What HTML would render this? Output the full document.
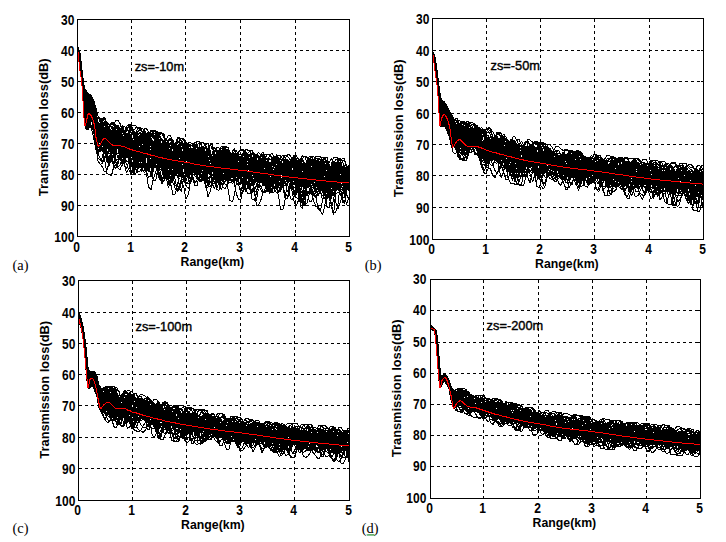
<!DOCTYPE html>
<html><head><meta charset="utf-8"><title>Transmission loss</title>
<style>
html,body{margin:0;padding:0;background:#fff;}
body{width:726px;height:542px;overflow:hidden;}
svg{display:block;}
text{font-family:"Liberation Sans",sans-serif;fill:#000;}
.t{font-size:14.2px;font-weight:bold;}
.l{font-size:13.4px;font-weight:bold;}
.a{font-size:13.2px;font-weight:normal;stroke:#000;stroke-width:0.4px;}
.s{font-family:"Liberation Serif",serif;font-size:14.4px;}
.g{fill:none;stroke:#000;stroke-width:1;stroke-dasharray:3 3;shape-rendering:crispEdges;}
.f{fill:none;stroke:#000;stroke-width:1;shape-rendering:crispEdges;}
.k{fill:none;stroke:#000;stroke-width:2;stroke-linejoin:bevel;transform:scale(0.5);shape-rendering:crispEdges;}
.r{fill:none;stroke:#f00;stroke-width:2;stroke-linejoin:round;transform:scale(0.5);shape-rendering:crispEdges;}
</style></head>
<body>
<svg width="726" height="542" viewBox="0 0 726 542">
<rect width="726" height="542" fill="#fff"/>
<g id="pa">
<path class="g" d="M131.5 19.5V236.5M185.5 19.5V236.5M240.5 19.5V236.5M295.5 19.5V236.5M77.5 50.5H349.5M77.5 81.5H349.5M77.5 112.5H349.5M77.5 143.5H349.5M77.5 174.5H349.5M77.5 205.5H349.5"/>
<path class="k" d="M155 95l2 12 2 5 2 12 2 23 2 21 2 19 2 20 2 16 2 13 2-3 2-10 2 1 2 6 2 5 4 10 5 15 4 5 5-10 4-5 4 0 5-2 4 2 5-1 4 1 4-1 5 5 4 22 5 18 4-1 4-4 5 7 4 7 5 5 4 4 4-2 5-9 4-10 5 11 4 9 4-6 5-22 4-15 5-3 4 7 4 15 5 19 4 15 5 13 4 9 4-1 5-10 4-11 5-7 4-3 4-5 5-5 4 3 5 15 4 6 4-3 5-3 4-2 5 2 4 5 4 5 5 1 4 4 5 5 4 1 4 1 5 10 4 9 5-11 4-13 4-4 5 0 4-5 5-4 4 1 4 8 5 6 4-4 5-16 4-10 4 8 5 29 4 23 5-9 4-23 4-4 5 21 4 14 5-10 4-12 4-5 5 0 4-4 5 2 4 9 4 4 5-6 4-15 5-2 4 13 4 10 5-1 4 1 5 16 4 26 4 0 5-26 4-23 5 8 4 26 4 9 5-20 4-19 5-7 4 0 4-2 5 8 4 14 5 8 4 0 4-7 5-14 4-22 5-10 4 2 4 13 5 16 1 13M155 94l2 10 2 15 2 26 2 16 2 22 2 34 2 14 2-9 2 8 2 6 2-3 2-12 2-16 2-9 4 7 5 24 4 25 5 19 4 16 4 10 5 0 4-5 5-8 4-9 4-3 5 6 4 11 5 6 4-1 4-4 5-6 4-4 5-5 4 2 4 8 5 0 4-9 5-2 4 14 4 18 5-4 4-17 5-4 4 12 4 9 5 8 4 0 5-4 4 2 4 12 5 16 4 9 5-1 4-3 4-5 5-5 4-5 5-2 4-3 4-6 5-7 4 4 5 21 4 20 4-1 5-15 4-8 5-4 4-9 4-11 5-5 4 0 5 2 4-4 4-4 5 2 4 18 5 31 4 18 4-3 5-19 4-22 5-9 4 5 4 11 5 7 4 1 5-6 4-12 4-5 5 6 4 14 5 20 4 20 4 8 5-3 4 0 5 9 4 1 4-10 5-2 4 12 5 8 4-13 4-15 5 1 4 4 5-4 4-8 4-5 5-5 4-8 5-3 4 7 4 5 5-1 4-8 5-10 4-9 4-6 5 6 4 20 5 17 4 1 4-1 5 1 4 6 5 4 4 1 4-5 5-12 1-8M155 95l2 18 2 14 2-1 2 12 2 12 2 13 2 14 2 24 2 28 2 3 2 1 2 9 2-1 2-16 4-12 5 20 4 34 5 10 4-7 4 4 5 29 4 18 5-26 4-36 4-10 5 12 4 26 5 24 4 20 4 6 5-14 4-16 5-3 4 9 4 7 5-3 4-4 5-1 4-5 4-19 5-14 4-9 5-3 4 5 4 21 5 27 4 10 5 3 4-7 4-25 5-13 4 13 5 40 4 41 4 7 5-37 4-42 5-12 4 16 4 26 5 8 4-8 5-12 4-7 4 3 5 11 4 5 5 1 4-2 4-1 5 3 4 2 5-7 4-10 4 5 5 13 4 9 5-4 4-11 4-13 5-3 4 10 5 9 4-7 4-11 5 4 4 12 5 0 4-9 4-2 5 9 4 8 5 7 4 13 4 12 5 0 4-11 5-10 4-2 4-3 5-4 4-3 5 5 4 11 4 4 5 2 4 8 5 19 4 17 4-3 5-19 4-19 5-7 4 6 4 3 5-8 4-16 5-8 4 2 4-1 5-3 4 3 5 5 4 2 4 11 5 16 4 12 5-3 4-13 4-10 5-15 1-5M155 93l2 15 2 17 2 7 2 7 2 9 2 15 2 14 2 28 2 32 2 4 2-27 2-24 2 1 2 18 4 33 5 27 4 8 5-3 4 4 4 13 5 15 4-2 5-15 4-16 4-6 5 3 4 8 5 6 4-10 4-14 5-8 4 1 5 10 4 10 4 10 5 9 4 5 5-3 4 3 4 14 5 11 4-6 5-15 4 1 4 15 5 7 4-9 5-22 4-13 4-4 5 8 4 13 5 6 4 6 4 10 5 8 4 2 5-6 4-9 4-5 5 4 4 1 5-4 4-1 4 1 5-5 4-6 5 6 4 26 4 24 5 3 4-22 5-24 4-9 4 7 5 20 4 14 5 7 4-3 4-9 5-13 4-6 5 12 4 18 4 18 5 6 4-15 5-16 4-12 4-4 5 2 4 14 5 21 4 16 4-7 5-14 4-7 5-1 4 4 4 5 5-1 4-8 5-7 4 7 4 11 5 6 4-5 5-15 4-15 4-4 5 2 4-5 5-8 4 0 4 6 5 7 4 14 5 20 4 16 4 6 5-10 4-17 5-19 4-7 4 5 5 9 4 12 5 3 4-7 4-4 5 9 1 11M155 93l2 9 2 15 2 22 2 21 2 20 2 22 2 22 2 7 2 5 2 6 2 5 2 8 2-4 2-25 4-18 5 13 4 25 5 12 4-6 4-6 5 7 4 17 5 9 4-2 4-2 5 6 4 1 5-4 4-1 4 11 5 10 4-1 5-5 4-5 4 4 5 0 4-5 5-2 4 14 4 22 5 9 4-4 5-9 4-21 4-24 5-5 4 10 5 44 4 38 4 10 5-28 4-42 5-22 4 3 4 22 5 18 4-3 5-4 4 13 4 12 5-2 4-15 5-14 4 2 4 6 5 1 4 4 5 6 4-3 4-8 5-8 4-4 5-1 4 5 4 12 5 10 4 8 5 1 4-2 4 4 5 14 4 6 5-16 4-20 4-5 5 7 4 17 5 12 4 3 4-7 5-4 4 5 5 5 4-2 4 0 5 11 4 11 5 0 4-4 4-6 5-10 4-13 5-8 4 1 4 4 5 5 4-1 5-7 4 1 4 13 5 5 4 2 5 6 4 12 4 14 5 5 4-12 5-22 4-13 4 11 5 17 4 8 5 4 4 1 4-7 5-8 4-6 5-7 4-4 4 9 5 11 1-11M155 94l2 13 2 9 2 7 2 17 2 20 2 25 2 25 2 13 2 12 2 2 2-20 2-18 2 2 2 15 4 28 5 25 4 2 5-8 4 0 4 13 5 14 4-3 5-21 4-18 4-6 5-1 4 6 5 14 4 6 4 4 5 14 4 12 5 2 4 3 4 12 5 1 4-27 5-15 4 14 4 22 5 3 4-1 5 4 4-1 4-16 5-8 4 26 5 40 4 20 4-17 5-33 4-26 5-14 4-6 4-3 5 1 4 6 5 18 4 20 4 4 5-10 4-7 5 5 4 9 4-12 5-22 4-2 5 17 4 34 4 10 5-6 4 0 5 1 4-6 4-6 5-3 4-6 5-7 4 1 4 18 5 17 4 8 5 5 4 13 4 9 5 1 4-2 5-6 4-8 4-2 5 11 4 6 5-10 4-18 4-10 5 0 4 0 5-7 4-14 4-9 5 2 4 5 5 14 4 13 4 2 5 2 4 11 5 24 4 18 4-9 5-18 4-12 5-1 4-2 4-4 5-5 4-2 5 3 4 7 4 1 5-3 4-4 5 5 4 9 4 7 5-2 4-11 5-13 4-9 4 3 5 2 1-3M155 95l2 15 2 3 2 2 2 20 2 22 2 29 2 23 2 2 2 1 2 3 2 0 2-9 2-4 2 0 4 12 5 14 4 4 5 5 4 1 4 21 5 4 4-11 5-7 4 3 4 11 5 8 4 17 5 23 4 14 4-10 5-15 4-15 5-4 4 5 4 10 5 11 4 9 5 13 4 13 4 3 5-11 4-20 5-19 4 1 4 9 5 6 4 8 5 20 4 25 4 5 5-12 4-10 5-3 4 1 4 4 5-1 4-4 5-5 4-1 4-2 5-13 4-13 5-7 4-5 4 0 5 15 4 25 5 14 4 1 4-2 5-6 4-12 5-10 4 2 4 11 5 3 4-15 5-18 4-5 4 13 5 27 4 6 5-23 4-21 4 1 5 1 4 15 5 13 4 3 4-7 5-7 4 2 5 12 4 17 4 15 5 6 4-10 5-20 4-9 4 8 5 14 4 6 5-1 4-7 4-25 5-15 4 8 5 36 4 17 4-22 5-24 4 0 5 0 4 1 4 9 5 23 4 14 5 5 4 6 4-10 5-20 4-11 5 16 4 19 4 4 5-16 4-11 5 6 4 25 4 24 5-16 1-34M155 92l2 9 2 17 2 15 2 15 2 18 2 21 2 10 2-4 2 5 2 6 2 3 2 4 2 13 2 15 4 23 5 31 4 29 5 7 4-3 4-27 5-22 4-3 5 10 4 10 4 1 5-9 4-1 5 18 4 28 4 15 5-10 4-23 5-14 4-9 4-10 5-5 4 5 5 8 4 10 4 16 5 22 4 7 5-20 4-26 4-12 5 5 4 10 5 8 4 9 4 4 5-6 4-18 5-6 4 3 4 2 5 3 4 11 5 10 4-6 4-10 5 2 4 17 5 13 4-2 4-8 5 0 4 10 5 11 4-6 4-12 5-10 4 6 5 15 4-1 4-24 5-15 4 8 5 32 4 28 4 21 5 11 4-2 5-23 4-28 4-13 5-2 4 5 5 4 4 0 4-1 5-5 4-3 5 4 4 5 4 0 5-10 4-10 5-7 4 3 4 12 5 16 4 5 5 2 4 5 4 0 5-7 4-19 5-8 4 0 4 4 5 9 4 6 5 0 4-6 4-9 5-6 4-2 5 7 4 18 4 16 5 8 4 5 5 10 4 6 4-1 5-4 4 2 5 13 4 6 4-18 5-38 1-31M155 92l2 9 2 15 2 6 2 9 2 17 2 15 2 14 2 2 2 3 2 3 2 2 2 3 2 11 2 15 4 19 5 17 4 13 5 5 4 7 4 4 5-2 4-6 5-9 4-4 4-6 5-3 4 11 5 13 4-4 4 3 5 31 4 40 5 0 4-27 4-10 5 7 4 1 5-10 4-2 4 4 5-2 4-12 5-3 4 14 4 13 5 8 4 4 5-11 4-19 4-3 5 25 4 28 5 3 4-14 4-1 5 14 4 9 5-11 4-16 4-8 5-5 4-1 5 1 4-6 4-13 5-7 4 9 5 18 4 11 4 4 5 9 4 8 5-7 4-12 4-10 5-9 4-8 5-2 4 12 4 24 5 15 4-4 5-7 4 3 4 3 5-8 4-13 5-2 4 12 4 7 5-1 4-1 5 6 4 8 4-5 5-23 4-17 5 0 4 17 4 16 5-10 4-10 5 9 4 22 4 12 5-3 4-14 5-18 4-1 4 12 5 17 4 7 5-9 4-17 4-23 5-9 4 0 5 1 4 7 4 6 5 8 4 8 5-8 4-12 4 3 5 16 4 16 5-4 4-9 4-1 5-4 1-7M155 93l2 5 2 5 2 8 2 27 2 30 2 36 2 16 2-7 2 0 2 6 2 12 2 6 2-6 2-11 4 2 5 23 4 10 5-11 4-1 4 16 5 22 4 17 5 13 4 17 4 10 5-15 4-24 5-9 4-2 4-2 5-18 4-18 5 0 4 1 4 4 5 3 4 4 5 12 4 13 4 11 5 10 4 5 5-1 4-13 4-4 5 5 4 7 5-5 4-12 4-5 5 6 4 22 5 14 4-2 4-10 5-6 4 4 5-5 4-8 4 3 5 10 4-5 5-18 4-5 4 1 5 8 4 20 5 24 4 13 4 6 5 2 4-12 5-19 4-8 4 21 5 36 4 24 5 2 4-14 4-24 5-19 4-4 5 14 4 4 4-17 5-16 4 2 5 15 4 3 4 1 5 4 4 0 5-3 4 1 4 6 5 5 4-5 5-2 4 8 4 7 5 0 4-11 5-16 4-14 4-1 5 16 4 22 5 6 4-11 4-7 5 5 4 16 5-1 4-14 4-8 5 0 4-1 5-8 4-4 4 6 5 18 4 24 5 12 4-21 4-33 5-14 4 9 5 20 4 10 4 2 5 3 1 10M155 94l2 15 2 15 2 16 2 18 2 21 2 20 2 7 2-11 2-5 2 2 2 3 2 6 2 10 2 14 4 22 5 24 4 13 5-8 4 0 4 21 5 27 4 4 5-17 4-18 4-19 5-16 4 3 5 17 4 11 4-8 5-9 4-4 5-6 4-6 4-1 5 1 4 1 5 3 4 7 4 12 5 13 4 5 5-7 4-4 4 10 5 16 4 6 5 0 4 1 4 8 5 10 4 2 5-5 4-6 4-6 5-11 4-2 5 11 4 8 4-1 5-6 4-7 5-7 4-7 4-4 5-3 4 6 5 13 4 12 4 4 5-2 4 0 5-2 4 1 4 13 5 15 4 1 5-15 4-16 4-6 5-1 4 5 5 8 4 5 4 5 5 0 4-9 5-5 4 13 4 18 5-3 4-22 5-14 4-1 4 12 5 25 4 24 5 0 4-15 4-2 5 4 4 0 5-4 4-8 4-7 5 3 4 12 5 6 4-4 4 1 5 9 4 10 5 0 4-5 4-4 5-3 4 1 5-3 4-18 4-17 5 4 4 18 5 5 4-3 4 1 5 2 4-1 5-6 4-5 4 0 5 2 1-4M155 93l2 12 2 12 2 6 2 13 2 17 2 27 2 25 2 7 2-1 2-13 2-8 2 4 2 13 2 12 4 3 5-2 4 12 5 14 4 24 4 2 5-15 4 0 5 5 4 9 4 6 5-2 4-1 5 8 4 11 4 11 5 15 4 10 5-7 4-14 4-5 5-8 4-19 5-9 4 6 4 18 5 19 4 3 5-11 4-7 4 11 5 8 4-12 5-5 4 21 4 21 5-2 4-14 5-2 4 15 4 21 5 6 4-10 5-16 4-10 4-15 5-10 4-1 5 6 4 9 4 5 5 2 4-1 5 1 4 8 4 19 5 29 4 2 5-23 4-22 4-6 5-2 4-2 5 7 4 5 4-3 5-5 4-1 5 6 4 5 4 2 5 5 4 1 5-5 4-3 4-7 5-6 4-5 5 2 4 7 4-3 5-7 4 2 5 12 4 12 4-4 5-12 4-4 5 5 4 8 4-5 5-18 4-6 5 9 4 22 4 12 5-3 4-8 5-10 4-6 4 15 5 26 4 9 5-9 4 1 4 9 5-11 4-19 5-11 4 3 4 3 5 6 4 11 5 1 4-6 4-5 5 3 1 4M155 93l2 4 2 7 2 18 2 26 2 24 2 25 2 1 2-19 2 3 2 3 2 2 2 16 2 26 2 8 4 7 5 26 4 30 5 3 4-25 4-20 5 6 4 25 5 25 4 18 4 3 5-7 4-17 5-15 4-15 4-11 5-2 4 7 5 17 4 5 4-15 5-3 4 11 5 5 4-10 4-9 5 1 4 5 5 3 4 5 4 11 5 9 4 3 5 3 4 8 4 14 5 8 4 0 5 0 4 1 4-4 5-10 4-5 5 6 4 10 4-5 5-7 4 5 5 9 4 8 4 1 5-4 4-10 5-7 4 0 4-1 5-8 4-8 5 0 4 9 4 4 5-8 4-9 5 2 4 16 4 18 5 23 4 15 5-5 4-13 4-2 5-3 4-18 5-15 4 9 4 18 5 6 4-2 5 0 4 7 4-1 5-2 4 6 5 7 4 4 4-9 5-13 4-10 5-7 4 6 4 7 5-4 4-19 5-5 4 25 4 34 5 23 4-5 5-20 4-28 4-29 5-8 4 7 5 4 4-9 4-7 5 11 4 39 5 48 4 16 4-41 5-49 4-15 5 13 4 11 4-9 5-6 1 6M155 95l2 18 2 18 2 14 2 7 2 11 2 31 2 51 2 12 2 2 2-7 2-13 2-4 2-3 2-3 4 7 5 18 4 12 5 4 4 14 4 10 5-2 4-5 5 1 4 9 4 0 5-19 4-24 5-3 4 13 4 28 5 7 4-5 5-4 4 4 4 4 5-3 4 4 5 8 4 4 4-2 5-8 4-3 5 13 4 19 4 26 5 5 4-15 5-19 4-13 4-5 5 9 4 8 5-7 4-17 4 3 5 8 4-10 5-15 4 2 4 24 5 22 4 10 5-2 4-1 4 0 5-4 4-5 5-9 4-4 4 2 5 3 4 0 5-3 4-1 4 8 5 10 4 8 5 7 4-5 4-21 5-27 4-4 5 1 4 15 4 27 5 7 4-3 5 3 4 7 4-5 5-14 4-9 5 2 4 4 4 4 5 4 4 5 5 1 4-6 4-10 5-4 4 8 5 9 4-1 4-6 5-9 4-7 5-1 4 3 4 9 5 10 4 19 5 19 4-6 4-18 5-11 4 14 5 9 4-7 4-6 5-1 4 5 5 3 4 0 4-2 5-1 4 3 5 2 4-5 4-11 5-11 1-2M155 94l2 15 2 11 2 8 2 16 2 16 2 17 2 11 2 2 2 7 2 12 2 11 2-3 2-1 2 12 4 29 5 36 4 23 5 5 4-7 4-21 5-15 4-2 5 13 4 22 4 12 5-5 4-14 5-10 4-9 4-2 5 7 4 6 5-2 4-6 4-2 5-7 4-11 5-1 4 11 4 19 5 5 4-2 5 13 4 15 4 1 5-19 4-11 5 13 4 11 4 7 5 7 4 1 5-7 4 0 4 8 5 13 4 12 5 4 4-9 4-18 5-9 4 1 5 0 4-2 4-2 5 2 4 10 5 11 4 7 4 1 5-6 4-10 5-5 4-3 4-6 5 7 4 17 5 14 4-8 4-20 5 0 4 20 5 21 4-7 4-33 5-22 4 4 5 17 4 9 4 4 5 5 4 6 5-7 4-10 4-10 5-7 4 2 5 5 4 5 4-3 5-4 4 3 5-1 4-1 4 3 5 10 4 11 5 1 4-7 4-3 5 2 4-2 5-6 4 0 4-3 5-9 4-10 5-8 4-1 4 0 5 0 4 15 5 29 4 2 4-11 5-2 4 12 5 7 4 0 4-4 5 1 1-3M155 94l2 19 2 18 2 14 2 2 2 8 2 21 2 29 2 10 2-3 2-6 2 5 2 23 2 20 2 3 4 18 5 25 4 9 5 9 4 8 4-7 5-12 4-1 5 2 4-4 4-12 5-4 4 8 5 7 4-1 4 3 5 18 4 6 5-23 4-25 4-14 5-1 4 12 5 21 4 4 4-21 5-11 4 2 5 13 4 27 4 19 5 1 4-11 5 14 4 32 4 3 5-22 4-18 5-10 4-6 4 2 5 7 4-3 5-18 4-3 4 12 5 10 4-5 5 1 4 20 4 20 5-1 4-12 5-2 4-2 4-10 5-11 4 7 5 10 4 1 4-2 5-5 4-6 5 1 4 10 4 7 5 3 4 8 5 17 4 12 4-8 5-30 4-28 5-8 4 8 4 15 5 6 4-9 5-14 4-7 4 1 5 9 4 20 5 18 4-1 4-7 5 3 4 16 5-1 4-29 4-21 5-1 4 18 5 27 4 14 4-5 5-19 4-22 5-6 4 3 4 10 5 15 4 14 5 6 4-6 4-7 5 4 4 16 5 9 4-10 4-14 5-3 4 3 5-1 4-6 4-2 5 5 1 2M155 94l2 16 2 17 2 11 2 10 2 12 2 12 2 12 2 1 2-3 2 3 2 16 2 27 2 12 2-3 4 15 5 28 4 5 5-28 4-19 4 5 5 10 4 2 5-2 4 4 4 9 5 8 4 13 5 17 4 8 4 1 5 3 4 4 5-10 4-25 4-15 5 10 4 26 5 24 4 11 4-3 5-13 4-14 5-11 4-16 4-15 5-3 4 3 5 19 4 10 4-10 5-4 4 10 5 15 4 12 4 5 5 3 4 0 5-6 4-11 4-7 5-7 4-4 5 1 4 6 4 15 5 13 4 7 5 14 4 19 4 8 5-11 4-24 5-19 4-5 4 10 5 7 4-2 5 3 4 0 4-2 5-7 4-9 5-11 4-8 4 1 5 1 4 0 5 8 4 19 4 19 5 14 4 4 5-12 4-14 4-1 5 12 4 11 5-1 4-8 4-3 5 2 4 2 5 3 4 13 4 8 5-13 4-14 5-6 4 9 4 8 5 4 4 4 5-3 4-3 4-4 5-14 4-17 5-3 4 19 4 24 5 9 4-8 5-13 4-9 4 2 5 12 4 14 5 6 4-6 4-11 5-6 1 4M155 94l2 11 2 8 2 7 2 15 2 15 2 22 2 39 2 18 2-3 2-18 2-14 2 2 2 11 2 21 4 26 5 25 4 16 5-1 4-3 4-5 5 5 4 11 5-3 4-14 4-16 5 13 4 25 5 5 4-28 4-31 5-4 4 1 5 10 4 7 4-3 5-5 4 3 5 13 4 30 4 18 5-1 4-12 5-6 4 7 4-3 5 0 4 15 5 20 4 3 4-17 5-9 4 3 5 10 4 11 4 6 5-5 4-14 5-13 4-3 4 6 5-2 4-4 5 9 4 8 4 2 5-4 4-3 5-6 4-16 4-10 5 4 4 25 5 23 4 7 4 1 5 3 4-1 5-12 4-6 4 6 5 10 4 6 5 10 4 11 4-6 5-19 4-4 5 27 4 31 4 0 5-12 4-14 5-1 4-1 4-10 5-21 4-29 5-14 4 7 4 20 5-2 4-16 5-9 4 0 4 7 5 13 4 6 5-1 4 7 4 24 5 13 4-7 5-7 4 2 4 5 5-7 4-14 5-7 4 14 4 19 5 9 4-11 5-14 4-2 4 1 5 2 4 13 5 20 4 0 4-21 5-13 1 7M155 94l2 15 2 19 2 13 2 12 2 20 2 28 2 21 2 13 2 24 2 1 2-2 2-33 2-16 2 3 4 20 5 22 4 10 5 4 4 2 4-3 5-7 4 3 5 6 4 6 4 5 5-1 4-1 5 0 4-2 4 8 5 14 4 5 5-5 4-1 4 7 5 10 4 10 5 4 4 0 4 5 5 16 4 8 5-6 4-6 4 10 5 12 4-7 5-19 4-10 4 13 5 22 4 6 5-5 4-12 4-16 5-16 4-13 5 7 4 11 4 8 5 9 4 0 5-4 4 1 4 11 5 5 4-3 5-2 4 2 4-3 5-10 4-10 5-16 4-10 4 3 5 17 4 18 5 4 4-7 4-5 5-3 4 4 5 3 4 0 4 10 5 23 4 11 5-18 4-26 4-16 5-2 4 6 5 4 4-9 4-12 5-5 4 8 5 20 4 14 4-10 5-12 4-5 5-2 4 5 4 6 5 3 4-3 5-4 4 8 4 8 5-5 4-16 5-9 4 0 4 9 5 10 4 4 5 2 4 0 4 2 5 6 4 5 5 7 4 5 4 3 5-1 4-4 5 2 4 10 4 17 5 10 1 2M155 92l2 10 2 19 2 18 2 15 2 22 2 23 2 0 2-18 2 1 2 3 2 2 2 32 2 19 2-7 4 5 5 26 4 13 5-14 4-12 4 7 5 20 4 14 5 1 4-5 4-6 5-10 4 3 5 18 4 8 4-1 5-11 4-5 5 15 4 18 4 14 5-10 4-11 5 6 4 15 4 15 5-2 4-11 5-7 4 5 4 20 5 16 4-3 5-13 4-14 4-8 5-7 4-9 5 3 4 10 4 10 5 3 4-2 5-1 4-7 4-16 5-6 4 9 5 8 4 3 4 12 5 32 4 24 5-11 4-21 4-7 5 1 4-9 5-19 4-20 4-2 5 15 4 19 5 6 4-2 4 2 5 4 4-8 5-7 4 4 4 6 5 0 4-13 5-5 4 9 4 10 5 3 4-4 5 0 4 4 4 0 5-1 4 0 5-3 4-2 4-1 5 2 4 3 5 8 4 10 4-1 5-7 4 3 5 17 4 18 4 9 5-5 4-25 5-36 4-19 4 0 5 8 4 12 5 12 4 6 4-5 5-3 4 9 5 2 4 1 4 6 5 10 4 7 5 3 4 2 4-8 5-11 1-3M155 94l2 15 2 20 2 17 2 13 2 12 2 13 2 12 2 9 2 12 2 23 2 18 2-3 2-1 2 0 4-14 5 11 4 23 5 8 4-6 4 7 5 25 4 12 5-12 4-16 4-6 5-12 4-16 5-1 4 7 4 7 5-2 4-5 5 4 4 6 4-2 5 0 4 9 5 11 4-2 4-7 5 7 4 15 5 2 4-3 4 1 5 11 4 6 5-5 4-12 4-3 5 13 4 4 5-14 4-11 4 11 5 23 4 8 5-9 4-10 4-5 5-3 4-3 5 5 4 12 4 3 5-10 4-11 5 0 4 19 4 23 5 18 4 1 5-14 4-18 4-20 5-5 4 5 5 11 4 9 4-1 5-9 4-6 5 4 4 13 4 8 5 1 4 2 5 10 4 14 4-3 5-21 4-17 5 5 4 22 4 25 5 5 4-18 5-18 4-9 4-6 5-4 4 5 5 15 4 10 4-2 5-5 4-9 5-17 4-11 4 2 5 10 4 0 5-11 4-4 4 10 5 21 4 21 5 15 4-3 4-8 5 0 4 16 5 24 4 14 4 2 5-17 4-37 5-28 4-5 4 18 5 12 1 2M155 93l2 12 2 14 2 15 2 12 2 7 2 10 2 21 2 28 2 11 2-8 2-11 2-7 2-7 2 2 4 7 5 18 4 15 5 5 4 0 4 2 5 7 4 3 5-2 4 4 4 3 5 0 4 3 5 8 4 4 4-3 5 2 4 6 5 10 4 14 4 8 5 5 4-4 5-10 4-14 4-15 5-7 4 2 5 21 4 39 4 30 5 8 4-12 5-9 4 3 4 6 5-2 4-14 5-18 4-20 4-8 5 5 4 11 5 7 4 2 4 4 5 16 4 21 5 7 4-21 4-22 5 6 4 15 5 4 4-9 4-14 5-5 4 0 5 4 4 12 4 15 5 14 4 3 5-15 4-18 4-9 5 7 4 17 5 10 4-2 4-4 5-6 4-13 5-7 4 2 4-2 5-13 4-5 5 14 4 37 4 16 5-14 4-10 5 1 4 1 4-6 5-2 4 10 5 16 4 22 4 11 5-6 4-13 5-11 4-4 4 6 5 13 4 6 5-10 4-9 4-1 5-5 4-11 5-8 4 16 4 25 5 10 4-16 5-24 4-27 4-13 5 1 4 9 5 14 4 17 4 12 5 3 1-13M155 92l2 5 2 8 2 14 2 21 2 22 2 22 2 19 2 4 2 5 2 0 2-8 2-3 2 1 2 1 4 10 5 29 4 29 5-12 4-22 4-3 5 14 4 41 5 24 4 3 4-17 5-20 4-10 5 8 4 14 4 6 5-5 4-8 5 3 4 11 4 10 5 16 4 16 5 5 4-4 4-2 5-8 4-9 5 5 4 18 4 14 5-9 4-22 5-13 4-4 4 6 5 9 4 5 5-14 4-35 4-6 5 6 4 32 5 17 4-4 4-11 5-19 4-14 5 1 4 1 4 24 5 25 4 1 5-11 4-4 4 6 5 7 4 0 5-6 4-6 4-7 5-3 4 4 5 14 4 10 4-2 5-1 4 2 5 1 4-12 4-14 5-4 4 7 5 17 4 16 4 7 5-4 4-8 5-6 4 8 4 9 5 5 4 0 5 4 4 7 4-1 5 2 4-1 5-5 4-8 4-1 5 2 4-6 5-15 4-9 4 3 5 15 4 5 5-21 4-19 4 1 5 8 4 12 5 0 4 3 4 14 5 10 4-2 5 0 4-4 4-20 5-17 4-1 5 7 4 15 4 5 5 2 1 13M155 92l2 5 2 8 2 17 2 21 2 21 2 35 2 44 2 14 2 2 2-2 2-13 2-15 2-12 2-7 4 0 5 7 4 15 5 7 4 36 4 33 5-9 4-27 5-18 4 0 4 10 5 4 4-1 5 8 4 19 4 15 5 1 4-8 5 2 4 14 4 1 5-16 4-20 5-14 4-2 4 8 5 17 4 9 5-5 4 12 4 28 5 26 4-7 5-30 4-17 4 4 5 15 4 5 5-12 4-17 4 2 5 21 4 18 5 7 4-5 4-4 5-7 4-18 5-15 4 8 4 24 5 19 4 4 5-2 4-5 4-7 5-10 4-15 5-11 4-1 4 8 5 11 4-1 5-7 4 6 4 21 5 22 4 2 5-15 4-16 4-6 5 13 4 15 5 3 4-5 4 0 5 2 4-10 5-10 4 2 4 12 5 12 4 0 5-4 4 0 4 0 5-8 4-13 5-6 4 13 4 9 5-2 4-11 5-16 4-7 4 1 5 6 4 6 5 1 4 1 4-1 5-9 4-8 5 3 4 20 4 37 5 36 4 3 5-29 4-24 4-2 5 4 4-6 5-13 4-5 4-6 5-4 1 2M155 95l2 18 2 18 2 12 2 7 2 15 2 21 2 23 2 18 2 23 2 9 2-15 2-23 2-16 2-3 4 10 5 20 4 26 5 26 4 17 4-9 5-16 4 2 5 9 4 4 4-5 5-14 4 0 5 7 4-3 4-4 5 5 4 17 5 1 4-23 4-15 5-3 4 9 5 19 4 19 4 8 5 2 4-8 5-11 4 0 4 6 5-7 4-10 5 6 4 33 4 44 5 26 4-1 5-19 4-22 4-19 5-14 4-4 5-1 4 3 4 13 5 16 4 15 5 5 4 1 4-12 5-25 4-23 5 2 4 11 4 4 5 3 4 12 5 20 4 7 4-11 5-15 4-18 5-8 4 2 4 15 5 18 4 5 5-3 4-4 4 3 5 5 4 5 5 5 4-6 4-9 5-9 4-10 5-8 4-1 4 8 5 5 4-11 5-8 4 7 4 18 5 12 4-1 5 3 4 9 4 5 5 1 4 3 5 10 4 3 4-13 5-14 4-2 5 7 4-2 4-8 5 2 4 9 5-1 4-12 4-5 5 4 4 11 5 9 4-1 4-14 5-5 4 22 5 35 4 3 4-25 5-12 1 6M155 94l2 15 2 9 2 11 2 20 2 21 2 18 2 4 2-7 2 1 2 14 2 14 2 1 2-2 2-1 4 3 5 16 4 32 5 26 4 2 4-11 5-5 4 1 5-9 4-7 4 4 5 21 4 31 5 16 4-15 4-22 5-8 4 12 5 10 4 3 4 0 5 9 4 18 5 3 4-14 4-7 5 15 4 22 5 4 4-16 4-18 5-6 4 10 5 23 4 4 4-22 5-24 4-22 5-8 4 0 4 7 5 9 4-6 5-7 4-1 4 3 5 6 4 9 5 14 4 9 4-4 5-13 4-9 5 4 4 19 4 13 5-2 4-15 5-15 4-8 4 1 5 10 4 12 5 1 4-5 4-2 5 3 4-2 5-5 4 6 4 27 5 33 4 23 5 3 4-16 4-25 5-15 4 4 5 17 4 15 4 3 5-5 4-5 5-1 4 0 4-9 5-14 4-7 5 13 4 14 4 2 5-4 4-7 5-18 4-23 4-9 5 3 4 13 5 28 4 23 4 7 5-13 4-26 5-23 4-9 4 4 5 13 4 7 5-3 4 2 4 8 5 0 4-9 5 0 4 18 4 16 5 1 1-5M155 93l2 9 2 12 2 12 2 18 2 25 2 45 2 31 2 12 2-8 2-3 2-1 2-8 2-20 2-14 4 10 5 27 4 21 5 1 4-7 4-8 5-2 4 14 5 19 4 16 4 11 5 2 4-3 5-4 4-3 4 1 5 11 4 22 5 7 4-16 4-18 5-2 4 3 5-13 4-20 4-9 5 4 4 7 5-5 4-6 4 5 5 35 4 38 5 10 4-17 4-19 5-12 4 13 5 19 4 9 4-7 5-1 4 7 5 1 4-5 4-4 5-5 4-2 5 3 4 1 4-1 5 9 4 21 5 12 4-14 4-22 5-17 4-7 5 4 4 10 4 3 5-3 4-6 5-7 4-2 4 0 5 0 4 2 5 7 4 13 4 10 5 6 4 7 5 4 4 2 4-3 5-8 4-4 5 2 4 2 4-9 5-20 4-7 5 7 4 16 4 10 5 0 4-12 5-11 4-1 4 15 5 20 4 9 5-4 4-9 4-7 5-7 4-4 5-7 4-7 4 1 5 11 4 14 5 4 4-4 4 0 5 5 4-2 5-9 4-7 4 1 5 6 4 1 5-3 4 2 4 2 5 3 1 11M155 92l2 5 2 6 2 16 2 24 2 21 2 35 2 39 2 12 2 1 2-11 2-21 2-18 2-4 2 6 4 20 5 28 4 13 5-6 4-3 4 15 5 16 4 5 5-6 4-8 4-4 5 5 4 5 5-3 4-11 4-9 5 2 4 20 5 24 4 7 4-3 5 8 4 15 5-14 4-38 4-15 5 17 4 30 5 9 4-5 4-4 5-3 4-9 5 3 4 16 4 4 5-2 4 6 5 15 4 9 4 3 5-2 4-6 5-12 4-9 4-3 5-15 4-10 5 6 4 19 4 13 5-1 4-5 5-10 4-7 4 0 5 7 4 2 5-7 4-9 4-6 5-2 4 6 5 13 4 9 4-1 5 1 4 13 5 13 4 9 4 11 5 5 4 4 5 3 4-2 4-7 5-15 4-14 5-10 4-3 4 3 5 3 4 8 5 8 4 2 4-8 5-11 4-6 5 4 4 14 4 15 5 20 4 10 5 3 4 1 4-9 5-20 4-19 5-11 4 10 4 17 5 14 4-7 5-14 4-1 4 9 5 1 4-7 5 0 4 6 4 6 5-4 4-9 5-3 4 4 4 5 5 0 1-3M155 93l2 4 2 6 2 8 2 20 2 32 2 43 2 20 2-16 2-19 2-4 2 1 2 1 2 1 2 16 4 37 5 29 4-2 5-9 4 5 4 8 5 2 4 0 5 4 4 14 4 10 5-14 4-27 5-5 4 12 4 28 5 17 4 6 5 6 4-5 4-15 5-11 4 5 5 6 4-15 4-13 5 2 4 15 5 18 4 19 4 23 5 7 4-9 5-9 4-3 4-3 5-17 4-30 5-18 4 1 4 8 5 19 4 12 5-9 4-13 4-2 5 15 4 17 5-7 4-13 4-4 5 6 4 17 5 15 4 5 4-1 5 0 4 11 5 16 4 9 4 0 5-12 4-14 5-11 4 0 4 11 5 22 4 9 5-17 4-30 4-26 5-7 4 0 5 10 4 17 4 7 5-3 4 8 5 19 4 13 4-9 5-13 4-4 5 0 4-8 4-10 5-1 4 5 5 6 4 5 4 9 5 6 4-4 5-8 4-15 4-14 5-5 4 3 5 6 4 2 4 3 5 4 4 3 5-1 4 1 4 5 5 7 4 9 5 4 4-10 4-12 5-7 4 1 5 7 4 6 4 5 5 8 1-4M155 92l2 11 2 19 2 17 2 16 2 17 2 24 2 21 2 2 2 9 2 19 2 10 2-10 2-23 2-12 4 6 5 14 4 13 5 7 4 14 4 19 5 30 4 18 5-19 4-35 4-26 5 2 4 21 5 16 4-4 4-17 5-8 4 2 5 5 4 0 4 2 5 14 4 14 5-1 4-1 4 11 5 5 4-17 5-22 4-5 4 3 5 5 4 15 5 28 4 26 4 15 5-4 4-15 5-10 4 1 4 13 5 13 4 11 5 6 4-11 4-22 5-17 4-14 5-6 4 1 4 5 5 0 4-16 5-9 4 2 4 17 5 24 4 4 5-5 4-16 4-9 5 3 4 19 5 26 4 11 4-16 5-19 4-10 5 5 4 14 4 13 5 10 4 4 5-2 4-3 4 4 5 9 4 11 5-1 4-8 4-3 5-9 4-13 5-12 4-7 4-5 5-7 4-8 5 1 4 6 4 3 5 0 4-4 5 1 4 5 4 10 5 17 4 7 5 2 4 0 4 5 5 8 4 0 5 0 4 5 4 12 5 8 4-9 5-19 4-24 4-16 5-3 4 8 5 23 4 16 4 1 5-11 1-13M155 95l2 18 2 14 2 8 2 14 2 18 2 23 2 15 2 5 2-4 2-13 2-6 2 2 2 1 2 2 4 7 5 22 4 26 5 17 4 11 4-7 5-19 4 0 5 4 4 9 4 5 5-1 4 4 5 12 4 11 4 3 5 5 4 19 5 22 4-3 4-16 5-5 4 3 5 0 4-9 4-9 5-9 4-4 5 6 4 3 4-5 5 2 4 25 5 22 4-15 4-28 5-5 4 18 5 11 4-2 4-6 5-3 4 3 5 1 4 5 4 12 5 18 4 4 5-17 4-16 4-11 5 5 4 14 5 9 4 3 4 0 5 1 4-1 5-1 4 1 4-1 5-13 4-17 5 1 4 16 4 12 5-2 4-7 5-1 4 7 4 10 5 15 4-1 5-17 4-15 4 1 5 17 4 18 5 7 4 3 4 5 5-3 4-16 5-17 4-6 4 16 5 20 4 20 5 3 4-18 4-25 5-19 4 1 5 13 4 6 4-5 5-9 4 3 5 13 4 6 4-12 5-14 4 5 5 11 4-5 4-9 5 5 4 13 5 6 4-1 4-5 5-10 4-9 5 4 4 12 4 6 5-6 1-11M155 92l2 5 2 11 2 22 2 24 2 22 2 20 2 7 2 5 2 19 2 12 2-11 2-16 2-3 2 7 4 18 5 28 4 26 5 5 4-3 4 1 5 16 4 16 5-3 4-12 4-14 5-9 4-8 5-6 4-8 4-10 5-3 4 16 5 34 4 26 4 8 5-6 4-14 5-12 4 5 4 23 5 22 4-8 5-27 4-16 4 10 5 19 4 15 5-7 4-14 4-5 5 2 4 4 5 4 4-2 4-13 5-21 4-8 5 3 4 8 4 14 5 20 4 9 5-20 4-27 4 2 5 27 4 23 5 0 4-12 4-5 5 3 4 5 5 11 4 13 4 11 5-2 4-15 5-9 4 4 4 18 5 5 4-13 5-14 4-7 4-5 5-3 4 12 5 9 4 4 4-6 5-21 4-14 5 5 4 17 4 5 5-8 4-3 5 9 4 13 4 5 5 1 4 0 5-1 4-2 4-2 5 7 4 10 5-9 4-17 4-7 5-2 4-8 5-6 4 7 4 19 5 14 4 1 5-9 4-19 4-10 5 5 4 16 5 19 4 2 4-15 5-15 4-4 5 3 4 1 4 0 5 7 1 7M155 93l2 15 2 16 2 6 2 11 2 20 2 34 2 30 2-5 2-12 2-4 2 10 2 3 2-4 2-2 4 10 5 16 4 8 5 2 4-1 4 3 5 17 4 20 5 4 4 0 4 8 5-2 4-21 5-13 4 4 4 20 5 20 4 2 5-8 4-2 4 11 5 13 4-7 5-19 4-11 4 5 5 17 4 12 5 14 4 12 4-12 5-26 4-17 5 5 4 16 4 8 5 0 4-8 5-4 4 21 4 29 5-8 4-28 5-21 4 4 4 13 5-2 4-9 5 0 4 20 4 19 5 6 4-3 5-3 4-3 4-6 5 5 4 25 5 14 4-18 4-26 5-7 4 5 5-9 4-11 4 5 5 20 4 15 5-2 4-10 4-9 5-11 4-5 5 2 4 6 4 8 5 4 4 2 5 10 4 17 4 14 5 1 4-14 5-19 4-22 4-12 5-3 4 5 5 11 4 21 4 13 5 6 4 1 5 0 4 1 4-1 5-5 4-5 5-3 4 3 4 5 5-4 4-17 5-15 4 3 4 18 5 21 4 27 5 16 4-10 4-32 5-26 4-3 5 12 4 6 4-7 5-16 1-13M155 95l2 15 2 8 2-1 2 15 2 17 2 16 2 12 2 2 2 3 2 12 2 27 2 16 2-1 2-12 4-9 5 18 4 34 5 10 4-4 4 2 5 13 4 1 5-21 4-10 4 2 5 3 4-5 5-4 4-1 4 3 5 8 4 25 5 28 4 19 4 6 5 0 4-6 5-2 4 14 4 26 5 5 4-18 5-17 4-7 4-3 5 3 4 5 5-7 4-18 4-17 5 10 4 24 5 21 4-4 4-16 5-5 4 3 5 2 4-3 4-2 5-1 4-3 5-14 4-13 4-5 5 2 4 8 5 17 4 15 4-2 5-14 4-1 5 21 4 22 4 2 5-15 4-12 5-1 4 4 4 3 5-10 4-20 5-9 4 0 4 5 5 5 4 1 5 2 4 10 4 18 5 13 4 4 5-9 4-9 4-6 5 1 4-6 5-9 4 7 4 17 5 1 4-19 5-7 4 14 4 28 5 24 4 1 5-18 4-19 4-15 5-10 4-5 5-1 4-1 4 2 5 9 4 21 5 17 4 11 4 6 5-2 4-13 5-13 4-9 4 3 5 8 4 2 5 1 4 3 4 2 5-2 1-3M155 95l2 15 2 4 2 9 2 18 2 14 2 12 2 15 2 13 2 14 2 17 2 10 2 3 2 7 2 10 4 4 5-19 4-7 5 11 4 17 4 4 5 2 4 20 5 13 4-5 4-18 5-5 4 24 5 26 4 3 4-13 5-7 4-8 5-24 4-10 4 19 5 41 4 19 5-19 4-25 4-15 5 0 4 7 5 11 4 10 4 6 5 3 4-1 5-6 4-3 4 8 5 5 4-3 5-6 4-3 4 5 5 13 4 16 5-1 4-18 4-8 5 11 4 22 5 12 4-7 4-3 5 8 4 9 5-6 4-9 4 9 5 10 4-11 5-17 4-3 4 4 5-5 4-11 5-10 4 0 4 8 5 7 4 0 5 3 4 13 4 12 5-10 4-14 5-4 4 3 4 2 5 4 4 5 5 0 4 2 4 14 5 5 4-22 5-30 4-10 4 0 5 9 4 8 5-1 4-4 4 3 5 14 4 14 5 8 4 21 4 26 5 0 4-32 5-38 4-15 4 8 5 22 4 13 5 7 4 10 4 14 5 0 4-20 5-25 4-20 4-5 5 3 4 2 5 7 4 19 4 9 5-12 1-24M155 95l2 18 2 18 2 14 2 16 2 22 2 34 2 28 2-3 2-25 2-9 2-2 2-3 2-3 2 5 4 31 5 50 4 36 5 7 4 5 4 10 5-3 4-19 5-23 4-9 4 11 5 14 4 0 5-11 4-9 4-11 5-5 4 17 5 26 4 10 4-20 5-9 4 11 5 9 4-11 4-9 5 5 4 5 5-2 4-6 4-5 5-3 4 6 5 8 4 7 4 9 5 21 4 28 5 7 4-15 4-9 5 17 4 22 5-9 4-31 4-18 5-2 4-1 5-3 4 6 4 16 5 19 4 0 5-25 4-32 4-17 5 3 4 23 5 23 4 4 4-19 5-21 4-2 5 14 4 4 4-15 5-11 4-3 5 1 4 5 4 11 5 23 4 9 5-5 4-8 4 3 5 7 4-6 5-13 4 11 4 24 5 23 4-1 5-19 4-20 4-18 5 2 4 11 5 7 4 3 4 7 5-1 4-15 5-19 4-7 4 5 5 16 4 25 5 7 4-15 4-23 5 0 4 25 5 27 4 18 4-13 5-25 4-18 5-10 4-6 4-1 5 2 4-2 5-4 4 8 4 19 5 13 1 4M155 93l2 14 2 18 2 21 2 15 2 22 2 34 2 28 2 2 2-11 2-3 2-8 2-19 2-11 2 10 4 44 5 48 4 10 5-16 4-17 4-16 5 1 4 22 5 18 4 10 4-4 5-13 4-4 5 11 4 16 4 8 5-2 4 7 5 16 4 5 4-10 5-12 4 0 5 10 4-1 4-19 5-13 4 6 5 4 4-26 4-23 5 1 4 9 5 20 4 16 4 10 5-2 4-12 5-4 4 1 4-8 5-5 4 19 5 25 4-3 4-32 5-16 4 5 5 19 4 21 4 3 5 1 4 5 5 2 4-10 4-23 5-12 4 1 5 11 4 25 4 20 5 12 4 2 5-5 4-10 4-8 5 0 4 0 5-13 4-19 4-3 5 20 4 29 5 31 4 13 4-24 5-40 4-26 5-3 4 0 4 1 5 6 4 13 5 4 4-1 4 20 5 23 4-3 5-22 4-17 4 11 5 16 4 10 5 8 4 14 4 13 5-7 4-23 5-11 4 14 4 25 5 11 4-1 5 9 4 9 4-16 5-26 4-11 5 4 4-8 4-23 5-17 4-1 5 13 4 20 4 10 5-9 1-19M155 93l2 8 2 7 2 12 2 16 2 12 2 15 2 14 2 3 2 17 2 16 2 5 2 1 2 2 2 9 4 15 5 4 4 15 5 19 4 15 4-9 5-11 4 8 5 10 4 6 4-12 5-16 4 3 5 20 4 14 4-3 5-9 4 6 5 18 4 5 4-7 5-3 4-2 5-6 4-3 4 10 5 3 4-23 5-21 4 0 4 15 5 9 4-9 5-13 4-7 4 1 5 9 4 10 5 9 4 10 4 5 5 7 4 10 5 25 4 11 4-19 5-18 4-1 5 15 4 5 4-8 5-4 4-2 5-5 4-8 4-7 5-2 4 11 5 24 4 20 4-9 5-20 4-13 5-5 4 3 4 10 5 8 4 3 5 0 4 4 4 6 5 4 4 0 5-3 4 0 4 3 5 3 4 3 5-2 4-11 4-13 5-5 4 9 5 7 4 2 4-4 5-12 4-11 5 2 4 21 4 27 5 26 4 10 5-11 4-18 4-16 5-22 4-22 5-2 4 17 4 21 5 6 4 4 5 8 4-1 4-10 5-3 4 12 5 17 4-2 4-20 5-20 4 0 5 16 4 12 4-6 5-12 1-2M155 94l2 10 2 4 2 8 2 21 2 15 2 11 2 14 2 2 2 3 2 8 2 11 2 4 2-5 2-2 4 19 5 49 4 33 5-3 4 0 4 21 5 30 4 2 5 2 4-16 4-26 5-17 4-2 5 4 4-1 4-11 5 2 4 20 5 13 4 5 4 3 5 5 4 7 5-12 4-20 4-20 5 3 4 21 5 17 4 16 4 12 5 6 4-3 5-17 4-24 4-22 5-1 4 5 5-4 4-7 4 3 5 13 4 8 5-1 4-6 4-7 5 1 4 17 5 26 4 20 4-1 5-7 4-10 5-8 4-1 4 1 5-13 4-22 5-8 4 0 4 1 5 2 4 13 5 23 4 16 4-2 5-11 4-9 5 0 4-7 4-8 5 3 4 10 5 1 4-12 4-7 5 5 4 8 5-1 4 0 4 13 5 26 4 18 5-2 4-12 4-7 5 2 4 0 5-10 4-17 4-4 5 8 4 7 5 0 4 9 4 13 5 2 4-7 5-4 4 6 4 0 5-14 4-8 5 9 4 24 4 12 5-22 4-34 5-9 4 12 4 31 5 21 4 2 5-16 4-19 4-11 5 1 1 2M155 93l2 4 2 6 2 8 2 20 2 17 2 22 2 24 2 6 2 8 2 19 2 15 2-7 2-16 2-8 4 15 5 30 4 25 5 16 4 6 4-7 5-13 4-4 5-8 4-8 4-4 5-5 4 2 5 6 4 3 4 4 5 19 4 34 5 26 4-14 4-33 5-21 4 10 5 26 4 27 4 12 5-4 4-22 5-29 4-20 4-1 5 11 4 7 5-2 4 2 4 14 5 3 4-20 5-13 4 6 4 22 5 17 4 2 5-3 4 0 4 4 5 2 4-2 5-2 4 2 4 3 5-5 4-16 5-5 4 12 4 18 5 0 4-12 5-1 4 14 4 14 5 1 4 0 5 0 4-10 4-12 5-4 4 9 5 8 4-4 4-5 5 7 4 5 5-5 4-14 4-3 5 8 4 4 5-6 4-3 4 7 5 14 4 3 5-15 4-14 4 0 5 8 4 5 5 2 4 9 4 7 5-4 4 2 5 24 4 37 4 6 5-31 4-33 5-13 4 7 4 15 5 17 4 11 5-10 4-33 4-24 5 3 4 10 5-4 4-5 4 17 5 29 4 16 5-1 4-11 4-26 5-20 1 9M155 93l2 12 2 7 2-1 2 20 2 17 2 15 2 14 2 16 2 14 2 3 2 0 2 4 2 8 2 10 4 21 5 22 4 10 5-4 4 5 4 11 5 10 4 13 5 3 4 0 4 7 5 4 4-3 5-18 4-15 4-1 5 12 4 17 5 2 4-18 4-22 5-14 4 2 5 12 4 7 4-9 5-8 4 5 5 8 4 3 4 11 5 20 4 16 5-7 4-14 4-3 5 13 4 28 5 23 4-2 4-16 5-2 4 7 5-5 4-18 4-19 5-10 4 10 5 13 4 11 4 4 5 4 4 12 5 4 4-6 4-3 5-5 4-10 5-13 4-2 4 3 5-1 4-9 5 2 4 17 4 16 5-5 4-19 5-18 4-6 4-2 5 6 4 16 5 14 4 0 4-6 5 1 4 12 5 11 4-9 4-23 5-19 4-4 5 3 4 5 4 3 5 6 4 16 5 13 4-1 4-7 5-2 4 6 5-2 4-14 4-10 5-2 4 1 5 5 4 10 4 7 5-2 4-8 5-2 4 3 4 4 5 6 4-5 5-17 4-13 4 0 5 1 4 5 5 17 4 2 4-5 5 0 1 4M155 95l2 18 2 17 2-2 2 10 2 18 2 31 2 37 2 7 2-20 2-19 2-4 2 2 2 5 2 10 4 22 5 28 4 19 5 15 4 10 4-18 5-25 4 0 5 18 4 28 4 16 5 6 4-8 5-13 4-12 4-14 5-6 4 0 5 11 4 17 4 10 5 8 4 1 5-5 4-1 4 8 5 7 4-12 5-31 4-12 4 15 5 32 4 15 5 6 4 10 4-6 5-23 4-20 5 1 4-1 4-14 5-8 4 6 5 23 4 17 4-11 5-18 4-3 5 15 4 22 4 1 5-13 4-9 5 4 4 19 4 19 5 3 4-10 5 0 4 12 4 6 5-12 4-11 5-2 4-6 4-13 5-10 4 1 5 12 4 14 4 1 5-15 4-13 5-2 4 9 4 21 5 18 4 7 5-12 4-14 4 6 5 14 4 4 5-10 4-9 4 5 5 7 4 0 5-9 4-9 4 6 5 15 4 12 5 6 4-2 4-5 5-1 4 2 5-7 4-20 4-16 5-8 4 1 5 13 4 31 4 26 5 6 4-13 5-16 4-16 4-14 5-3 4 7 5 18 4 13 4 2 5-9 1-19M155 94l2 16 2 19 2 13 2 7 2 14 2 19 2 5 2-3 2 9 2 24 2 8 2-16 2-11 2 4 4 33 5 48 4 24 5-6 4-16 4-7 5 7 4 6 5-1 4-7 4-14 5-10 4 2 5 23 4 20 4-6 5-27 4-13 5 6 4 21 4 23 5 10 4-9 5-16 4 8 4 25 5 10 4-18 5-14 4 3 4 5 5-1 4 5 5 11 4-2 4-15 5-6 4 11 5 14 4 10 4 7 5 5 4 2 5-4 4-2 4 9 5 16 4-1 5-21 4-28 4-25 5-5 4 8 5 14 4 15 4 13 5 22 4 2 5-30 4-34 4-3 5 23 4 32 5 10 4-16 4-17 5-5 4 11 5 10 4 13 4 14 5 6 4-2 5-3 4-2 4-15 5-27 4-17 5 5 4 23 4 18 5 12 4 3 5 1 4 16 4 26 5 1 4-19 5-37 4-21 4-9 5-2 4 5 5 13 4 15 4 6 5-8 4-6 5 8 4 9 4-15 5-25 4-10 5 6 4 10 4 1 5-6 4-3 5 4 4 10 4 9 5 2 4 4 5 2 4-2 4-8 5-5 1 8M155 93l2 9 2 13 2 19 2 12 2 5 2 12 2 14 2 8 2 32 2 34 2 7 2-3 2-14 2-16 4 1 5 5 4 1 5 5 4 8 4 17 5 0 4 2 5 5 4 14 4 8 5 6 4 12 5 5 4-5 4-7 5-7 4 3 5 7 4-1 4-13 5-16 4-5 5 6 4 11 4 14 5 12 4 2 5 1 4 9 4 14 5 2 4-14 5-10 4-3 4 4 5 18 4 16 5-16 4-30 4-12 5 3 4 0 5 0 4 8 4 19 5 16 4 14 5 3 4-6 4-5 5 6 4 12 5 2 4-11 4-2 5 4 4-16 5-33 4-14 4 9 5 25 4 18 5 6 4-2 4-3 5-6 4-22 5-16 4-1 4 7 5 2 4-4 5 5 4 11 4 0 5-2 4 9 5 22 4 24 4 11 5-10 4-17 5-2 4 16 4 10 5-19 4-22 5-7 4 5 4-3 5-12 4-7 5 5 4 13 4 21 5 16 4 8 5 2 4 4 4 4 5-9 4-7 5 7 4 9 4-9 5-10 4 7 5 3 4-12 4-11 5-8 4-15 5-15 4-1 4 13 5 23 1 4M155 92l2 6 2 14 2 23 2 22 2 18 2 14 2 4 2-2 2 1 2 1 2-2 2 3 2 14 2 22 4 18 5-5 4-6 5 3 4 15 4 23 5 4 4 4 5 4 4 13 4 19 5 14 4 4 5-13 4-7 4 8 5 12 4 9 5-14 4-29 4-15 5 12 4 18 5 0 4-14 4-20 5-23 4-3 5 1 4 1 4 8 5 9 4 15 5 1 4-13 4-4 5 12 4 27 5 13 4 1 4-7 5-3 4-8 5-13 4-4 4 9 5 14 4 3 5-5 4 0 4 0 5-9 4-12 5-6 4 5 4 13 5 4 4-7 5-9 4-2 4 13 5 23 4 17 5 5 4-8 4-8 5-7 4-2 5-9 4-10 4 2 5 12 4 4 5-9 4 0 4 18 5 18 4 3 5-7 4-6 4-14 5-9 4 3 5 24 4 25 4 7 5-10 4-10 5-5 4-2 4 0 5 0 4 2 5 8 4 6 4-3 5-7 4-1 5 0 4-11 4-18 5-9 4 9 5 30 4 21 4-2 5-15 4-10 5-4 4-3 4-3 5 6 4 16 5 13 4-5 4-11 5-4 1-2M155 93l2 11 2 11 2 12 2 15 2 15 2 20 2 28 2 29 2 25 2 1 2-2 2-14 2-17 2-3 4 3 5 7 4 10 5 11 4 24 4 21 5 8 4-9 5-10 4 0 4 3 5 3 4 9 5 6 4-8 4-11 5 1 4 3 5-2 4 6 4 20 5 17 4-10 5-18 4-12 4-4 5-8 4-1 5 14 4 10 4-11 5-8 4 10 5 15 4-2 4-4 5 11 4 0 5-18 4-11 4 15 5 33 4 15 5-14 4-11 4 3 5 9 4 6 5 6 4 7 4 0 5-15 4-18 5-12 4 11 4 23 5 16 4-2 5-15 4-13 4-8 5 2 4-3 5-9 4-5 4 6 5 5 4 0 5 1 4 3 4 0 5-5 4 3 5 19 4 15 4-10 5-24 4-5 5 13 4 11 4 0 5 11 4 22 5 1 4-27 4-24 5 8 4 30 5 21 4-9 4-16 5-10 4-9 5-5 4-4 4 5 5 17 4 10 5 4 4 8 4 15 5-3 4-23 5-7 4 11 4 14 5-3 4-14 5-10 4-10 4 1 5 12 4 10 5 4 4-3 4-5 5-4 1-7M155 93l2 5 2 5 2 11 2 20 2 14 2 15 2 14 2 6 2 7 2 10 2 15 2 1 2-14 2-10 4 7 5 40 4 34 5-6 4-21 4-3 5 14 4 18 5-1 4-5 4-7 5-2 4 7 5 10 4 9 4 14 5 26 4 22 5-7 4-26 4-16 5-3 4 7 5 2 4 6 4 16 5-1 4-29 5-26 4 7 4 36 5 27 4 7 5-15 4-14 4-6 5-2 4 2 5 2 4-2 4-16 5-11 4 5 5 19 4 22 4 20 5 14 4-6 5-26 4-16 4 0 5 9 4 11 5 12 4 2 4-16 5-13 4 5 5 10 4 4 4-3 5-2 4 1 5 1 4 6 4 7 5-5 4-9 5-4 4 3 4 5 5 1 4-11 5-18 4-6 4 9 5 27 4 20 5 7 4-4 4-8 5 0 4 7 5-1 4-13 4-9 5 7 4 6 5-2 4 1 4 11 5 10 4-5 5-5 4 0 4-5 5-8 4-13 5-5 4 5 4 9 5 10 4 11 5 8 4-4 4-15 5-9 4 2 5-2 4-11 4-13 5-2 4 6 5 14 4 15 4 0 5-10 1-9M155 93l2 9 2 3 2 6 2 23 2 30 2 38 2 28 2-3 2-12 2 2 2 16 2 11 2-4 2-17 4-15 5 9 4 15 5 5 4 14 4 6 5 5 4 17 5 7 4-6 4-12 5-3 4 14 5 18 4 10 4-3 5-13 4-8 5 19 4 35 4 9 5-37 4-40 5-13 4 1 4 7 5 13 4 20 5 16 4 6 4-4 5-10 4-11 5-3 4-1 4 8 5 9 4 3 5 4 4 8 4 10 5 3 4-7 5-2 4 7 4-1 5-17 4-15 5 5 4 18 4 8 5 6 4 7 5 3 4-7 4-19 5-16 4 1 5 17 4 11 4-3 5-6 4-3 5-11 4-10 4 1 5 11 4 16 5 9 4 1 4-7 5-13 4-5 5 1 4 10 4 16 5 9 4 4 5-8 4-20 4-9 5 5 4 10 5 6 4 2 4 3 5-10 4-13 5 1 4 7 4 0 5-5 4-2 5 3 4 3 4 9 5 17 4 3 5-16 4-17 4-5 5 9 4 22 5 12 4 0 4-12 5-14 4-3 5 0 4 1 4 5 5 17 4 12 5-5 4-15 4-3 5 14 1 11M155 95l2 15 2 4 2 5 2 26 2 31 2 25 2-4 2-3 2 22 2 25 2 5 2-5 2-4 2-2 4 11 5 22 4 23 5 7 4-11 4-19 5-8 4 19 5 18 4 2 4-11 5-17 4-9 5 1 4 10 4 18 5 6 4 1 5 9 4 21 4 7 5-23 4-28 5-10 4 8 4 8 5-2 4-1 5 12 4 14 4 9 5 17 4 17 5 3 4-11 4-8 5-8 4-14 5-21 4-2 4 10 5 13 4 7 5 0 4 2 4 8 5 1 4-14 5-24 4-6 4 8 5 18 4 12 5 1 4 1 4 0 5-4 4-3 5 4 4 8 4 7 5-1 4-4 5 4 4 10 4 0 5-10 4-2 5 12 4 16 4-1 5-16 4-17 5-16 4-7 4 0 5 5 4 6 5 0 4 4 4 17 5 12 4-1 5-15 4-9 4 13 5 9 4-5 5-18 4-1 4 19 5 11 4 2 5 4 4 15 4 7 5-24 4-24 5 4 4 13 4-6 5-19 4-4 5 13 4 20 4 20 5 6 4-15 5-16 4-12 4 1 5 2 4-9 5-4 4 9 4 21 5 18 1 0M155 95l2 16 2 13 2 3 2 4 2 17 2 15 2 14 2 4 2 24 2 20 2 7 2-7 2-11 2-11 4-3 5 17 4 15 5 5 4 0 4-1 5 12 4 33 5 18 4-9 4-22 5-10 4 5 5 10 4 7 4 6 5-4 4 8 5 21 4 8 4-18 5-31 4-4 5 21 4 20 4 5 5 3 4-1 5-5 4-3 4 7 5-4 4-20 5-10 4 5 4 14 5 8 4-9 5-12 4 1 4 16 5 18 4 2 5-7 4-3 4 0 5 0 4-6 5 1 4 19 4 15 5 1 4-9 5-1 4 6 4-6 5-15 4-8 5-3 4 3 4 15 5 16 4-3 5-17 4 1 4 20 5 6 4-10 5-12 4-1 4 7 5 12 4 12 5-3 4-16 4-1 5 19 4 18 5-2 4-6 4 3 5 3 4-4 5-8 4-3 4 8 5 5 4-12 5-13 4 8 4 23 5 11 4-10 5-8 4-4 4-3 5 4 4 20 5 20 4-1 4-14 5 4 4 24 5 5 4-20 4-22 5-20 4-23 5-4 4 29 4 40 5 16 4-11 5-18 4-15 4-15 5-19 1-11M155 93l2 11 2 15 2 14 2 16 2 26 2 40 2 28 2-10 2-16 2-11 2-3 2-2 2-1 2 2 4 12 5 29 4 28 5 15 4-8 4-15 5 8 4 22 5 6 4-14 4-13 5-1 4 9 5 15 4 8 4 5 5 1 4 1 5-3 4-16 4-20 5-7 4 11 5 23 4 8 4-10 5-12 4 2 5 0 4-5 4-1 5 0 4 3 5 7 4 15 4 16 5-1 4-15 5-14 4-4 4 1 5 7 4 14 5 20 4 13 4-1 5-6 4 4 5 8 4-3 4-16 5-21 4-6 5 10 4 26 4 18 5-5 4-16 5-17 4-9 4-5 5 4 4 13 5 12 4 7 4 8 5 3 4-10 5-12 4 6 4 13 5 7 4-1 5 1 4-11 4-25 5-10 4 3 5 16 4 24 4 16 5-1 4-6 5 11 4 12 4-3 5-18 4-8 5 4 4 1 4-6 5-12 4-2 5 11 4 6 4-3 5-1 4 11 5 17 4 6 4-11 5-13 4-18 5-19 4-6 4 14 5 33 4 19 5-11 4-23 4-18 5 1 4 16 5 11 4-3 4-8 5 2 1 8M155 93l2 4 2 6 2 11 2 36 2 33 2 34 2 18 2-28 2-5 2 15 2 0 2-15 2-8 2 6 4 24 5 25 4 15 5 2 4 9 4 10 5-10 4-21 5-9 4-1 4 12 5 23 4 13 5 0 4-19 4-12 5 0 4 5 5 1 4 2 4 9 5 1 4-11 5-5 4 9 4 21 5 12 4-6 5-9 4 7 4 15 5-2 4-10 5-7 4 3 4-1 5-2 4 6 5 20 4 12 4-6 5-20 4 2 5 28 4 12 4-30 5-29 4 5 5 34 4 14 4-12 5-18 4-8 5-4 4-5 4 2 5 7 4 4 5 5 4 14 4 19 5 13 4-14 5-26 4-11 4 7 5 16 4 6 5-3 4-3 4 11 5 17 4 13 5-4 4-8 4 2 5 5 4-2 5-3 4 1 4 0 5-2 4-4 5-3 4-9 4-17 5-10 4 3 5 19 4 14 4-4 5-15 4-1 5 12 4 10 4-3 5-16 4-3 5 14 4 14 4-4 5-17 4-7 5-2 4-5 4-3 5 6 4 15 5 13 4-3 4-16 5-9 4 8 5 21 4 10 4 1 5-2 1-6"/>
<path class="r" d="M155 92l1 11 1 10 1 10 1 10 1 8 1 7 1 6 1 8 1 10 1 14 1 16 1 19 1 15 1 12 1 4 1-2 1-4 1-5 1-4 1-4 1-4 1-2 1 0 1 1 1 1 1 1 1 1 1 2 1 2 1 2 1 3 1 3 1 4 1 4 1 7 1 9 1 8 1 5 1 4 1 4 1 3 1 1 1 0 1-1 1-1 1-2 1-2 1-2 1-2 1-1 1-2 1-1 1-1 1 0 1 0 1 0 1 1 1 1 1 1 1 1 1 1 1 1 1 1 1 1 1 1 1 1 1 1 1 1 1 0 1 1 1 0 1 0 1 0 1 0 1 1 1 0 1 0 1 0 1 0 1 0 3 0 3 1 3 0 3 1 3 1 3 1 3 2 3 1 3 1 3 1 3 1 3 1 3 0 3 1 3 1 3 1 3 1 3 1 3 0 3 1 3 1 3 1 3 1 3 0 3 1 3 1 3 1 3 0 3 1 3 1 3 1 3 0 3 1 3 1 3 0 3 1 3 0 3 1 3 0 3 1 3 0 3 1 3 0 3 1 3 0 3 1 3 0 3 1 3 0 3 1 3 1 3 0 3 1 3 0 3 1 3 0 3 1 3 0 3 1 3 0 3 1 3 0 3 0 3 1 3 0 3 1 3 0 3 0 3 1 3 0 3 0 3 1 3 0 3 0 3 1 3 0 3 0 3 1 3 0 3 1 3 0 3 0 3 1 3 0 3 0 3 1 3 0 3 1 3 0 3 1 3 0 3 0 3 1 3 0 3 1 3 0 3 1 3 0 3 0 3 1 3 0 3 1 3 0 3 1 3 0 3 0 3 1 3 0 3 1 3 0 3 0 3 1 3 0 3 1 3 0 3 0 3 1 3 0 3 0 3 1 3 0 3 0 3 1 3 0 3 0 3 1 3 0 3 0 3 1 3 0 3 0 3 1 3 0 3 0 3 1 3 0 3 0 3 0 3 1 3 0 3 0 3 1 3 0 3 0 3 0 3 1 3 0 3 0 3 0 3 1 3 0 3 0 3 0 3 1"/>
<path class="f" d="M77.5 19.5H349.5V236.5H77.5Z"/>
<path class="f" d="M131.5 236.5v-3M131.5 19.5v3M185.5 236.5v-3M185.5 19.5v3M240.5 236.5v-3M240.5 19.5v3M295.5 236.5v-3M295.5 19.5v3M77.5 50.5h3M349.5 50.5h-3M77.5 81.5h3M349.5 81.5h-3M77.5 112.5h3M349.5 112.5h-3M77.5 143.5h3M349.5 143.5h-3M77.5 174.5h3M349.5 174.5h-3M77.5 205.5h3M349.5 205.5h-3"/>
<text class="t" text-anchor="end" transform="translate(74.3 24.7) scale(0.845 1)">30</text>
<text class="t" text-anchor="end" transform="translate(74.3 55.7) scale(0.845 1)">40</text>
<text class="t" text-anchor="end" transform="translate(74.3 86.7) scale(0.845 1)">50</text>
<text class="t" text-anchor="end" transform="translate(74.3 117.7) scale(0.845 1)">60</text>
<text class="t" text-anchor="end" transform="translate(74.3 148.7) scale(0.845 1)">70</text>
<text class="t" text-anchor="end" transform="translate(74.3 179.7) scale(0.845 1)">80</text>
<text class="t" text-anchor="end" transform="translate(74.3 210.7) scale(0.845 1)">90</text>
<text class="t" text-anchor="end" transform="translate(74.3 241.7) scale(0.845 1)">100</text>
<text class="t" text-anchor="middle" transform="translate(76.5 251.5) scale(0.845 1)">0</text>
<text class="t" text-anchor="middle" transform="translate(130.5 251.5) scale(0.845 1)">1</text>
<text class="t" text-anchor="middle" transform="translate(184.5 251.5) scale(0.845 1)">2</text>
<text class="t" text-anchor="middle" transform="translate(239.5 251.5) scale(0.845 1)">3</text>
<text class="t" text-anchor="middle" transform="translate(294.5 251.5) scale(0.845 1)">4</text>
<text class="t" text-anchor="middle" transform="translate(348.5 251.5) scale(0.845 1)">5</text>
<text class="l" text-anchor="middle" x="212.4" y="265.7" textLength="63.6" lengthAdjust="spacingAndGlyphs">Range(km)</text>
<text class="l" text-anchor="middle" transform="translate(48.3 127.3) rotate(-90)" textLength="137.7" lengthAdjust="spacingAndGlyphs">Transmission loss(dB)</text>
<text class="a" transform="translate(134.7 70.7) scale(0.970 1)">zs=-10m</text>
<text class="s" x="12.5" y="270.3">(a)</text>
</g>
<g id="pb">
<path class="g" d="M486.5 18.5V239.5M540.5 18.5V239.5M594.5 18.5V239.5M649.5 18.5V239.5M432.5 50.5H703.5M432.5 81.5H703.5M432.5 113.5H703.5M432.5 144.5H703.5M432.5 175.5H703.5M432.5 207.5H703.5"/>
<path class="k" d="M865 102l2 6 2 10 2 15 2 20 2 19 2 16 2 23 2 29 2 13 2-1 2 0 2 1 2-24 2-18 4 7 5 9 4 15 5 14 4 10 4 7 5 0 4 1 5 11 4 13 4-7 5-10 4 3 5 14 4 17 4 1 5-12 4-9 5-4 4-3 4-6 5 4 4 16 5 6 4-1 4 4 5 19 4 26 5 10 4 1 4 1 5 1 4-5 5-14 4-5 4-7 5-16 4-11 5-6 4-6 4-3 5 6 4 13 5 7 4-3 4-1 5-4 4-5 5-1 4 4 4 13 5 18 4 19 5 13 4 1 4-2 5-9 4-11 5-5 4-4 4-4 5 1 4 7 5 6 4-12 4-17 5-1 4 8 5 2 4-5 4 3 5 12 4 8 5 7 4 3 4-2 5-2 4-2 5-4 4 0 4 1 5-1 4-6 5-9 4 4 4 8 5 3 4 3 5 7 4 11 4 8 5-3 4 1 5 8 4 1 4-13 5-15 4-4 5-1 4-10 4-13 5-7 4-2 5 2 4 7 4 12 5 8 4-4 5-2 4 2 4 2 5-3 4-4 5-1 4 3 4 9 4 8M865 105l2 10 2 4 2 4 2 20 2 25 2 30 2 29 2-13 2-7 2-3 2-1 2 2 2 8 2 14 4 18 5 22 4 23 5 8 4-11 4-15 5-9 4-3 5 6 4 12 4 4 5-6 4-10 5-4 4-3 4 0 5 9 4 17 5 16 4 14 4 6 5-6 4-16 5-10 4 6 4 8 5-9 4-12 5 0 4 12 4 18 5 8 4 2 5 0 4 2 4 2 5-4 4-4 5-3 4 4 4 4 5 8 4 7 5-5 4-10 4-11 5-2 4-1 5-4 4-5 4 0 5 9 4 23 5 14 4-2 4-9 5-4 4 6 5 10 4 12 4 7 5-6 4-14 5-16 4-12 4 1 5 11 4 14 5 4 4-5 4-9 5 4 4 14 5 11 4-1 4-9 5-7 4-6 5-1 4 6 4 3 5 1 4 0 5-3 4-10 4-10 5-2 4 6 5 13 4 11 4 1 5-7 4-4 5 0 4-4 4 1 5 14 4 8 5-4 4-2 4 4 5 8 4-4 5-12 4-15 4-7 5 8 4 25 5 26 4 12 4-12 5-24 4-24 5-2 4 9 4 2 4-9M865 102l2 4 2 4 2 7 2 16 2 15 2 20 2 29 2 25 2 11 2-9 2-13 2 0 2 9 2 8 4 8 5 10 4 11 5 9 4 1 4-4 5-2 4 6 5 16 4 19 4 4 5-10 4-8 5 11 4 21 4 10 5-1 4 3 5-2 4-21 4-25 5-6 4 11 5 15 4 11 4 9 5 7 4 0 5 2 4 5 4 14 5 17 4 1 5 1 4-24 4-39 5-23 4 6 5 32 4 26 4 3 5-5 4 1 5-6 4-19 4-12 5 12 4 15 5 1 4-8 4-4 5-1 4-6 5-5 4 4 4 10 5 8 4 1 5-8 4-9 4-5 5-1 4-1 5 3 4 7 4 12 5 11 4 8 5 1 4-9 4-4 5 7 4 18 5 14 4-3 4-15 5-12 4-2 5 1 4-5 4-6 5 9 4 24 5 18 4-8 4-26 5-19 4-3 5 11 4 13 4 3 5-4 4-3 5 1 4 0 4-5 5 2 4 5 5 1 4-4 4 5 5 12 4 4 5-1 4 0 4 1 5 4 4 8 5 10 4 3 4 0 5-3 4-14 5-18 4-12 4 1 4 15M865 102l2 4 2 4 2 7 2 16 2 16 2 14 2 17 2 10 2 10 2 2 2 1 2 12 2 17 2 1 4-2 5 13 4 27 5 4 4-16 4-4 5 17 4 20 5 3 4-6 4-1 5 1 4 0 5-4 4-9 4-7 5-3 4 5 5 17 4 18 4 3 5-9 4-6 5 9 4 6 4 3 5 3 4 1 5 3 4 0 4-11 5-16 4-2 5 13 4 9 4-5 5-4 4 4 5 9 4 10 4 16 5 8 4-11 5-14 4-6 4 2 5-2 4-10 5-7 4 3 4 16 5 19 4 2 5-9 4-5 4 6 5 12 4 12 5 1 4-14 4-18 5-11 4 3 5 15 4 15 4 9 5 0 4-8 5-9 4-10 4-7 5-7 4-6 5 1 4 0 4 5 5 6 4 0 5-2 4-1 4 3 5 11 4 16 5 10 4 8 4 0 5-13 4-22 5-8 4 5 4 3 5 0 4-3 5-5 4 1 4 13 5 22 4 16 5 6 4 1 4-7 5-11 4-1 5 11 4 11 4 4 5-1 4-3 5-14 4-21 4-7 5 7 4 1 5-8 4 3 4 18 4 9M865 102l2 4 2 4 2 15 2 22 2 20 2 16 2 16 2 8 2 14 2 10 2 0 2-2 2 8 2 13 4 12 5-1 4-15 5-1 4 21 4 22 5 7 4-11 5-8 4-3 4-4 5-3 4 4 5 14 4 2 4-16 5-11 4 6 5 24 4 20 4 2 5-11 4-9 5 2 4 4 4 8 5 7 4-1 5-18 4-18 4-3 5 9 4 10 5 4 4 3 4 11 5 10 4 2 5 1 4-1 4-1 5 1 4 1 5-13 4-18 4-3 5 1 4 5 5 11 4 19 4 20 5 13 4-10 5-13 4 0 4 14 5 5 4-16 5-22 4-9 4 5 5 19 4 23 5 16 4-1 4-10 5-3 4 3 5-2 4 3 4 20 5 12 4 0 5-26 4-34 4-8 5 8 4 14 5 10 4 3 4-7 5-15 4-10 5-3 4-2 4 4 5 12 4 17 5 5 4-7 4-10 5-6 4 1 5 5 4 7 4 1 5-6 4 0 5 17 4 19 4-1 5-15 4-4 5-1 4-10 4-6 5 7 4 8 5-4 4-7 4 1 5 2 4-8 5-10 4-2 4 10 4 13M865 103l2 4 2 5 2 13 2 22 2 22 2 33 2 44 2-5 2-29 2-10 2 1 2 1 2 5 2 18 4 10 5 4 4 8 5 24 4 25 4 6 5-11 4-5 5 8 4 8 4-6 5-11 4-6 5-6 4 2 4-2 5-4 4-2 5 4 4 9 4 6 5 4 4-3 5-6 4 3 4 9 5 0 4-9 5-3 4 10 4 19 5 8 4-7 5-13 4 1 4 9 5 7 4 3 5 3 4-1 4 1 5 8 4 19 5 18 4-1 4-21 5-18 4 0 5 8 4 1 4-9 5-9 4 6 5 10 4 5 4 2 5 3 4 5 5-1 4-4 4-2 5 3 4 2 5-4 4-4 4 0 5 4 4 2 5 1 4-1 4 4 5 2 4-4 5-4 4 1 4 6 5-1 4-9 5-3 4 1 4-3 5-7 4-3 5 3 4 4 4 2 5-2 4-3 5 3 4 10 4 21 5 19 4 0 5-13 4-11 4-4 5-4 4-3 5 4 4 9 4 12 5 4 4-7 5-7 4 2 4 6 5-6 4-20 5-9 4 5 4 13 5 0 4-14 5-9 4 0 4 4 4 6M865 105l2 9 2 12 2 12 2 14 2 20 2 22 2 15 2-9 2 0 2 5 2 6 2 1 2 3 2 5 4 12 5 15 4 17 5 19 4 10 4-14 5-18 4-6 5 5 4 11 4 8 5 3 4 2 5 4 4 13 4 13 5-5 4-16 5-9 4 8 4 9 5-2 4-11 5-4 4 7 4 14 5 15 4 15 5 4 4-5 4-12 5-9 4-3 5-2 4 0 4 0 5 1 4-7 5-14 4-6 4 1 5 9 4 13 5 12 4 5 4 3 5 9 4 14 5 2 4-7 4-5 5-2 4-1 5-2 4-3 4-9 5-8 4 2 5 15 4 14 4 4 5-3 4-1 5 6 4 13 4 2 5-11 4-7 5 7 4 14 4 1 5-11 4-11 5-5 4 1 4 4 5 1 4-1 5-5 4 1 4 6 5 8 4 9 5 5 4 4 4-1 5-10 4-15 5-17 4-4 4 5 5 8 4 11 5 8 4 7 4 5 5-3 4-8 5-8 4-4 4-3 5-4 4-2 5 6 4 8 4 0 5 0 4 3 5 7 4 10 4 13 5 9 4-1 5-2 4-2 4-11 4-10M865 103l2 10 2 10 2 5 2 14 2 19 2 25 2 25 2-4 2-1 2 4 2 16 2 18 2 1 2-10 4-1 5 12 4 16 5 11 4 13 4 13 5 4 4-13 5-13 4-7 4-2 5-6 4-9 5-2 4 12 4 29 5 26 4 5 5-17 4-14 4-9 5-6 4-7 5-1 4 11 4 19 5 4 4-14 5-8 4 3 4 9 5 9 4 6 5-2 4-9 4-3 5 14 4 24 5 10 4-10 4-9 5-2 4-5 5-5 4 3 4 8 5 4 4 4 5 9 4 1 4-6 5 6 4 16 5-4 4-26 4-21 5-3 4 1 5 5 4 10 4 4 5-5 4-4 5 8 4 19 4 8 5-2 4-4 5-2 4 4 4 9 5 8 4 1 5-9 4-6 4-3 5-12 4-10 5-4 4 4 4 6 5 5 4 7 5 8 4 5 4 4 5-1 4-5 5-6 4 1 4 5 5 4 4 4 5-2 4-12 4-8 5 4 4 11 5 2 4-8 4 1 5 4 4 3 5-5 4-12 4-6 5 0 4 11 5 19 4 15 4 7 5-10 4-18 5-9 4-5 4-10 4-1M865 102l2 4 2 8 2 17 2 22 2 23 2 24 2 12 2-11 2 3 2 4 2 4 2 8 2 18 2 9 4 1 5 3 4 3 5 3 4 2 4 7 5 10 4 5 5 1 4-3 4 0 5 4 4 12 5 2 4-20 4-18 5 5 4 19 5 7 4-8 4-4 5 2 4 3 5 10 4 12 4-1 5-16 4-4 5 16 4 20 4 5 5-13 4-15 5-1 4 7 4 14 5 5 4-3 5-12 4-8 4-5 5 4 4 14 5 20 4 14 4-8 5-14 4-12 5 8 4 14 4 0 5-11 4-4 5 13 4 5 4-9 5-11 4 2 5 16 4 11 4-2 5-10 4-11 5 0 4 6 4 5 5-2 4-7 5-4 4-1 4 5 5 15 4 11 5 4 4 6 4 10 5 4 4-2 5 3 4 4 4-9 5-13 4-8 5 0 4 4 4 7 5 2 4-5 5-3 4-1 4-7 5-11 4-7 5 1 4 18 4 28 5 24 4-6 5-25 4-19 4-10 5 3 4 7 5 4 4 5 4 6 5 11 4 9 5 13 4 9 4-7 5-18 4-16 5-5 4 10 4 16 4 10M865 103l2 3 2 4 2 17 2 24 2 16 2 23 2 38 2 3 2-6 2-3 2-2 2-4 2-5 2 2 4 17 5 25 4 13 5-2 4 3 4 17 5 15 4 1 5-4 4 2 4 6 5-4 4-13 5-5 4 3 4 4 5-8 4-14 5 3 4 19 4 12 5-4 4-12 5 1 4 13 4 6 5-6 4-13 5-2 4 11 4 16 5 10 4 7 5 4 4-6 4-11 5-15 4-9 5-5 4-3 4 2 5 9 4 20 5 9 4-6 4-3 5 7 4 1 5-11 4-10 4-2 5 8 4 26 5 29 4 2 4-18 5-12 4 2 5 12 4 10 4 2 5-3 4-9 5-7 4 2 4 12 5 7 4-8 5-9 4 5 4 25 5 14 4 0 5 1 4-8 4-22 5-12 4 0 5 7 4 5 4 6 5 7 4 2 5-9 4-9 4 0 5 2 4-7 5-11 4-7 4-5 5-5 4-6 5 0 4 0 4 1 5 7 4 14 5 25 4 35 4 7 5 1 4-24 5-17 4-7 4-4 5-6 4 4 5 8 4 2 4 0 5 1 4 6 5 4 4-4 4-4 4-11M865 104l2 7 2 4 2 6 2 16 2 16 2 22 2 36 2 11 2 3 2 4 2 6 2 3 2-2 2-1 4 6 5 10 4 14 5 14 4 11 4 7 5 6 4 2 5-25 4-33 4-2 5 12 4 35 5 13 4-8 4-2 5 11 4 18 5 4 4-20 4-24 5-6 4 15 5 21 4 20 4 7 5-11 4-14 5-6 4-2 4 1 5 10 4 20 5 6 4-12 4-9 5-2 4-3 5 0 4 8 4 8 5-7 4-4 5 7 4 12 4 8 5 6 4 2 5-14 4-13 4-4 5 0 4 5 5 7 4 6 4 5 5 0 4-6 5-15 4-13 4-2 5-1 4 0 5 0 4 2 4 4 5 7 4 1 5-2 4 7 4 17 5 6 4-8 5-10 4-1 4-1 5-10 4-9 5-1 4 10 4 23 5 18 4 10 5-6 4-15 4-13 5-5 4 3 5 2 4 5 4 9 5 8 4-2 5-6 4-6 4-16 5-12 4 3 5 21 4 16 4-5 5-11 4 0 5 4 4 1 4 0 5 6 4 4 5 1 4 4 4 11 5 17 4 5 5-15 4-22 4-18 4-2M865 103l2 5 2 5 2 4 2 16 2 15 2 18 2 40 2 27 2 4 2-9 2-6 2-1 2 6 2 10 4 11 5 14 4 8 5 14 4 16 4-2 5-24 4-28 5-3 4 1 4 9 5 8 4 0 5-5 4 1 4 8 5 26 4 24 5 5 4-11 4-15 5-11 4 0 5 2 4-1 4 4 5 17 4 9 5-3 4-1 4 5 5 2 4-5 5-7 4-3 4 0 5 3 4 14 5 12 4 2 4-12 5-17 4-2 5 4 4 8 4 9 5 3 4 1 5 9 4 10 4 0 5-8 4-4 5-1 4-6 4-2 5 1 4 1 5-4 4-4 4 5 5 13 4 8 5 1 4 2 4 4 5 4 4 6 5 6 4-5 4-9 5 6 4 14 5-2 4-17 4-8 5 1 4 4 5 3 4 4 4 2 5-3 4-3 5 1 4-3 4-5 5 0 4 10 5 7 4-6 4-7 5-3 4 2 5 0 4 0 4 0 5-4 4-8 5-9 4-1 4 11 5 30 4 36 5 6 4-15 4-17 5-6 4 1 5 5 4 14 4 4 5-14 4-20 5-13 4 2 4 7 4 9M865 103l2 3 2 4 2 7 2 22 2 31 2 36 2 40 2 2 2-7 2-2 2 1 2 5 2 8 2 7 4 6 5 23 4 15 5 4 4-7 4-21 5 1 4 7 5-3 4-1 4 5 5 0 4-7 5-1 4 12 4 18 5 6 4-5 5-9 4-5 4 6 5 14 4 6 5-13 4-20 4-9 5 3 4 5 5-1 4 0 4 6 5 8 4 6 5 8 4 10 4 5 5-6 4-5 5-1 4 0 4 1 5-8 4-5 5-4 4-3 4 6 5 10 4 6 5-3 4 2 4 14 5 7 4-11 5-12 4 0 4-1 5-7 4-4 5 3 4 1 4-3 5 2 4 13 5 23 4 15 4-1 5-10 4 1 5 13 4 1 4-20 5-22 4-6 5-1 4-3 4-1 5 4 4 18 5 21 4 6 4-7 5-4 4 2 5 3 4-2 4-2 5 7 4 10 5 1 4-8 4-4 5 11 4 11 5-6 4-15 4-8 5 4 4 3 5 1 4 3 4-1 5-10 4-15 5-5 4 5 4 10 5 11 4 9 5 10 4 12 4 6 5-13 4-17 5-4 4 4 4-9 4-13M865 104l2 7 2 2 2 4 2 16 2 15 2 21 2 34 2 18 2 8 2 1 2-7 2-5 2 6 2 6 4 2 5 4 4 8 5 5 4 2 4 13 5 18 4 3 5-6 4-5 4-5 5-3 4 3 5 15 4 8 4 3 5 2 4 0 5-2 4-4 4 6 5 11 4 12 5 8 4-2 4-12 5-9 4-7 5-1 4 8 4 10 5 4 4-6 5-7 4 3 4 0 5-4 4-9 5-2 4 5 4 9 5 14 4-2 5-12 4-8 4 1 5 8 4 11 5 11 4 7 4-2 5-11 4-17 5-8 4 0 4 5 5 8 4 11 5 16 4 11 4 0 5-4 4-2 5-4 4-7 4-2 5 8 4 7 5-5 4-19 4-5 5 11 4 18 5 11 4 5 4 8 5 2 4-14 5-10 4 3 4 13 5 7 4-16 5-27 4-11 4 5 5 15 4 13 5 1 4 1 4 0 5-8 4-9 5 1 4 10 4 8 5-1 4-5 5-1 4 3 4 13 5 19 4 8 5-20 4-22 4-3 5 10 4 6 5-9 4 1 4 14 5 5 4-5 5 0 4 11 4 19 4 22M865 103l2 7 2 10 2 9 2 13 2 18 2 29 2 48 2 13 2-2 2-7 2-10 2-11 2-9 2-1 4 13 5 29 4 19 5-4 4-1 4 16 5 22 4 15 5 2 4-13 4-27 5-22 4 7 5 28 4 12 4-15 5-1 4 19 5 8 4-13 4-4 5 10 4 13 5 0 4-13 4-7 5 1 4 5 5 2 4 2 4 8 5 5 4-2 5-1 4 1 4-8 5-20 4-6 5 10 4 20 4 2 5-8 4 2 5 8 4 0 4-9 5 6 4 13 5 5 4-3 4 3 5 11 4 9 5-2 4-19 4-21 5-4 4 19 5 25 4 18 4-4 5-17 4-10 5 0 4 5 4 0 5 1 4 2 5 1 4 1 4-2 5-9 4-17 5-8 4-1 4 10 5 20 4 10 5-5 4-16 4-10 5-3 4 2 5 1 4-1 4 3 5 10 4 13 5 1 4-10 4-2 5 15 4 24 5 18 4-9 4-18 5-11 4-8 5-5 4 1 4 2 5-1 4-3 5 0 4 1 4-5 5-3 4 4 5 12 4 14 4 6 5-3 4-9 5-4 4 10 4 6 4-7M865 104l2 3 2 3 2 7 2 16 2 25 2 23 2 11 2 2 2 12 2 24 2 22 2 1 2-7 2-12 4 10 5 19 4 10 5 4 4 15 4 21 5 7 4-8 5-23 4-15 4-3 5 4 4 8 5 15 4 19 4 5 5-22 4-33 5-12 4 3 4 14 5 15 4 5 5 2 4 2 4 1 5 7 4 10 5 17 4 20 4 7 5-15 4-17 5-2 4 17 4 16 5-11 4-24 5-18 4-7 4-3 5 0 4 3 5 9 4 15 4 6 5-2 4-13 5-6 4 5 4 16 5 9 4 0 5-1 4 10 4 19 5 5 4-14 5-17 4-16 4-8 5 0 4 10 5 11 4 3 4-4 5 2 4 10 5 5 4-6 4-4 5 8 4 15 5 0 4-18 4-20 5-9 4 1 5 9 4 10 4 7 5 7 4 14 5 5 4-10 4-8 5 0 4 3 5-9 4-12 4 3 5 14 4 5 5-9 4-7 4 5 5 12 4 6 5-1 4-1 4 0 5-2 4-7 5-1 4 3 4 1 5-1 4 5 5 9 4 3 4-2 5 6 4 12 5-6 4-21 4-12 4 4M865 103l2 5 2 7 2 15 2 20 2 14 2 9 2 10 2 13 2 13 2 4 2 5 2 8 2 6 2 3 4 12 5 14 4 1 5-9 4 1 4 10 5 9 4 0 5-4 4-3 4 2 5 8 4 1 5-7 4-11 4-4 5 7 4 6 5 4 4 7 4 8 5-7 4-12 5-2 4 13 4 19 5 12 4 9 5 10 4 4 4-5 5 1 4 9 5 2 4-9 4-9 5-4 4 1 5 1 4-7 4-16 5-11 4 0 5 9 4 13 4 10 5 0 4 0 5 5 4 7 4 8 5 2 4 2 5 4 4-2 4-5 5 0 4 4 5-1 4-11 4-9 5 6 4 16 5 15 4 7 4 0 5-6 4-14 5-13 4-1 4 8 5 4 4-5 5 0 4 10 4 14 5 10 4-2 5-4 4 6 4 14 5 9 4 1 5-16 4-25 4-19 5 1 4 18 5 10 4-8 4-9 5 3 4 4 5 2 4 3 4 2 5-6 4-12 5 2 4 20 4 16 5-6 4-16 5-14 4-4 4 1 5 11 4 10 5 1 4 0 4 0 5-4 4-4 5 10 4 11 4-1 4-6M865 102l2 4 2 4 2 13 2 36 2 20 2 27 2 22 2-7 2 1 2-2 2-4 2-7 2 1 2 15 4 33 5 30 4-8 5-22 4-6 4 12 5 22 4 13 5-4 4-18 4-15 5 5 4 16 5 8 4 3 4 8 5 15 4 10 5 0 4-12 4-19 5-19 4-3 5 8 4 22 4 18 5 7 4-11 5-16 4-4 4 9 5 7 4 11 5 16 4 2 4-19 5-17 4 3 5 14 4 5 4-8 5-5 4 12 5 18 4-5 4-23 5-18 4 2 5 16 4 19 4 5 5-8 4-1 5 7 4 1 4-10 5-13 4-4 5 3 4 15 4 14 5 2 4-7 5-4 4-2 4-1 5-4 4 3 5 2 4-4 4 3 5 11 4 14 5 5 4-7 4-6 5-6 4-7 5-4 4 1 4 17 5 19 4-5 5-25 4-20 4-4 5 2 4 5 5 11 4 23 4 15 5-3 4-11 5-5 4 4 4 4 5 1 4-1 5-8 4-4 4 5 5 6 4 3 5-2 4 2 4 5 5 0 4-3 5 3 4 17 4 22 5 4 4-19 5-18 4-9 4-5 4 2M865 103l2 4 2 8 2 18 2 21 2 17 2 17 2 20 2 16 2 20 2 8 2-10 2-11 2 2 2 11 4 16 5 10 4-15 5-10 4 10 4 14 5-9 4-16 5 0 4 12 4 11 5-4 4-8 5-1 4 11 4 21 5 6 4-9 5-4 4 10 4 9 5-7 4-4 5 14 4 8 4-4 5-5 4 2 5 0 4-8 4-8 5-6 4-1 5 11 4 21 4 10 5 2 4 9 5 9 4-8 4-19 5-16 4-2 5 7 4 12 4 11 5 4 4-2 5 0 4 3 4-1 5-10 4-4 5 10 4 13 4 14 5 3 4-15 5-24 4-13 4 2 5 14 4 17 5-4 4-16 4-6 5 3 4 3 5-2 4-1 4 3 5 5 4 5 5 3 4 9 4 6 5-14 4-15 5-2 4 11 4 18 5 3 4-6 5-5 4-2 4 0 5 3 4 8 5 10 4 3 4-4 5-2 4 5 5 7 4 1 4-4 5-2 4 1 5-2 4-5 4 5 5 9 4 10 5 0 4-5 4 1 5-2 4-2 5-1 4 1 4 7 5 4 4 12 5 12 4-7 4-24 4-26M865 105l2 13 2 9 2 3 2 15 2 20 2 22 2 31 2 9 2-1 2-8 2 4 2 21 2 13 2-9 4-12 5 3 4 21 5 24 4 6 4-5 5 0 4 1 5-6 4-7 4-3 5-2 4-3 5 4 4 9 4-3 5-5 4-1 5 5 4 7 4 3 5 6 4 13 5 15 4 9 4-7 5-11 4-4 5 9 4 6 4-6 5-10 4 9 5 12 4 0 4-4 5 6 4 22 5 16 4-12 4-27 5-22 4 0 5 15 4 15 4 13 5 5 4-4 5-4 4 2 4 9 5 0 4-10 5-4 4 5 4 6 5-2 4-4 5-7 4-7 4-7 5-3 4 11 5 14 4 4 4-10 5-12 4 1 5 7 4 1 4 1 5 2 4-3 5-8 4-8 4 1 5 5 4 5 5 3 4 5 4 9 5 3 4-6 5-7 4 2 4 7 5-1 4-11 5-7 4 0 4 3 5 9 4 9 5 10 4 17 4 14 5-3 4-19 5-16 4-1 4 11 5 16 4 8 5-11 4-19 4-17 5-4 4 7 5 8 4-2 4-7 5 1 4 14 5 8 4-7 4-8 4-6M865 102l2 4 2 11 2 18 2 21 2 21 2 29 2 40 2 8 2-1 2-16 2-21 2-12 2 3 2 3 4 8 5 9 4 11 5 2 4 6 4 17 5 15 4 6 5 2 4-2 4-6 5-8 4 9 5 20 4 14 4 0 5-4 4-1 5-3 4-8 4-10 5 0 4 14 5 5 4-15 4-13 5 1 4 7 5 3 4 7 4 19 5 17 4-1 5-12 4-9 4-5 5 2 4 4 5 10 4 11 4-1 5-5 4 2 5 6 4 2 4-1 5-4 4-5 5-10 4 3 4 18 5 18 4 5 5-10 4-11 4-11 5-16 4-7 5 1 4 9 4 13 5 15 4 16 5 6 4-16 4-20 5-2 4 10 5 9 4 4 4 0 5-3 4-8 5 4 4 12 4 8 5 2 4 4 5-2 4-11 4-10 5-8 4-4 5-2 4 10 4 19 5 16 4 10 5 3 4 1 4-7 5-21 4-18 5-5 4 14 4 18 5 11 4 1 5-9 4-15 4-9 5 3 4-2 5-9 4-5 4 5 5 9 4 1 5-3 4-3 4 4 5 16 4 16 5 10 4-7 4-17 4-19M865 103l2 9 2 13 2 18 2 17 2 19 2 27 2 40 2 8 2-22 2-12 2 6 2 9 2 3 2-4 4 6 5 12 4-9 5-7 4 2 4 11 5 11 4-6 5-2 4 12 4 21 5 4 4-19 5-12 4 9 4 22 5 8 4 6 5 11 4-3 4-23 5-16 4 8 5 23 4 10 4 0 5-2 4 0 5 0 4 8 4 18 5 9 4-8 5-12 4-5 4-4 5-14 4-5 5 8 4 12 4 2 5-11 4-12 5-9 4 2 4 11 5 19 4 9 5 2 4-2 4-15 5-6 4 3 5 9 4 5 4 1 5 10 4 9 5-2 4-9 4-8 5 2 4 3 5 1 4-2 4-5 5 1 4 4 5 2 4-3 4 1 5 1 4-8 5-7 4 1 4 12 5 6 4-11 5-10 4 2 4 15 5 13 4-6 5-7 4 2 4 14 5 6 4-15 5-20 4 0 4 1 5 13 4 18 5 15 4 17 4 6 5-3 4 1 5 2 4-7 4-16 5-10 4 3 5 6 4 6 4 3 5 0 4 0 5-4 4-4 4-7 5-6 4 4 5 5 4-3 4-3 4 14M865 103l2 4 2 4 2 12 2 20 2 21 2 30 2 45 2 7 2 0 2-4 2-14 2-13 2 0 2 13 4 17 5 11 4 14 5 18 4 15 4-8 5-25 4-21 5-3 4 10 4 14 5 6 4 2 5 7 4 8 4 4 5-5 4-5 5 8 4 12 4 6 5-4 4-7 5-8 4-2 4 4 5 9 4 16 5 27 4 13 4-19 5-24 4-4 5 7 4 13 4 6 5-4 4-7 5-6 4 0 4-5 5-15 4-13 5-4 4 1 4 3 5 24 4 22 5 8 4 8 4 14 5 5 4-13 5-16 4-11 4-13 5-6 4 1 5 4 4 5 4 6 5 7 4 4 5-1 4-4 4-1 5-1 4 1 5 3 4 7 4 6 5-3 4-7 5 1 4 10 4 3 5-4 4 2 5 13 4 9 4-19 5-26 4-12 5 0 4 0 4 1 5 0 4 5 5 14 4 5 4-2 5-1 4 2 5 3 4 6 4 7 5 6 4-2 5-3 4 1 4 4 5 6 4 10 5 13 4 12 4-2 5-10 4-12 5-10 4-5 4-7 5 2 4 13 5 15 4 6 4-9 4-11M865 104l2 7 2 7 2 3 2 12 2 15 2 15 2 17 2 18 2 15 2 1 2 4 2 9 2 7 2 7 4 17 5 18 4 1 5-1 4 18 4 24 5 2 4 2 5-18 4-20 4-3 5 11 4 16 5-1 4-17 4-16 5-7 4 7 5 18 4 13 4 8 5-2 4-3 5 7 4 12 4 7 5-5 4-4 5-3 4-6 4 0 5 5 4 6 5-4 4-10 4-3 5 11 4 9 5 2 4-2 4 0 5 2 4-8 5-14 4-10 4-1 5 5 4 5 5 2 4 3 4 0 5-2 4 2 5 7 4 5 4-2 5-7 4-3 5 3 4 9 4 8 5-6 4-6 5 8 4 14 4 6 5-5 4-9 5-8 4-4 4-3 5 1 4 9 5 17 4 6 4-11 5-12 4-1 5 5 4 1 4-5 5-6 4-3 5 6 4 10 4 4 5 10 4 16 5 9 4-10 4-14 5-9 4-1 5 11 4 23 4 17 5-8 4-15 5-5 4-3 4-9 5-12 4-2 5 7 4 9 4 8 5 4 4 2 5 2 4 3 4-7 5-16 4-11 5-2 4 5 4 12 4 12M865 104l2 9 2 10 2 12 2 16 2 13 2 26 2 54 2 9 2-13 2-28 2-9 2 1 2 11 2 18 4 13 5 5 4-8 5-6 4 9 4 24 5 19 4 1 5-13 4-9 4 7 5 9 4 2 5 2 4 9 4 8 5-4 4-1 5 9 4 10 4 9 5 13 4 6 5-8 4-6 4 11 5 15 4-1 5-16 4-16 4-10 5-7 4-4 5-1 4 2 4 4 5 1 4-6 5-3 4 4 4 16 5 22 4 28 5 6 4-8 4-27 5-21 4-17 5-7 4 6 4 20 5 14 4-1 5-10 4-6 4 0 5 2 4-6 5-8 4-2 4 5 5 7 4 4 5 0 4 3 4 5 5 4 4 1 5-9 4-10 4 0 5 8 4 9 5-5 4-11 4-3 5 11 4 22 5 16 4 1 4-5 5-3 4-3 5-9 4-12 4-3 5 4 4 8 5 3 4-4 4-4 5-4 4-1 5-2 4-2 4-1 5 6 4 12 5 9 4-8 4-13 5-7 4 0 5 2 4 4 4-3 5-3 4 0 5 2 4 7 4 4 5 7 4 17 5 7 4-2 4 1 4 10M865 104l2 6 2 10 2 13 2 6 2 12 2 32 2 63 2 8 2-5 2-11 2-13 2-3 2 18 2 20 4 10 5 5 4-2 5 12 4 16 4 3 5-8 4-9 5-3 4 0 4-5 5-13 4-9 5 0 4 10 4 14 5 11 4 1 5-9 4-5 4 5 5 14 4 7 5 2 4-2 4 1 5 2 4-5 5-18 4-8 4 9 5 17 4 10 5-5 4-1 4 2 5 0 4-4 5-5 4 7 4 13 5 3 4-3 5-5 4 5 4 2 5-4 4-4 5-5 4-1 4 3 5 2 4-1 5-2 4 3 4 7 5 15 4 17 5 10 4-3 4-6 5-5 4-7 5-4 4 9 4 15 5-6 4-20 5-13 4 2 4 8 5 9 4 14 5 17 4-8 4-20 5-14 4 9 5 21 4 18 4 4 5-10 4-8 5 2 4 7 4 1 5 3 4 13 5 9 4-10 4-22 5-10 4-2 5 1 4 5 4 9 5 5 4-8 5-10 4-10 4 2 5 16 4 17 5-3 4-10 4-3 5-3 4-21 5-12 4 1 4 4 5 1 4 5 5 12 4 10 4-8 4-14M865 103l2 3 2 9 2 25 2 21 2 18 2 16 2 17 2 6 2 14 2 10 2 3 2-7 2-12 2-5 4 9 5 10 4 4 5 5 4 13 4 8 5 0 4 5 5 11 4 8 4 3 5 3 4 4 5 5 4 9 4 15 5 12 4 3 5-13 4-36 4-18 5 11 4 16 5-5 4-23 4-7 5 9 4 18 5 4 4-8 4-5 5 4 4 15 5 9 4-1 4-12 5-10 4 2 5 5 4 5 4 4 5-6 4-11 5-4 4 8 4 19 5 13 4 3 5-1 4-1 4 0 5 5 4 8 5 8 4 8 4-10 5-18 4-14 5 3 4 14 4 8 5 13 4 15 5 3 4-14 4-16 5-7 4 0 5 6 4 7 4 6 5 5 4-1 5-3 4-9 4-3 5 0 4-10 5-13 4-7 4 4 5 19 4 13 5-4 4-15 4-6 5 0 4-1 5-2 4 1 4 11 5 16 4 2 5-6 4 0 4 10 5 5 4-6 5-11 4-6 4 6 5 10 4 4 5-1 4-2 4-4 5-10 4-6 5 1 4 13 4 22 5 16 4 2 5-9 4-8 4-4 4 0M865 104l2 6 2 0 2 7 2 16 2 15 2 15 2 17 2 19 2 18 2 13 2 2 2-4 2 0 2 2 4 7 5 7 4 8 5 9 4 3 4-8 5-9 4-3 5 1 4 4 4 6 5 10 4 14 5 12 4 5 4-3 5-4 4-9 5-4 4 12 4 20 5 17 4 2 5-18 4-25 4-12 5 2 4 7 5 4 4 5 4 17 5 14 4 1 5-17 4-15 4 7 5 21 4 7 5-1 4 6 4 15 5 6 4-12 5-16 4-14 4 2 5 12 4 7 5 2 4-1 4-1 5-7 4 5 5 15 4 11 4-7 5-20 4-14 5-1 4 2 4 0 5-1 4 2 5 5 4-1 4-3 5 0 4-2 5 1 4 9 4 14 5 5 4-9 5 0 4 12 4 4 5-4 4-9 5 0 4 8 4 9 5 2 4-12 5-14 4-3 4 5 5 6 4 2 5 2 4 1 4 7 5 9 4 9 5-1 4-9 4-7 5 5 4 11 5 7 4-5 4-9 5-10 4 0 5 14 4 12 4 1 5-9 4-2 5 6 4 5 4-1 5-1 4 2 5-6 4-18 4-12 4 7M865 105l2 5 2 0 2 7 2 16 2 15 2 16 2 46 2 42 2 1 2-1 2-14 2-14 2-2 2 12 4 13 5 5 4-2 5 10 4 22 4 22 5 6 4-24 5-24 4-8 4 8 5 8 4 4 5 8 4 7 4 15 5 17 4-3 5-17 4-9 4-3 5-2 4-8 5-3 4 1 4-1 5 0 4 8 5 28 4 33 4 18 5-1 4-12 5-17 4-14 4-5 5 3 4 6 5 0 4-3 4-5 5-2 4 2 5 8 4 4 4-5 5-8 4 6 5 10 4 3 4-3 5 0 4 2 5 3 4 3 4 1 5 5 4 16 5 11 4-7 4-17 5-9 4-3 5 0 4-8 4-4 5 2 4 3 5-5 4-6 4 3 5 13 4 12 5-4 4-14 4 1 5 24 4 19 5-14 4-27 4-4 5 12 4 10 5 5 4 7 4 10 5 3 4-12 5-14 4-10 4 3 5 6 4 0 5-4 4-4 4 1 5 9 4 12 5 2 4-4 4-1 5 2 4-5 5-6 4 6 4 14 5 9 4 1 5-4 4 0 4 0 5-3 4-3 5-11 4-18 4-9 4 0M865 103l2 5 2 8 2 14 2 16 2 17 2 23 2 27 2 1 2 8 2 8 2 0 2-11 2-8 2 2 4 13 5 17 4 17 5 12 4 8 4 7 5 7 4 1 5-6 4-4 4 3 5-2 4-4 5 1 4 9 4 7 5-7 4-13 5-5 4 6 4 15 5 8 4 3 5 6 4 6 4-9 5-10 4 4 5 4 4-5 4 2 5 22 4 27 5-1 4-12 4-6 5-3 4-3 5 1 4 11 4 7 5-9 4-16 5-17 4-5 4 7 5 19 4 14 5 9 4-1 4-1 5 5 4 10 5 16 4 0 4-17 5-23 4-20 5-3 4 12 4 14 5 2 4-5 5-6 4-1 4 0 5 2 4 3 5 2 4 1 4-5 5-8 4 0 5 17 4 14 4 0 5-10 4-7 5 4 4 3 4-1 5-5 4-4 5 2 4 2 4-3 5-7 4-5 5 4 4 11 4 12 5 9 4 3 5-8 4-9 4-3 5 3 4 5 5 9 4 17 4 12 5-3 4-15 5-14 4-14 4 2 5 16 4 10 5-4 4-11 4 0 5 11 4 6 5-4 4-3 4 1 4 4M865 104l2 11 2 12 2 6 2 8 2 14 2 23 2 41 2 13 2-3 2-7 2-5 2 2 2 1 2 0 4 2 5 5 4 7 5 15 4 15 4 9 5 2 4 0 5-4 4 1 4 2 5-6 4-4 5 1 4 11 4 19 5 23 4 16 5 1 4 3 4 12 5 5 4-9 5-11 4-11 4-6 5 2 4 6 5 9 4 2 4 0 5 3 4-11 5-13 4-8 4 10 5 18 4 5 5 1 4-5 4-13 5-15 4 0 5 17 4 10 4-10 5-14 4 5 5 10 4 7 4 11 5 2 4-6 5-3 4 2 4-5 5-11 4 13 5 31 4 13 4-15 5-20 4-9 5-6 4-5 4 4 5 5 4 1 5 4 4 7 4 9 5 3 4-5 5-11 4-15 4-1 5 9 4 10 5 3 4 10 4 23 5 12 4-8 5-17 4-10 4-2 5 0 4-1 5-7 4-12 4 2 5 14 4 3 5-11 4-11 4-1 5 4 4 9 5 14 4 10 4-1 5-4 4-2 5 0 4 1 4 2 5 1 4-8 5-7 4 2 4 3 5-6 4-6 5 5 4 10 4 0 4-11M865 103l2 8 2 12 2 12 2 12 2 12 2 17 2 21 2 9 2 9 2 16 2 13 2-3 2-10 2-2 4 15 5 17 4-5 5-12 4 1 4 5 5-2 4-3 5 3 4 12 4 12 5 8 4 6 5 5 4 12 4 23 5 15 4-7 5-20 4-12 4-4 5-16 4-17 5-1 4 4 4 15 5 9 4-1 5 9 4 22 4 25 5 9 4-12 5-23 4-23 4-6 5 10 4 8 5-14 4-12 4 3 5 15 4 15 5 1 4-1 4 4 5 0 4-9 5-15 4-5 4 1 5 5 4 3 5-3 4 1 4 9 5 15 4 15 5 10 4 2 4-5 5-4 4 1 5 5 4 1 4-2 5-8 4-13 5 3 4 24 4 23 5-3 4-22 5-17 4-11 4-5 5 4 4 11 5 10 4 4 4 2 5-1 4-3 5-5 4-8 4-4 5 6 4 22 5 24 4 7 4-12 5-10 4-3 5-4 4-5 4 0 5 13 4 13 5-7 4-11 4 6 5 28 4 17 5-21 4-38 4-25 5-1 4 9 5 16 4-2 4-11 5 5 4 40 5 40 4 1 4-17 4-27M865 104l2 5 2 2 2 6 2 16 2 16 2 21 2 15 2 11 2 14 2 8 2-3 2 0 2 3 2 3 4 10 5 15 4 17 5 0 4-12 4 0 5 14 4 14 5-6 4-21 4-7 5 1 4 3 5 5 4 2 4 3 5 11 4 20 5 16 4 15 4-2 5-11 4-3 5 6 4 7 4 3 5 3 4-7 5-19 4-15 4 0 5 12 4 20 5 19 4 7 4-7 5-10 4-2 5 10 4 18 4 14 5-17 4-34 5-20 4 3 4 20 5 20 4 17 5 10 4 0 4-14 5-20 4-15 5 0 4 9 4 10 5 3 4 5 5 4 4-2 4-6 5-9 4 0 5 4 4-3 4-12 5-9 4 1 5 5 4 20 4 13 5-3 4-8 5 2 4 8 4 0 5-4 4 0 5 8 4 6 4 0 5-4 4-4 5-8 4-5 4-1 5-1 4-1 5 1 4 8 4 18 5 7 4-7 5-15 4-8 4 6 5 15 4 20 5 25 4 6 4-16 5-21 4-3 5 14 4 5 4-9 5-5 4 5 5-2 4-17 4-7 5 12 4 11 5 0 4-4 4 2 4 6M865 104l2 10 2 9 2 12 2 16 2 2 2 10 2 17 2 10 2 26 2 21 2 13 2 3 2 3 2 3 4 1 5 4 4 1 5-6 4-10 4 1 5 8 4 13 5 5 4-11 4-8 5 2 4 10 5 10 4 0 4 8 5 13 4 14 5 9 4 6 4 3 5-13 4-23 5-19 4 1 4 12 5 14 4 10 5 3 4-6 4-14 5-3 4 6 5-1 4-8 4-8 5 0 4 8 5 19 4 24 4 18 5-3 4-15 5-9 4-5 4 5 5 4 4 1 5-7 4-13 4-4 5 2 4 5 5 5 4-4 4-9 5-3 4 8 5 27 4 24 4 6 5-22 4-25 5-4 4 12 4 8 5-6 4-3 5 4 4 7 4-1 5 0 4 2 5-1 4-5 4-10 5-6 4 0 5 8 4 16 4 12 5 8 4-3 5-21 4-17 4-2 5 14 4 21 5 3 4-10 4-10 5 1 4 13 5 13 4 11 4 6 5-5 4-10 5-9 4-15 4-10 5 4 4 19 5 13 4-2 4-7 5 2 4 6 5 1 4-2 4 1 5 5 4-2 5-14 4-13 4-4 4 3M865 102l2 5 2 9 2 8 2 9 2 15 2 15 2 18 2 13 2 7 2 7 2 13 2 11 2 5 2 6 4 9 5 9 4 13 5 17 4 1 4-26 5-23 4-1 5 14 4 22 4 12 5 1 4 0 5-2 4 1 4 8 5-3 4-6 5 3 4 13 4 13 5-3 4-10 5-9 4-12 4-4 5 1 4 12 5 19 4 13 4-2 5-7 4-3 5-6 4-2 4 5 5 7 4-1 5 2 4 22 4 32 5 4 4-11 5-29 4-24 4-15 5 0 4 10 5 17 4 10 4 3 5-2 4-1 5 7 4 12 4 2 5-15 4-12 5 5 4 10 4 7 5 0 4 0 5-3 4-9 4-3 5 11 4 10 5-1 4-7 4-4 5 0 4 4 5 9 4 7 4-3 5-3 4 8 5 7 4-4 4-12 5-15 4-11 5-8 4-1 4 6 5 13 4 15 5 9 4 1 4 5 5 15 4 12 5-6 4-23 4-14 5-8 4-8 5-8 4-5 4 1 5 4 4 6 5 10 4 14 4 7 5 6 4 3 5 3 4-3 4-9 5-2 4 6 5 8 4-2 4-15 4-12M865 105l2 13 2 15 2 8 2 2 2 9 2 14 2 26 2 34 2 17 2-4 2-13 2-5 2 6 2 4 4 10 5 22 4 15 5-11 4-23 4-4 5 13 4 21 5 3 4-5 4 5 5 1 4-8 5-2 4 8 4 1 5-7 4 6 5 25 4 17 4-12 5-17 4 0 5 15 4 12 4-1 5-7 4-6 5 0 4 4 4 1 5-8 4-11 5-5 4 6 4 17 5 10 4-9 5-10 4 0 4 11 5 9 4 2 5-2 4-2 4-3 5-7 4 1 5 18 4 17 4-2 5-18 4-11 5-1 4-1 4 4 5 16 4 21 5 7 4-5 4-7 5-2 4 1 5-2 4-6 4-8 5-3 4 3 5 4 4 1 4-1 5 1 4-2 5-1 4 8 4 14 5 3 4-14 5-15 4-7 4-1 5 1 4 4 5 4 4-1 4 1 5 4 4 10 5 12 4 0 4-1 5 2 4 7 5 4 4-1 4 3 5 1 4-7 5-8 4-5 4 2 5 1 4 3 5 9 4 10 4 7 5 0 4-7 5-10 4-6 4 10 5 19 4 18 5 4 4-8 4-11 4-10M865 104l2 14 2 15 2 14 2 14 2 14 2 18 2 14 2-1 2 8 2 7 2 4 2-3 2-5 2 2 4 19 5 24 4-2 5-11 4 6 4 10 5 2 4 0 5 6 4 3 4-9 5-5 4 5 5 8 4 1 4-10 5-5 4 5 5 18 4 15 4 1 5-1 4 2 5 2 4 1 4 10 5 21 4 8 5-4 4-1 4 3 5 1 4-1 5 5 4 8 4-3 5-10 4 1 5 5 4-7 4-17 5-10 4 10 5 9 4 0 4 1 5-2 4-8 5-6 4 10 4 9 5-3 4-15 5-8 4 4 4 16 5 19 4 13 5-3 4-12 4-12 5-10 4 1 5 6 4 2 4-7 5-8 4-2 5 3 4 7 4 14 5 12 4 16 5 17 4 4 4-15 5-22 4-6 5 7 4 6 4-2 5-4 4 2 5 12 4 16 4 10 5-3 4-9 5-9 4-8 4-13 5-18 4-3 5 10 4 15 4 7 5 6 4 3 5-14 4-20 4-1 5 20 4 24 5 11 4-1 4-5 5-5 4-5 5-4 4 4 4 10 5 0 4-17 5-20 4-1 4 7 4-3M865 104l2 8 2 6 2 5 2 19 2 25 2 33 2 37 2-3 2 0 2 1 2 0 2-9 2-15 2-1 4 8 5 17 4 34 5 22 4 14 4-6 5-17 4-8 5 2 4 5 4 4 5 1 4 6 5 11 4-7 4-19 5-11 4 6 5 7 4-1 4 2 5 10 4 14 5 13 4 14 4 9 5-8 4-18 5-7 4 10 4 19 5-1 4-16 5-11 4-10 4-11 5-8 4 1 5 4 4 11 4 15 5 15 4 5 5 1 4 2 4 6 5 4 4-10 5-14 4-8 4 2 5 10 4 11 5 5 4-3 4-7 5-10 4-14 5-4 4 1 4 1 5 7 4 8 5 7 4 3 4 0 5 1 4 4 5 4 4-2 4 3 5 10 4 9 5-4 4-7 4-1 5 2 4 6 5 13 4 10 4-5 5-9 4-3 5 1 4-1 4 5 5 12 4-3 5-18 4-10 4 8 5 15 4 2 5-13 4-3 4 10 5 8 4-13 5-25 4-8 4 6 5 12 4 13 5 7 4 5 4 0 5-4 4-2 5 9 4 14 4-2 5-12 4-13 5-10 4-4 4 1 4 9M865 104l2 7 2 2 2 4 2 16 2 15 2 15 2 17 2 14 2 12 2 7 2 5 2 0 2 7 2 20 4 23 5 12 4-15 5-8 4 5 4-3 5-7 4-5 5-1 4 1 4 5 5 9 4 9 5 13 4 12 4 2 5-14 4-16 5-4 4 7 4 17 5 13 4 1 5-3 4 6 4 12 5 12 4 3 5-12 4-15 4-12 5-4 4 5 5 6 4 15 4 19 5 23 4 10 5-23 4-23 4-13 5 6 4 12 5 3 4 0 4 1 5-1 4-2 5 1 4 6 4 2 5-11 4-16 5-9 4 1 4 4 5 2 4-2 5 2 4 8 4 9 5 8 4 0 5-8 4-6 4 5 5 19 4 16 5-1 4-11 4-1 5 13 4 1 5-16 4-17 4-1 5 9 4 9 5 7 4 8 4 7 5-1 4-7 5-2 4 0 4-2 5-2 4-3 5-1 4 1 4 6 5 8 4 6 5 9 4 3 4-4 5 1 4 7 5 0 4-11 4-4 5 11 4 14 5 13 4 8 4-6 5-22 4-16 5-3 4-5 4-12 5 5 4 19 5 17 4 2 4-8 4 0M865 103l2 5 2 6 2 12 2 20 2 17 2 21 2 30 2 4 2-8 2-6 2 3 2 9 2 1 2 0 4 15 5 27 4 13 5-13 4-12 4 3 5 25 4 34 5 9 4-23 4-26 5-13 4 4 5 20 4 24 4 13 5-11 4-13 5 0 4 10 4 6 5-10 4-13 5-1 4 6 4 5 5 2 4-1 5-8 4-6 4 3 5 7 4 7 5 9 4 4 4-11 5-9 4 1 5 9 4-2 4-5 5 7 4 11 5 3 4 4 4 8 5 7 4-4 5-8 4 2 4 7 5 5 4 3 5 0 4-1 4 0 5-1 4 4 5 6 4 7 4 3 5-6 4-15 5-20 4-2 4 10 5 15 4 1 5-1 4 6 4 3 5-5 4-8 5-3 4-4 4-9 5 0 4 22 5 26 4-2 4-21 5-21 4-1 5 16 4 19 4 12 5-4 4-9 5-8 4-6 4 8 5 9 4 2 5 4 4 13 4 13 5-14 4-29 5-19 4 4 4 26 5 18 4-2 5-14 4-13 4-5 5 10 4 26 5 20 4-4 4-5 5 1 4 2 5-4 4-6 4-8 4-8M865 103l2 9 2 7 2 2 2 17 2 30 2 38 2 39 2-12 2 0 2 8 2 9 2 2 2-5 2-4 4 11 5 27 4 8 5-20 4-15 4 0 5 2 4-2 5 0 4 0 4-3 5-3 4 6 5 25 4 18 4-3 5-14 4-15 5-6 4 3 4 11 5 24 4 20 5 5 4-5 4-1 5 8 4 1 5-11 4-4 4-3 5-6 4-8 5-2 4 2 4 5 5 7 4-4 5-11 4-8 4 1 5 2 4 12 5 18 4 16 4 11 5 9 4-4 5-14 4-14 4-7 5 3 4 1 5-4 4-1 4 3 5 8 4 4 5-3 4-6 4-4 5 0 4 6 5 13 4 6 4-10 5-6 4 9 5 11 4 0 4-4 5 8 4 11 5 12 4 9 4 6 5-5 4-16 5-16 4-21 4-11 5 0 4 7 5 15 4 11 4 1 5 3 4 2 5-2 4-4 4 0 5 5 4 7 5 6 4 0 4-9 5-9 4-5 5-2 4-5 4-6 5 0 4 6 5 7 4 2 4-2 5 7 4 16 5 17 4 8 4 0 5 6 4 11 5-3 4-21 4-21 4-12M865 103l2 6 2 4 2 8 2 17 2 16 2 18 2 38 2 32 2 6 2-18 2-18 2 0 2 16 2 10 4-2 5 3 4 20 5 23 4 2 4-13 5-4 4 11 5 11 4 4 4 1 5 4 4 0 5-7 4-5 4 1 5 6 4 6 5 1 4-5 4-8 5 4 4 16 5 19 4 9 4-1 5-10 4-10 5 2 4 19 4 14 5-11 4-17 5-5 4 6 4 10 5 0 4-14 5-11 4 7 4 1 5-18 4-12 5 1 4 6 4 15 5 9 4 8 5 9 4 5 4-12 5-11 4 7 5 13 4 1 4-11 5 2 4 16 5 17 4-1 4-18 5-14 4 2 5 7 4 0 4 4 5 14 4 21 5 9 4-10 4-19 5-20 4-12 5-1 4 6 4 17 5 17 4 11 5-7 4-14 4-11 5-8 4-1 5 8 4 13 4 16 5 9 4-16 5-25 4-12 4 4 5 14 4 13 5 2 4-12 4-9 5 3 4 5 5-1 4 9 4 19 5 8 4-13 5-17 4-8 4-3 5-2 4 3 5 5 4 3 4 2 5 0 4 7 5 10 4 12 4 6 4-15M865 104l2 9 2 12 2 9 2 17 2 16 2 12 2 12 2 8 2 9 2 1 2 4 2 11 2 6 2 2 4 10 5 21 4 7 5-12 4-6 4 0 5 5 4 7 5 1 4-4 4-1 5 3 4 3 5 5 4 18 4 18 5-4 4-19 5-5 4 10 4 10 5 5 4 1 5-5 4-11 4-7 5-1 4 4 5 9 4 21 4 16 5 3 4-9 5-5 4 3 4-3 5-7 4-1 5 3 4-4 4-4 5 3 4 8 5 4 4-1 4 0 5-5 4-8 5 1 4 11 4 9 5-5 4 0 5 18 4 25 4-2 5-28 4-25 5-10 4 0 4 5 5 19 4 18 5-6 4-16 4 2 5 13 4 8 5-2 4-7 4 3 5 11 4 14 5 8 4 0 4-1 5-4 4-12 5-18 4-11 4 0 5 5 4 8 5 12 4 15 4 16 5 2 4-11 5-20 4-19 4-7 5 0 4 1 5-3 4 1 4 15 5 22 4 12 5-7 4-7 4-1 5 6 4 8 5 1 4-7 4-8 5-4 4 3 5 1 4-7 4-5 5-1 4 3 5 11 4 9 4 1 4-7M865 104l2 9 2 13 2 14 2 14 2 13 2 13 2 18 2 13 2 5 2-1 2-5 2-6 2 3 2 3 4 19 5 51 4 24 5 4 4-7 4-12 5 4 4 8 5 8 4 1 4-14 5-19 4-16 5 0 4 14 4 20 5 13 4-6 5-17 4-13 4 0 5 14 4 26 5 31 4 13 4-14 5-15 4 3 5 16 4 6 4-2 5 1 4-1 5-9 4-16 4-10 5 1 4 6 5 7 4 3 4 6 5 9 4 0 5-10 4-12 4-7 5-2 4-1 5 3 4 6 4 5 5 2 4 6 5 5 4 1 4-2 5 4 4 7 5 2 4 1 4-1 5-2 4-5 5-10 4-8 4 7 5 20 4 22 5 0 4-14 4-12 5-3 4-3 5-8 4 1 4 11 5 11 4-1 5-15 4-18 4-5 5 2 4 4 5 7 4 12 4 10 5 10 4 3 5-6 4-16 4-18 5-4 4 3 5 8 4 11 4 2 5-10 4-9 5 0 4 3 4-1 5 3 4 9 5 16 4 3 4-4 5-8 4-9 5-9 4-6 4 0 5 5 4 8 5 7 4 9 4 12 4 10M865 103l2 3 2 4 2 8 2 19 2 18 2 23 2 29 2 7 2 6 2 3 2-9 2-10 2 3 2 5 4 22 5 21 4 7 5-2 4 0 4 4 5 8 4 3 5-5 4-7 4 0 5 16 4 14 5 9 4 9 4 9 5 6 4-4 5-5 4 1 4 0 5-3 4 0 5-6 4-10 4-10 5-2 4 2 5 2 4 12 4 20 5 25 4 20 5 3 4 1 4-15 5-29 4-20 5-7 4 3 4 7 5 6 4 7 5 7 4 0 4-5 5-2 4 3 5-1 4-4 4 2 5-1 4-4 5 1 4-1 4-5 5-5 4-2 5 1 4 1 4 2 5 1 4 3 5 5 4 3 4-4 5-3 4 5 5 21 4 18 4 0 5-14 4-2 5 9 4 3 4-14 5-18 4-1 5 5 4 7 4 14 5 20 4 15 5-8 4-22 4-17 5-2 4 16 5 15 4 1 4-5 5 3 4 10 5 3 4-11 4-7 5 3 4 5 5-5 4-12 4-6 5 5 4 6 5 5 4 11 4 13 5 3 4-4 5-3 4-6 4-10 5-15 4-9 5 2 4 14 4 19 4 9M865 103l2 3 2 4 2 7 2 29 2 25 2 20 2 29 2 7 2-2 2 2 2 5 2-3 2-4 2 1 4 17 5 20 4 14 5 12 4 10 4-2 5-15 4-18 5-8 4 8 4 17 5 18 4 11 5-3 4-8 4-2 5 13 4 17 5-3 4-20 4-19 5-5 4 4 5 14 4 18 4 18 5 3 4-15 5-13 4-5 4 8 5 12 4 9 5-9 4-20 4-12 5 2 4 9 5 9 4 7 4 2 5-3 4 1 5 6 4 4 4 5 5 11 4 11 5 2 4-11 4-17 5-19 4-7 5 6 4 16 4 7 5-1 4 1 5 4 4 8 4 5 5 6 4-1 5-2 4 4 4 7 5 1 4-7 5-11 4-5 4 4 5 7 4 4 5 3 4 5 4 1 5-7 4-6 5-3 4-4 4-5 5 6 4 6 5-4 4-12 4-7 5 3 4 3 5 1 4 4 4 3 5-7 4-12 5-5 4 3 4 6 5-1 4-6 5 0 4 7 4 23 5 16 4 3 5-2 4-3 4-4 5-4 4-2 5 4 4 6 4 6 5 0 4-5 5-5 4 0 4 11 4 22M865 105l2 12 2 13 2 6 2 5 2 11 2 20 2 36 2 16 2 3 2-2 2 3 2 11 2 6 2-2 4-4 5-2 4 4 5 10 4 16 4 2 5-11 4-3 5 11 4 11 4-4 5-8 4 0 5 14 4 9 4 1 5 10 4 15 5 9 4-10 4-6 5 6 4 3 5-4 4-4 4 5 5 13 4 13 5 2 4-16 4-16 5-12 4 1 5 0 4-4 4-2 5 3 4 11 5 17 4 11 4-4 5-13 4-6 5 14 4 6 4-15 5-13 4 13 5 31 4 16 4-6 5-7 4 4 5 3 4-4 4 0 5-1 4-8 5-8 4-13 4-8 5 0 4 11 5 24 4 16 4-14 5-29 4-13 5 7 4 29 4 30 5 1 4-28 5-19 4 7 4 11 5-9 4-15 5 3 4 16 4 5 5-7 4-11 5-5 4-1 4 1 5 2 4 5 5 13 4 11 4-2 5-12 4-11 5-4 4 4 4 14 5 13 4-5 5-16 4 1 4 12 5 17 4 6 5-4 4 0 4-5 5-9 4 5 5 16 4 21 4 4 5-9 4-1 5-4 4-11 4-10 4-15M865 102l2 4 2 4 2 9 2 22 2 16 2 9 2 16 2 29 2 20 2-1 2-9 2-1 2 4 2 1 4 2 5 12 4 32 5 28 4 2 4-23 5-22 4 0 5 19 4 12 4-7 5-20 4-1 5 24 4 23 4 5 5-23 4-29 5-4 4 2 4 6 5 8 4 12 5 24 4 11 4-11 5-14 4 7 5 19 4 10 4-8 5-9 4-5 5 0 4-6 4-3 5 10 4 18 5 10 4-3 4 6 5 17 4 6 5-13 4-8 4 5 5-1 4-19 5-24 4 1 4 24 5 27 4 12 5-9 4-10 4-2 5-1 4-5 5-15 4-16 4-1 5 11 4 23 5 14 4-4 4-12 5-15 4 0 5 19 4 21 4 3 5-12 4-10 5-12 4-7 4 0 5 6 4 3 5-3 4-3 4 5 5 15 4 18 5 3 4-17 4-16 5 2 4 18 5 21 4 11 4-12 5-18 4-7 5-6 4-10 4-8 5 3 4 20 5 16 4 5 4-6 5-9 4-11 5-2 4 15 4 16 5-3 4-17 5-9 4 16 4 29 5 28 4 3 5-2 4-19 4-17 4-11M865 104l2 8 2 9 2 14 2 15 2 13 2 17 2 30 2 27 2 16 2-1 2 0 2-9 2-14 2-11 4 0 5 9 4 12 5 21 4 16 4 4 5-7 4-10 5-11 4-2 4 6 5 6 4 6 5 12 4 13 4 2 5-15 4-10 5 1 4 11 4 12 5 2 4-6 5-2 4 13 4 12 5 0 4-18 5-17 4 3 4 20 5 20 4 8 5 1 4-6 4-11 5-13 4 0 5 3 4 1 4 6 5 12 4 13 5 14 4 7 4-1 5-10 4-11 5-10 4-9 4 0 5 10 4 11 5 3 4-1 4 1 5 3 4-1 5-3 4 7 4 12 5-1 4-18 5-15 4 9 4 23 5 5 4-19 5-20 4-1 4 10 5 8 4 3 5 0 4-3 4-8 5-10 4-4 5 1 4 3 4 3 5-1 4 4 5 6 4-1 4-7 5-6 4 2 5 10 4 17 4 15 5 15 4 9 5-2 4-13 4-17 5-13 4-4 5 2 4 3 4-1 5 0 4-4 5-5 4-2 4 7 5 19 4 10 5-8 4-13 4 5 5 18 4 13 5-3 4-6 4 5 4 11M865 103l2 5 2 9 2 15 2 14 2 11 2 12 2 11 2 10 2 10 2 9 2 6 2 0 2-5 2 0 4 8 5 9 4 22 5 31 4 14 4-6 5-12 4-3 5 0 4-6 4-3 5 4 4 5 5 6 4 0 4 4 5 8 4 6 5-2 4-12 4 1 5 11 4 5 5-10 4-15 4-7 5 6 4 12 5 0 4-8 4 6 5 34 4 33 5 1 4-21 4-14 5-5 4-3 5-3 4 8 4 18 5 14 4-10 5-23 4-18 4-3 5 7 4 9 5 2 4 5 4 15 5 11 4 4 5-5 4-7 4-11 5-12 4-7 5-1 4 12 4 22 5 2 4-16 5-4 4 13 4 14 5-1 4-20 5-14 4 0 4 14 5 19 4 3 5 2 4 5 4 2 5-2 4 4 5 9 4 11 4 6 5-9 4-16 5-7 4 5 4 2 5-8 4-13 5-4 4 7 4 9 5 3 4-7 5-10 4-2 4 8 5 12 4 4 5-2 4 0 4 5 5 3 4-1 5-4 4-8 4-11 5-4 4 6 5 21 4 15 4 4 5-6 4-6 5-1 4 2 4 5 4-4M865 105l2 13 2 12 2 3 2 5 2 10 2 15 2 19 2 22 2 8 2-4 2-2 2 8 2 20 2 18 4 8 5 4 4 5 5 22 4 20 4 7 5-14 4-11 5 1 4-5 4-11 5-14 4-5 5 2 4 10 4 14 5 5 4 4 5 12 4 8 4-15 5-24 4-2 5 14 4 17 4 4 5 0 4-8 5-11 4-8 4 1 5 8 4 14 5 15 4 15 4 12 5-3 4-15 5-8 4 8 4 21 5 9 4-13 5-12 4 4 4 9 5 1 4 0 5 4 4-8 4-16 5-8 4 8 5 8 4 3 4 0 5-5 4-10 5 11 4 23 4 17 5-3 4-12 5-7 4-3 4-6 5-6 4-3 5 5 4 5 4 1 5 2 4 14 5 15 4-5 4-18 5-7 4 4 5 0 4-3 4 0 5 2 4 0 5-4 4-5 4-7 5-1 4 11 5 16 4 11 4-2 5-6 4 0 5 12 4 15 4-2 5-18 4-12 5-1 4 2 4-1 5 0 4 6 5 9 4 2 4-4 5-5 4-6 5-2 4 3 4 9 5 13 4 7 5 1 4 2 4 1 4-3M865 102l2 10 2 21 2 14 2 14 2 4 2 25 2 44 2-6 2-14 2-1 2 20 2 20 2 3 2-5 4-16 5-3 4 5 5 16 4 22 4 9 5 0 4 4 5 8 4 3 4-7 5-9 4-10 5-10 4-5 4 0 5 7 4 15 5 18 4 14 4 4 5-6 4-7 5-4 4-4 4-11 5-7 4 8 5 8 4-5 4-3 5 13 4 17 5 0 4-3 4 5 5 4 4-2 5-11 4-8 4 2 5 22 4 31 5 16 4-9 4-18 5-9 4-7 5-3 4 6 4 11 5 11 4-3 5-18 4-23 4-9 5 0 4 7 5 14 4 17 4 7 5-2 4-7 5-11 4-3 4 12 5 13 4-3 5-9 4 8 4 29 5 19 4 0 5-18 4-18 4-6 5 0 4-1 5 0 4 9 4 10 5-2 4-7 5-6 4-2 4 1 5 3 4-2 5-8 4-3 4 10 5 6 4-3 5-11 4-11 4-5 5 6 4 25 5 18 4-8 4-17 5-7 4 3 5-1 4-10 4-6 5 0 4 5 5 8 4 6 4-2 5-2 4 4 5 8 4 6 4 6 4 14"/>
<path class="r" d="M865 102l1 8 1 8 1 8 1 7 1 8 1 7 1 7 1 7 1 8 1 10 1 12 1 16 1 18 1 22 1 4 1-5 1-5 1-5 1-2 1-2 1-2 1-1 1-1 1 0 1 1 1 1 1 2 1 2 1 2 1 2 1 3 1 3 1 4 1 4 1 5 1 7 1 8 1 7 1 8 1 6 1 0 1-1 1-1 1-2 1-2 1-2 1-1 1-1 1-2 1-1 1-1 1 0 1-1 1 0 1 0 1 1 1 0 1 2 1 1 1 1 1 1 1 1 1 1 1 1 1 1 1 1 1 0 1 1 1 1 1 0 1 0 1 0 1 0 1 0 1 0 1 0 1 0 1 0 1 0 1 0 3 1 3 0 3 0 3 1 3 1 3 1 3 1 3 2 3 1 3 1 3 1 3 1 3 1 3 0 3 1 3 1 3 1 3 1 3 1 3 0 3 1 3 1 3 1 3 1 3 0 3 1 3 1 3 1 3 0 3 1 3 1 3 1 3 0 3 1 3 1 3 0 3 1 3 0 3 1 3 0 3 1 3 0 3 1 3 0 3 1 3 0 3 1 3 0 3 1 3 1 3 0 3 1 3 0 3 1 3 0 3 1 3 0 3 1 3 0 3 1 3 0 3 1 3 0 3 0 3 1 3 0 3 1 3 0 3 0 3 1 3 0 3 0 3 1 3 0 3 0 3 1 3 0 3 1 3 0 3 0 3 1 3 0 3 0 3 1 3 0 3 1 3 0 3 1 3 0 3 0 3 1 3 0 3 1 3 0 3 1 3 0 3 1 3 0 3 0 3 1 3 0 3 1 3 0 3 1 3 0 3 0 3 1 3 0 3 1 3 0 3 1 3 0 3 0 3 1 3 0 3 0 3 1 3 0 3 1 3 0 3 0 3 1 3 0 3 0 3 1 3 0 3 0 3 1 3 0 3 0 3 0 3 1 3 0 3 0 3 1 3 0 3 0 3 1 3 0 3 0 3 0 3 1 3 0 3 0 3 1 3 0 3 0 3 0 3 1 3 0 3 0 3 0 3 1 3 0"/>
<path class="f" d="M432.5 18.5H703.5V239.5H432.5Z"/>
<path class="f" d="M486.5 239.5v-3M486.5 18.5v3M540.5 239.5v-3M540.5 18.5v3M594.5 239.5v-3M594.5 18.5v3M649.5 239.5v-3M649.5 18.5v3M432.5 50.5h3M703.5 50.5h-3M432.5 81.5h3M703.5 81.5h-3M432.5 113.5h3M703.5 113.5h-3M432.5 144.5h3M703.5 144.5h-3M432.5 175.5h3M703.5 175.5h-3M432.5 207.5h3M703.5 207.5h-3"/>
<text class="t" text-anchor="end" transform="translate(429.3 23.7) scale(0.845 1)">30</text>
<text class="t" text-anchor="end" transform="translate(429.3 55.7) scale(0.845 1)">40</text>
<text class="t" text-anchor="end" transform="translate(429.3 86.7) scale(0.845 1)">50</text>
<text class="t" text-anchor="end" transform="translate(429.3 118.7) scale(0.845 1)">60</text>
<text class="t" text-anchor="end" transform="translate(429.3 149.7) scale(0.845 1)">70</text>
<text class="t" text-anchor="end" transform="translate(429.3 180.7) scale(0.845 1)">80</text>
<text class="t" text-anchor="end" transform="translate(429.3 212.7) scale(0.845 1)">90</text>
<text class="t" text-anchor="end" transform="translate(429.3 244.7) scale(0.845 1)">100</text>
<text class="t" text-anchor="middle" transform="translate(431.5 253.8) scale(0.845 1)">0</text>
<text class="t" text-anchor="middle" transform="translate(485.5 253.8) scale(0.845 1)">1</text>
<text class="t" text-anchor="middle" transform="translate(539.5 253.8) scale(0.845 1)">2</text>
<text class="t" text-anchor="middle" transform="translate(593.5 253.8) scale(0.845 1)">3</text>
<text class="t" text-anchor="middle" transform="translate(648.5 253.8) scale(0.845 1)">4</text>
<text class="t" text-anchor="middle" transform="translate(702.5 253.8) scale(0.845 1)">5</text>
<text class="l" text-anchor="middle" x="566.9" y="267.8" textLength="63.6" lengthAdjust="spacingAndGlyphs">Range(km)</text>
<text class="l" text-anchor="middle" transform="translate(403.3 128.3) rotate(-90)" textLength="137.7" lengthAdjust="spacingAndGlyphs">Transmission loss(dB)</text>
<text class="a" transform="translate(490.5 70.0) scale(0.970 1)">zs=-50m</text>
<text class="s" x="364.8" y="270.3">(b)</text>
</g>
<g id="pc">
<path class="g" d="M132.5 280.5V500.5M186.5 280.5V500.5M240.5 280.5V500.5M294.5 280.5V500.5M78.5 312.5H349.5M78.5 343.5H349.5M78.5 374.5H349.5M78.5 405.5H349.5M78.5 437.5H349.5M78.5 468.5H349.5"/>
<path class="k" d="M157 631l2 5 2 5 2 9 2 17 2 19 2 19 2 11 2 6 2 15 2 15 2 4 2-1 2-1 2 1 4 5 5 12 4 18 5 5 4-3 4-2 5 6 4 10 5-1 4-1 4 9 5 5 4 1 5-1 4 4 4-1 5-2 4 10 5 12 4 0 4-12 5-9 4 1 5 4 4 0 4 4 5 4 4 5 5 6 4 6 4 0 5 0 4 5 5 8 4 3 4-7 5-9 4-5 5 2 4 9 4 10 5 5 4-10 5-13 4-5 4 4 5 3 4-1 5 1 4 4 4 2 5-7 4-9 5 7 4 14 4 7 5 0 4-3 5-5 4-5 4 0 5 1 4-5 5-3 4 14 4 16 5 1 4-10 5-2 4 4 4 2 5-4 4-4 5-2 4-1 4 0 5 3 4 3 5 4 4 7 4 10 5 0 4-12 5-14 4-8 4-3 5 0 4 5 5 13 4 9 4 6 5 2 4-5 5-9 4-9 4 0 5 6 4 4 5-4 4-2 4 6 5 7 4-1 5-9 4-3 4-1 5-5 4-8 5-1 4 2 4 11 5 6 4-2 5 9 4 19 4 4 4-16M157 619l2 9 2 10 2 11 2 9 2 4 2 9 2 22 2 37 2 22 2-8 2-2 2 0 2 0 2 0 4 0 5 16 4 38 5 12 4-2 4 2 5 11 4 7 5 2 4 9 4 10 5-1 4-13 5-17 4-11 4 5 5 14 4 13 5-1 4-10 4-12 5-11 4-4 5 5 4 10 4 13 5 7 4 12 5 17 4 15 4-1 5-19 4-19 5-15 4 4 4 12 5 7 4 4 5-6 4-11 4-6 5 6 4 6 5-3 4-1 4 4 5 6 4-1 5-2 4-5 4-8 5-3 4 2 5 2 4 6 4 15 5 22 4 18 5-2 4-13 4-12 5-16 4-12 5-1 4 11 4 18 5 5 4-2 5-3 4-7 4-3 5 7 4 11 5 2 4-5 4 0 5 3 4 0 5-6 4-9 4-4 5-2 4 2 5 4 4 3 4-1 5 0 4 2 5 1 4 4 4 9 5 9 4 9 5 0 4-15 4-21 5-3 4 13 5 18 4 11 4 4 5-2 4-6 5-2 4 2 4-4 5-7 4-3 5 7 4 9 4 9 5 4 4 2 5 6 4-1 4-12 4-20M157 636l2 6 2 8 2 7 2 12 2 17 2 19 2 20 2 28 2 12 2-6 2-4 2 0 2 3 2 5 4 4 5 2 4 9 5 9 4 12 4 4 5-9 4 0 5 14 4 16 4 4 5-14 4-22 5-8 4 9 4 23 5 14 4 1 5-6 4-5 4-5 5-3 4 4 5 12 4 14 4 6 5-2 4 5 5 9 4 1 4-9 5-4 4 8 5 9 4 3 4-5 5-5 4 4 5-1 4-13 4-12 5-1 4 6 5-1 4-4 4 3 5 5 4 7 5 11 4 15 4 5 5-5 4-4 5-1 4-1 4-5 5-2 4 0 5 3 4 4 4 2 5-2 4-4 5 7 4 13 4 5 5-10 4-10 5 1 4 6 4-1 5-6 4 1 5 10 4 4 4-6 5-2 4 5 5-2 4-15 4-13 5 0 4 9 5 2 4-10 4-8 5 2 4 11 5 11 4-4 4-8 5 2 4 17 5 12 4-2 4-9 5-5 4 4 5 3 4-3 4-7 5-3 4-1 5 0 4 6 4 10 5 2 4-11 5-11 4 3 4 13 5 14 4 6 5-9 4-18 4-11 4 0M157 633l2 3 2 8 2 12 2 9 2 5 2 2 2 15 2 28 2 17 2 6 2 4 2 0 2 0 2 8 4 18 5 19 4 19 5 4 4-3 4-2 5 0 4 5 5 4 4-2 4-4 5-5 4 5 5 5 4 5 4 12 5 18 4 10 5-11 4-18 4-8 5 1 4 7 5 8 4 7 4 2 5-7 4-16 5-14 4-2 4 11 5 19 4 8 5 2 4 1 4 13 5 20 4 2 5 1 4-12 4-5 5-6 4-11 5-3 4 6 4 7 5 3 4 0 5-4 4-12 4-17 5-4 4 7 5 17 4 8 4-3 5 0 4 9 5 4 4-6 4-6 5 5 4 6 5 2 4 6 4 8 5 0 4-9 5-9 4 0 4 2 5-2 4-1 5 5 4 3 4 0 5 0 4-3 5-7 4-4 4 3 5 4 4-4 5-8 4-3 4 5 5 12 4 4 5-5 4-6 4-1 5 1 4 6 5 18 4 15 4-2 5-11 4-10 5-11 4-4 4 7 5 14 4 5 5-6 4-13 4-4 5 4 4 10 5 3 4-10 4-2 5 15 4 16 5-6 4-26 4-11 4 0M157 619l2 10 2 9 2 8 2 7 2 5 2 11 2 17 2 36 2 37 2 13 2-8 2-12 2-7 2-2 4 2 5 18 4 37 5 26 4 7 4 4 5-10 4-8 5-1 4 10 4 7 5 7 4 10 5-2 4-22 4-33 5-11 4 10 5 24 4 15 4 6 5-1 4-13 5-22 4-7 4 5 5 4 4-6 5-1 4 8 4 20 5 7 4-12 5-12 4 2 4 17 5 20 4 5 5-10 4-13 4-6 5-1 4 1 5 4 4 3 4-3 5-1 4 3 5 4 4 2 4 7 5 13 4 4 5-5 4-1 4 10 5 19 4 9 5-3 4-9 4-13 5-16 4-11 5 2 4 10 4 8 5-4 4-5 5-3 4-2 4-3 5-4 4 1 5 4 4 5 4 2 5-1 4-3 5-3 4-1 4 2 5 2 4-1 5-2 4 6 4 11 5 4 4-2 5 6 4 6 4-10 5-11 4-1 5 7 4 5 4-4 5 0 4 12 5 17 4 12 4 7 5 6 4 3 5-10 4-18 4-6 5 7 4 11 5-1 4-11 4-7 5-7 4-4 5-5 4-4 4 4 4 22M157 633l2 5 2 4 2 6 2 9 2 14 2 20 2 22 2 22 2 15 2 7 2-1 2-7 2-5 2 2 4 13 5 20 4 17 5 3 4 4 4 10 5 7 4-8 5-20 4-9 4 9 5 19 4 4 5-3 4-1 4 5 5 2 4-1 5-2 4-5 4-10 5-3 4 9 5 11 4 1 4 1 5 14 4 20 5 13 4 2 4-6 5-13 4-11 5-1 4 5 4 3 5-3 4 2 5 8 4 2 4-5 5-4 4 1 5 1 4-3 4-8 5-5 4 0 5 4 4 9 4 9 5-1 4-9 5-1 4 6 4 8 5 6 4 7 5 5 4-5 4-2 5 3 4 0 5-1 4 5 4 14 5 13 4 1 5-6 4-6 4-6 5-10 4-18 5-11 4 2 4 15 5 13 4-2 5-10 4-4 4 3 5 7 4 7 5 9 4 14 4 5 5-8 4-14 5-5 4 5 4 5 5-3 4-7 5-8 4-6 4-1 5 2 4 1 5 3 4 9 4 12 5 11 4 5 5-5 4-17 4-18 5-1 4 13 5 9 4-3 4-12 5-3 4 0 5-3 4 0 4 6 4 12M157 627l2 10 2 8 2 12 2 13 2 11 2 8 2 18 2 25 2 19 2 4 2-6 2-6 2 2 2 7 4 14 5 16 4 18 5 3 4-6 4-3 5 14 4 14 5-3 4-15 4-8 5 12 4 12 5-2 4-20 4-11 5 4 4 10 5 8 4 3 4 7 5 6 4 0 5 1 4 9 4 10 5 1 4-15 5-23 4-5 4 7 5 10 4 7 5 11 4 15 4 7 5-8 4-9 5-5 4 5 4 9 5 6 4 0 5 0 4 7 4 11 5 6 4-1 5-3 4-1 4 1 5-5 4-11 5-6 4 2 4-2 5-6 4-3 5-1 4-5 4-5 5 1 4 3 5-5 4-2 4 1 5 1 4 5 5 12 4 18 4 15 5 10 4-5 5-14 4-13 4-11 5-2 4 3 5 10 4 12 4 4 5 5 4 6 5-1 4-10 4-9 5 9 4 18 5 8 4-14 4-24 5-15 4 0 5 11 4 15 4 0 5-6 4 1 5 6 4 4 4 4 5 1 4-4 5-10 4-9 4-3 5-1 4 1 5 4 4 17 4 19 5 5 4-8 5-7 4-2 4-1 4 1M157 631l2 6 2 4 2 6 2 9 2 10 2 13 2 21 2 27 2 21 2 6 2-3 2-5 2-3 2 2 4 8 5 14 4 12 5-2 4-1 4-3 5 0 4 7 5 7 4 6 4 8 5 12 4 10 5 9 4-1 4-3 5 6 4 17 5 10 4 1 4 2 5-4 4-8 5-7 4-7 4-11 5-16 4 2 5 26 4 28 4 6 5-12 4-9 5 1 4 3 4-9 5-19 4-16 5 0 4 13 4 16 5-2 4-10 5 0 4 15 4 13 5 8 4 4 5 4 4-1 4-11 5-13 4-3 5 11 4 8 4-1 5-3 4-5 5-2 4 7 4 10 5 2 4-4 5-4 4-10 4-11 5-3 4 5 5 6 4 8 4 15 5 18 4 11 5-8 4-15 4-9 5-1 4 4 5 0 4-8 4-7 5 4 4 9 5-1 4-7 4 4 5 13 4 8 5-3 4-6 4-3 5 0 4-3 5-2 4 4 4 8 5 10 4 7 5-3 4-10 4-8 5-2 4 11 5 12 4 3 4-1 5 2 4 2 5-3 4-7 4-8 5-7 4 4 5 12 4 3 4-9 4-4M157 634l2 6 2 5 2 1 2 3 2 8 2 12 2 16 2 21 2 33 2 14 2-6 2-5 2 1 2 11 4 16 5 12 4 6 5-6 4-6 4-1 5 12 4 18 5 6 4-1 4 5 5 14 4 6 5-12 4-20 4-11 5 2 4 10 5 13 4 6 4 0 5 2 4 9 5 10 4 0 4-4 5 4 4 3 5 0 4-8 4-4 5 3 4 13 5 11 4-11 4-17 5-4 4 13 5 10 4-5 4-19 5-12 4-1 5 3 4 1 4 6 5 13 4 8 5-7 4-5 4 6 5 5 4-1 5-6 4-1 4 11 5 15 4 9 5-4 4-7 4-2 5-3 4 3 5 8 4 6 4-4 5-11 4-6 5 5 4 2 4 1 5 1 4 0 5-6 4-7 4 4 5 6 4 1 5-4 4 2 4 11 5 10 4 4 5-3 4-1 4 4 5 8 4 1 5-6 4-7 4-2 5 4 4 14 5 4 4-10 4-11 5-4 4 3 5 3 4 1 4-1 5 3 4 14 5 15 4 0 4-12 5-9 4-2 5 0 4-1 4-1 5-5 4-11 5-5 4 1 4 7 4 4M157 626l2 2 2 6 2 5 2 15 2 21 2 27 2 23 2 27 2 18 2-7 2-19 2-2 2 0 2 3 4 3 5 14 4 16 5-1 4-1 4 5 5 32 4 11 5-24 4-24 4-1 5 8 4 15 5 15 4 13 4 8 5 1 4-5 5-11 4-17 4-10 5 1 4 16 5 20 4 6 4-1 5 4 4 2 5-8 4-10 4 4 5 3 4-3 5 6 4 17 4 17 5 3 4-13 5-15 4-7 4 10 5 11 4 2 5-3 4-1 4 0 5-3 4-9 5-7 4 6 4 15 5 9 4-4 5-11 4-6 4 3 5 3 4 4 5 12 4 15 4 3 5-8 4 0 5 8 4-1 4-8 5-8 4-5 5 0 4 6 4 0 5-9 4-4 5 3 4 0 4-7 5-3 4 11 5 20 4 7 4-7 5-9 4-4 5 3 4-5 4-6 5-1 4 6 5 7 4-6 4-6 5 3 4 13 5 14 4 7 4-7 5-21 4-17 5 0 4 2 4 10 5 7 4-2 5-4 4 1 4 11 5 18 4 18 5 3 4-14 4-12 5-6 4-4 5-5 4-7 4-2 4 4M157 620l2 9 2 8 2 6 2 10 2 14 2 20 2 16 2 17 2 17 2 8 2 3 2 7 2 7 2-2 4-10 5 4 4 19 5 4 4-1 4-3 5 16 4 29 5 26 4 12 4-1 5-18 4-4 5 11 4 4 4-5 5-1 4 10 5-1 4-13 4-10 5-3 4 3 5-2 4-14 4-8 5 2 4 6 5-3 4-2 4 9 5 21 4 13 5-1 4-11 4-13 5 0 4 9 5 8 4 3 4 3 5 0 4-3 5-1 4 2 4-1 5-7 4-6 5-4 4-8 4 0 5 1 4 9 5 23 4 14 4 9 5 0 4-8 5-10 4-12 4 2 5 13 4 9 5 0 4-8 4-8 5-2 4 1 5 3 4 8 4 8 5 7 4 5 5 3 4-3 4-11 5-8 4 7 5 7 4-4 4-13 5 1 4 13 5 16 4 9 4-4 5-15 4-14 5-4 4 1 4 1 5 5 4 9 5 2 4-5 4-8 5-3 4 3 5 0 4-3 4-3 5-3 4-1 5 3 4 4 4 5 5 7 4 9 5 4 4-5 4-6 5 6 4 9 5 2 4-10 4-13 4-6M157 625l2 8 2 6 2 7 2 9 2 9 2 17 2 30 2 32 2 18 2-1 2-9 2-9 2 0 2 0 4 4 5 23 4 13 5-3 4-1 4 10 5 16 4 5 5-1 4-6 4-3 5 0 4-2 5-7 4-4 4 3 5 13 4 16 5-1 4-14 4-2 5 14 4 16 5 3 4-6 4-6 5-1 4-1 5-3 4-1 4 1 5 13 4 15 5 3 4-13 4-20 5-3 4 9 5 10 4 4 4 0 5 4 4 4 5-3 4-3 4 1 5 2 4 4 5 6 4 4 4 1 5-4 4-10 5-4 4 3 4 4 5-3 4-2 5 9 4 15 4 10 5 2 4 1 5 1 4-4 4-1 5 0 4-3 5-7 4-4 4 8 5 6 4 1 5-4 4-8 4-4 5 0 4 8 5 8 4 7 4 6 5 9 4 8 5 3 4-6 4-13 5-10 4 0 5 5 4 3 4 2 5 5 4 7 5-1 4-13 4-12 5-8 4-2 5 4 4 6 4 2 5 1 4 1 5-1 4 1 4 9 5 15 4 12 5 5 4 4 4-4 5-20 4-23 5-9 4 6 4 9 4 2M157 636l2 9 2 8 2 7 2 10 2 16 2 16 2 14 2 20 2 17 2 4 2-4 2-3 2-2 2-5 4-1 5 10 4 25 5 28 4 14 4-3 5-6 4 6 5 13 4 11 4 5 5-8 4-20 5-21 4-6 4 3 5 3 4-6 5-4 4 3 4 11 5 14 4 8 5 2 4 6 4 6 5 2 4-1 5 1 4-4 4-7 5-1 4 2 5-6 4-7 4 1 5 3 4 0 5-2 4 1 4 4 5 9 4 10 5 4 4 2 4 3 5 5 4 10 5 15 4 8 4-9 5-18 4-9 5-2 4 5 4 4 5-1 4-6 5-6 4-6 4-2 5 9 4 17 5 7 4-5 4-12 5-6 4 4 5 11 4 11 4 10 5 7 4 5 5-6 4-17 4-15 5 4 4 14 5 8 4 1 4 6 5 13 4 1 5-9 4-14 4-9 5-6 4-6 5-5 4-5 4-3 5-1 4 0 5 8 4 20 4 13 5 5 4 2 5-2 4-2 4 0 5 5 4 0 5-8 4-6 4-5 5-6 4-4 5 3 4 9 4 10 5 5 4-2 5-3 4-7 4-6 4 1M157 630l2 8 2 6 2 1 2 4 2 8 2 12 2 16 2 28 2 35 2 20 2 5 2-4 2-13 2-12 4 2 5 17 4 22 5 10 4 3 4-10 5-14 4-2 5 9 4 10 4 6 5 8 4 3 5 4 4 6 4 11 5 13 4 8 5-7 4-20 4-21 5-3 4 10 5 17 4 12 4 11 5 1 4-5 5 0 4-5 4-19 5-12 4 7 5 24 4 22 4 19 5 2 4 0 5-6 4-2 4 0 5-4 4-3 5-3 4-8 4-10 5-9 4 0 5 10 4 5 4-2 5-7 4-5 5-3 4-1 4 8 5 18 4 12 5 4 4 4 4 5 5 1 4-8 5-8 4-6 4-2 5 3 4 9 5 9 4 0 4-12 5-13 4-6 5-4 4-5 4 4 5 19 4 13 5 1 4 1 4 3 5-7 4-15 5-4 4 11 4 12 5 5 4-5 5-11 4-9 4 0 5 9 4 10 5-3 4-14 4 2 5 18 4 15 5-6 4-14 4-12 5-4 4-1 5 0 4-1 4 2 5 12 4 18 5 12 4 0 4-9 5-9 4-8 5-2 4 0 4-5 4-4M157 631l2 11 2 8 2 5 2 9 2 15 2 12 2 10 2 17 2 17 2 13 2 8 2 3 2-2 2-6 4 0 5 13 4 20 5 10 4 13 4 16 5 7 4-6 5-8 4 0 4 3 5-1 4 0 5 7 4 17 4 15 5-4 4-19 5-12 4 3 4 13 5 12 4 5 5 1 4-4 4-3 5-1 4-9 5-10 4-6 4 4 5 9 4 8 5 11 4-1 4-10 5-6 4 3 5 1 4-2 4 4 5 5 4 1 5 2 4 6 4 3 5-7 4-13 5-7 4 4 4 12 5 10 4 3 5-3 4 1 4 3 5 4 4 1 5 3 4 5 4 2 5-4 4-9 5-10 4-7 4 1 5 7 4 9 5 5 4 3 4 3 5 0 4 4 5 5 4 2 4-3 5-3 4-2 5 0 4 2 4 4 5-6 4-11 5-2 4 14 4 19 5 5 4-16 5-22 4-11 4 5 5 13 4 7 5-4 4-11 4-7 5-5 4-5 5 0 4 6 4 21 5 12 4 0 5-4 4 3 4 3 5-5 4-5 5 5 4 0 4-17 5-13 4 0 5 9 4 20 4 14 4 7M157 619l2 11 2 16 2 13 2 8 2 3 2 11 2 30 2 38 2 23 2 5 2-8 2-6 2-2 2-3 4-6 5 7 4 29 5 29 4 16 4 8 5 5 4-6 5 0 4-3 4-17 5-10 4 2 5 15 4 16 4 2 5-12 4-10 5-1 4-3 4-10 5-5 4 5 5 10 4 3 4-2 5 5 4 12 5 13 4 4 4-3 5-9 4-14 5-9 4 2 4 10 5 13 4 15 5 14 4 3 4-10 5-8 4 3 5 8 4 10 4 4 5 5 4 0 5-2 4-7 4-10 5-12 4-13 5-6 4 7 4 11 5-1 4-8 5-1 4 9 4 6 5-4 4-10 5 0 4 12 4 10 5 4 4 0 5-4 4-6 4-3 5 2 4-2 5-7 4-3 4 7 5 11 4 2 5-4 4 0 4 7 5 0 4-6 5-3 4-2 4 2 5 4 4 9 5 6 4 5 4 1 5-7 4-1 5 2 4-3 4-15 5-11 4 3 5 13 4 12 4 1 5-2 4 2 5 3 4 0 4 5 5 11 4 3 5-12 4-13 4 6 5 16 4 12 5-6 4-16 4-12 4-6M157 638l2 2 2 6 2 8 2 11 2 9 2 6 2 16 2 24 2 22 2 11 2 8 2 6 2 5 2 0 4 8 5 14 4 2 5-12 4 1 4 17 5 13 4-1 5-11 4-1 4 13 5 8 4-8 5-13 4-1 4 8 5 6 4 1 5-4 4-5 4-1 5-1 4-4 5 2 4 7 4 11 5 10 4 4 5 2 4 0 4 2 5 9 4 2 5-11 4-11 4 6 5 17 4 11 5-4 4-10 4-7 5 4 4 11 5 5 4-3 4-5 5 1 4 6 5 1 4-7 4-11 5-3 4 4 5 9 4 5 4 1 5 0 4 0 5-3 4-10 4-8 5 2 4 12 5 10 4-4 4-9 5-2 4 3 5 4 4 9 4 6 5 0 4 0 5 0 4 2 4 6 5 8 4 5 5 1 4 4 4-2 5-11 4-5 5 3 4 5 4 3 5-4 4-10 5-13 4 2 4 10 5 7 4 3 5 2 4-5 4-16 5-10 4-1 5 4 4 9 4 5 5-7 4-7 5 2 4 13 4 10 5-2 4-1 5 5 4 3 4-2 5 1 4 4 5-1 4-11 4-9 4 3M157 621l2 9 2 8 2 5 2 10 2 16 2 18 2 11 2 13 2 17 2 11 2 4 2 3 2 5 2 6 4 4 5 3 4 15 5 10 4 11 4 8 5-3 4-13 5-3 4 9 4 12 5-5 4-11 5-3 4 3 4 3 5-2 4-2 5 2 4 8 4 11 5 8 4 1 5-2 4 4 4 9 5 6 4-2 5-1 4 4 4 1 5-9 4-11 5 0 4 9 4 11 5 1 4-7 5-10 4-7 4-4 5-2 4 4 5 12 4 14 4 5 5 3 4 6 5 7 4 5 4-1 5-7 4-9 5-4 4 10 4 12 5 5 4-1 5-4 4-5 4-5 5-1 4 6 5 9 4 8 4-1 5-10 4-10 5-5 4 3 4 8 5 5 4 3 5-2 4-8 4-10 5 0 4 13 5 11 4-4 4-12 5-9 4-5 5-2 4 5 4 9 5 1 4-2 5 6 4 10 4 1 5-2 4-2 5 2 4 0 4-6 5-7 4 1 5 14 4 13 4 4 5-7 4-16 5-7 4 7 4 12 5 2 4 1 5 5 4 0 4-5 5-9 4-6 5-1 4 10 4 24 4 19M157 628l2 10 2 9 2 7 2 9 2 11 2 14 2 19 2 17 2 15 2 15 2 0 2-6 2-2 2 4 4 11 5 6 4 10 5 4 4 8 4 16 5 9 4 2 5-6 4-17 4-6 5 11 4 23 5 15 4-2 4-9 5-5 4 6 5 11 4 2 4-10 5-9 4-5 5-7 4-5 4 5 5 15 4 14 5 6 4-2 4-3 5 2 4 2 5 0 4-2 4 0 5-7 4-13 5-10 4 0 4 1 5 3 4 9 5 4 4 5 4 16 5 14 4 8 5 4 4 5 4 5 5-5 4-14 5-14 4-9 4 2 5 3 4 1 5 1 4 5 4 4 5 3 4 2 5-6 4-10 4-1 5 5 4 2 5-3 4 3 4 12 5 6 4-2 5-6 4-4 4 0 5 6 4 8 5 2 4-4 4-3 5-4 4-10 5-6 4-1 4 3 5 1 4 5 5 15 4 9 4-5 5-16 4-2 5 9 4 12 4 4 5 0 4 6 5 9 4 1 4-11 5-14 4-5 5 1 4 0 4 1 5 3 4 0 5-5 4-3 4-4 5-3 4 5 5 17 4 19 4 7 4-5M157 636l2 7 2 9 2 7 2 3 2 5 2 17 2 23 2 22 2 12 2 5 2-4 2 0 2 0 2 7 4 14 5 18 4 21 5 1 4-7 4-2 5-3 4-5 5 2 4 23 4 22 5-4 4-26 5-20 4-2 4 9 5 16 4 19 5 14 4 6 4-1 5-7 4-9 5-12 4-11 4-3 5 9 4 23 5 16 4 0 4-8 5-1 4 1 5-2 4-3 4 2 5 8 4 7 5 2 4 5 4 2 5-9 4-20 5-6 4 11 4 7 5-1 4 5 5 12 4 8 4 1 5 0 4-3 5-10 4-14 4-11 5-6 4 0 5 1 4 5 4 7 5 5 4-2 5-3 4 0 4 6 5 10 4 8 5 0 4-6 4-3 5 4 4 6 5 5 4 3 4 2 5 1 4-2 5 0 4 0 4-2 5-9 4-10 5-5 4 0 4 2 5 8 4 16 5 6 4-3 4-1 5 4 4 3 5-3 4 0 4 4 5-1 4-4 5-6 4-3 4 4 5 9 4 4 5-5 4-9 4 1 5 3 4-8 5-9 4-1 4 13 5 20 4 11 5-3 4-7 4-3 4-11M157 629l2 7 2 11 2 9 2 14 2 16 2 19 2 20 2 28 2 3 2-11 2-1 2 5 2 5 2 2 4 9 5 13 4 14 5 5 4 6 4 4 5-3 4-4 5 4 4 6 4 7 5 10 4 2 5-12 4-13 4-8 5-2 4 4 5 8 4 3 4-4 5-4 4 4 5 11 4 9 4-6 5-9 4-1 5 6 4 9 4 9 5 6 4-3 5-12 4 0 4 15 5 5 4-7 5-8 4 10 4 13 5 1 4-8 5-10 4-1 4 7 5 6 4-5 5-5 4 5 4 4 5-10 4-6 5 11 4 24 4 11 5-10 4-16 5-8 4 6 4 12 5 1 4 1 5 7 4 10 4-3 5-11 4-5 5 3 4 0 4-6 5-7 4 0 5 7 4 5 4 1 5 3 4 6 5 4 4 3 4 4 5 2 4-7 5-16 4-10 4 2 5 12 4 11 5 1 4-6 4-8 5 1 4 11 5 1 4-15 4-14 5 1 4 0 5 7 4 6 4-1 5-5 4-5 5 0 4 5 4 16 5 13 4 0 5-10 4-3 4 5 5 4 4 0 5 1 4 7 4 3 4-2M157 642l2 6 2 1 2 5 2 7 2 11 2 19 2 24 2 32 2 25 2 6 2-2 2-12 2-8 2 0 4 5 5 13 4 22 5 18 4 11 4-5 5-15 4-14 5 2 4 9 4-1 5-3 4 8 5 14 4 5 4-10 5-17 4-1 5 4 4 5 4 11 5 13 4 9 5-4 4-10 4-2 5 11 4 3 5-10 4-3 4 8 5 2 4-5 5-6 4 2 4 8 5 17 4 23 5 6 4-8 4-2 5 11 4 6 5-5 4-15 4-12 5-7 4-4 5 3 4 7 4 5 5 0 4-2 5-10 4-8 4 5 5 13 4 9 5 8 4 15 4 10 5 0 4-15 5-11 4-1 4 11 5 8 4-12 5-15 4 2 4 14 5 5 4-10 5-10 4-5 4-3 5-2 4 1 5 7 4 13 4 5 5-6 4-8 5 4 4 9 4 3 5-1 4 1 5-2 4-2 4-2 5-6 4-6 5 0 4 3 4 5 5 5 4 2 5-6 4-8 4-3 5 5 4 14 5 10 4 4 4 0 5-1 4-4 5-4 4-3 4-5 5-6 4 1 5 15 4 10 4-5 4-15M157 627l2 7 2 8 2 7 2 3 2 5 2 13 2 26 2 28 2 22 2 18 2 5 2-6 2-7 2-3 4-1 5 8 4 21 5 13 4 4 4-3 5-9 4-10 5-3 4 11 4 20 5 8 4-9 5-6 4 0 4-4 5-2 4 8 5 15 4 5 4 2 5 3 4-3 5-19 4-9 4 5 5 15 4 9 5-2 4 6 4 13 5 9 4-4 5-6 4 1 4 7 5 12 4 3 5-1 4 4 4 7 5 8 4 0 5-7 4-10 4-9 5-4 4-4 5-5 4-4 4 0 5 3 4-2 5-1 4 8 4 14 5 8 4 0 5 3 4 5 4 3 5-7 4-8 5-4 4 1 4 8 5 9 4 3 5-6 4-7 4-4 5 0 4-2 5 1 4-5 4-7 5 1 4 16 5 20 4 8 4-9 5-14 4-10 5 3 4 5 4-6 5-9 4 0 5 9 4 5 4-3 5-2 4 5 5 8 4 2 4-1 5-2 4-10 5-9 4-2 4 1 5 2 4 4 5 6 4 4 4-3 5 1 4 8 5 11 4 16 4 15 5 5 4-7 5-15 4-8 4 8 4 17M157 619l2 9 2 10 2 4 2 7 2 8 2 12 2 17 2 17 2 20 2 20 2 6 2-1 2 2 2 4 4 1 5 4 4 16 5 7 4-6 4-3 5 8 4 23 5 7 4 0 4 4 5 13 4 8 5-1 4-5 4-5 5 0 4 6 5 2 4 2 4 4 5 2 4-2 5-7 4-1 4 8 5 9 4 4 5-4 4-9 4-14 5-17 4-5 5 3 4 8 4 1 5-4 4 3 5 6 4 7 4 12 5 11 4 3 5-6 4 1 4 6 5 5 4-3 5-8 4-7 4 4 5 12 4 6 5-4 4-2 4 1 5-1 4-4 5 4 4 9 4 5 5-9 4-20 5-9 4 0 4 3 5 19 4 17 5 5 4-1 4 1 5 0 4-3 5-4 4-3 4 1 5 2 4 1 5 3 4 1 4-10 5-16 4-4 5 8 4 15 4 11 5 3 4 1 5 0 4 1 4 0 5 0 4 1 5 6 4 11 4 10 5 3 4-3 5-7 4-12 4-16 5-10 4 10 5 8 4-4 4-12 5-2 4 3 5-1 4 2 4 15 5 8 4-6 5-14 4 0 4 15 4 8M157 627l2 1 2 6 2 5 2 10 2 8 2 19 2 30 2 17 2 5 2 11 2 7 2 1 2 2 2 9 4 20 5 16 4 15 5-7 4-10 4-2 5 1 4-1 5-4 4-1 4 8 5 8 4 0 5-3 4 2 4 6 5 0 4-8 5-3 4 4 4 9 5 9 4 8 5 6 4 9 4 11 5 7 4-2 5-6 4-11 4-9 5 6 4 15 5 11 4-4 4-8 5-2 4-5 5-3 4 1 4 4 5 2 4-6 5-5 4 1 4 2 5-6 4-10 5-4 4 6 4 15 5 15 4 5 5-2 4-5 4-4 5 4 4 5 5-8 4-12 4-2 5 8 4 9 5-3 4-11 4-5 5 1 4 4 5 7 4 8 4 7 5-1 4-5 5 0 4 6 4 4 5 0 4 0 5 7 4 6 4 5 5-6 4-11 5-5 4 4 4-1 5-1 4 10 5 16 4 8 4-9 5-9 4-4 5-2 4-4 4-4 5 6 4 13 5 13 4 4 4-9 5-8 4 10 5 16 4-3 4-16 5-9 4 0 5-2 4 2 4 11 5 9 4-4 5-9 4-2 4 4 4 1M157 642l2 6 2 5 2 4 2 5 2 8 2 16 2 19 2 22 2 24 2 11 2 2 2 0 2-1 2-2 4-2 5 10 4 24 5 13 4 11 4 13 5 10 4 0 5-5 4-7 4-11 5-11 4 1 5 17 4 17 4 4 5-7 4 4 5 12 4 1 4-13 5-9 4-1 5-1 4-3 4-6 5 0 4 5 5 2 4-6 4-8 5-3 4-1 5 0 4 2 4 4 5 6 4 0 5-3 4-1 4 3 5 7 4 9 5 5 4-3 4-10 5-8 4-3 5 1 4 4 4 4 5 6 4 14 5 12 4 3 4-4 5-5 4-5 5-3 4-3 4-1 5-5 4 0 5 4 4 8 4 13 5 5 4-1 5-7 4-3 4 9 5 7 4-3 5-12 4-3 4 5 5 3 4-5 5-2 4 7 4 5 5 6 4 13 5 21 4 6 4-6 5-16 4-17 5-20 4-4 4 7 5 15 4 8 5 8 4 9 4-2 5-11 4-6 5 4 4 10 4 8 5 4 4 0 5-7 4-7 4 0 5-3 4-11 5-5 4 14 4 19 5-3 4-24 5-16 4 1 4 13 4 17M157 621l2 7 2 8 2 17 2 15 2 8 2-1 2 13 2 42 2 42 2 6 2-2 2-13 2-2 2 6 4 12 5 15 4 22 5 10 4-8 4-15 5-11 4 4 5 10 4 4 4 4 5 12 4 7 5-11 4-14 4-2 5 8 4 3 5 1 4 4 4 3 5-3 4 1 5 17 4 20 4-1 5-22 4-20 5-7 4 4 4 9 5 9 4 7 5 7 4 3 4-3 5-6 4-7 5 2 4 6 4 3 5 1 4 0 5-1 4 1 4 11 5 15 4-1 5-19 4-18 4-4 5 3 4 6 5 3 4-1 4 5 5 13 4 12 5 2 4-5 4-1 5 0 4-1 5-7 4-6 4 4 5 12 4 8 5-2 4 0 4 6 5 8 4-3 5-13 4-14 4-6 5 6 4 8 5-5 4-10 4-3 5 5 4 11 5 11 4 4 4 1 5 7 4 12 5 9 4 4 4 3 5-2 4-15 5-15 4-5 4 1 5 6 4 3 5-6 4-13 4-3 5 9 4 6 5-9 4-9 4 2 5 8 4 10 5 6 4 12 4 8 5-12 4-22 5-10 4 4 4 11 4 9M157 621l2 10 2 10 2 8 2 8 2 6 2 11 2 30 2 35 2 13 2-8 2-1 2 4 2 8 2 7 4 17 5 15 4 11 5-4 4-4 4 9 5 17 4 9 5-14 4-28 4-12 5 5 4 14 5 18 4 14 4 3 5-11 4-22 5-13 4 2 4 12 5 12 4 3 5 2 4 6 4 6 5-1 4-2 5 14 4 22 4 17 5 1 4-10 5-12 4-10 4-6 5-2 4 1 5 9 4 19 4 9 5-1 4-7 5-10 4-12 4-15 5-3 4 2 5 3 4 2 4-3 5 0 4 5 5 4 4 5 4-3 5-11 4-7 5 1 4 14 4 21 5 3 4-4 5-2 4 4 4 4 5 0 4-3 5 2 4 3 4 0 5-9 4-16 5-3 4 6 4 16 5 7 4-12 5-10 4 2 4 16 5 17 4 4 5-6 4-4 4 2 5 5 4 6 5 0 4-5 4-6 5 3 4 8 5 3 4-4 4-7 5-5 4-1 5 9 4 11 4-1 5-11 4 0 5 13 4 7 4-7 5-4 4 11 5 15 4 0 4-12 5-7 4 0 5-3 4-10 4-9 4 5M157 627l2 15 2 11 2 7 2 9 2 16 2 12 2 5 2 10 2 23 2 17 2 2 2-4 2-3 2 0 4 7 5 24 4 29 5 4 4-12 4-15 5-8 4-4 5 1 4 1 4 7 5 21 4 19 5 11 4 6 4-5 5-11 4-5 5 3 4 7 4 2 5-11 4-15 5 0 4 6 4 9 5 11 4 6 5 0 4-10 4-8 5 0 4 5 5 9 4 10 4-1 5-11 4-10 5 3 4 21 4 22 5 10 4-1 5 2 4 5 4-6 5-15 4-10 5-1 4 7 4 7 5 1 4-3 5-6 4-3 4 0 5 4 4 5 5 4 4 11 4 10 5-8 4-15 5-5 4 8 4 7 5-1 4-1 5-3 4-2 4 0 5 2 4-1 5 0 4 6 4 5 5-7 4-12 5-1 4 9 4 7 5 4 4 3 5-4 4-2 4 6 5 12 4 3 5-13 4-12 4-5 5 11 4 11 5 10 4 4 4-5 5-11 4-13 5-12 4 0 4 8 5 12 4 4 5-1 4 0 4 1 5-6 4-7 5 5 4 13 4 9 5 1 4 0 5 2 4-3 4-2 4 3M157 642l2 6 2 0 2-3 2 5 2 11 2 22 2 27 2 27 2 18 2 6 2-2 2-3 2-1 2 2 4 3 5 5 4 14 5 8 4 14 4 8 5-9 4-22 5-4 4 19 4 33 5 13 4-11 5-14 4-7 4-5 5-2 4-2 5-1 4 3 4 10 5 17 4 12 5 1 4-2 4-6 5-11 4-6 5 0 4 7 4 13 5 7 4 1 5-8 4-8 4 1 5 3 4 5 5 8 4 10 4 3 5-7 4-10 5-7 4 3 4 4 5 7 4 18 5 21 4 1 4-17 5-14 4-5 5-10 4-7 4-1 5 1 4 0 5 1 4 2 4 2 5 4 4 4 5 4 4-3 4-4 5 5 4 11 5 5 4-10 4-8 5 4 4 12 5 10 4 3 4 0 5 4 4 8 5 2 4-10 4-7 5 1 4 4 5 2 4 5 4 11 5 10 4 5 5-3 4-18 4-14 5-1 4 7 5 8 4 1 4-4 5-6 4-5 5 6 4 9 4-1 5-8 4 1 5 10 4 13 4 6 5 0 4-5 5-8 4-4 4 1 5 0 4 1 5-4 4-5 4 1 4 10M157 637l2 5 2 6 2 9 2 13 2 16 2 10 2 15 2 20 2 13 2 6 2 5 2 4 2 0 2 0 4 1 5 10 4 27 5 14 4-5 4-16 5-11 4-2 5 9 4 25 4 19 5 0 4-6 5 3 4 9 4-1 5-11 4-3 5 9 4 11 4-1 5-12 4-10 5-2 4 4 4 4 5-3 4 1 5 10 4 4 4 0 5-2 4-8 5-5 4 0 4 10 5 12 4 5 5 6 4 9 4 7 5-5 4-8 5 3 4 2 4-8 5-16 4-6 5 4 4-1 4-3 5 0 4 0 5-4 4-1 4 11 5 21 4 6 5-11 4-14 4-3 5 5 4 2 5 3 4 12 4 12 5 5 4-1 5 1 4 4 4 2 5-1 4-4 5-3 4 2 4 5 5 5 4 5 5 2 4-6 4-11 5-7 4 1 5 0 4 1 4 6 5 8 4 7 5 10 4 13 4 0 5-1 4-15 5-7 4-4 4-8 5-13 4-2 5 12 4 9 4 8 5 9 4 0 5-16 4-20 4 0 5 17 4 12 5 6 4 0 4-9 5-12 4-2 5 18 4 19 4-1 4-11M157 642l2-4 2 2 2 7 2 8 2 11 2 22 2 30 2 34 2 20 2 5 2-9 2-6 2 2 2 6 4 4 5 2 4 12 5 16 4 14 4 6 5 8 4 4 5-6 4-8 4-4 5 2 4 3 5 0 4-3 4-3 5 1 4 4 5 2 4-6 4-7 5 4 4 9 5 3 4-4 4-2 5 3 4-3 5-8 4-4 4-1 5 0 4 0 5 7 4 13 4 13 5 3 4 2 5 4 4 4 4 5 5 1 4-1 5-4 4-12 4-16 5-7 4-1 5 1 4-1 4 1 5 3 4 14 5 17 4 4 4 2 5 3 4 0 5-9 4-7 4-2 5-6 4-6 5 0 4 5 4 12 5 10 4 5 5-4 4-8 4-1 5 2 4 1 5 5 4 5 4 5 5 6 4 7 5 2 4-5 4-5 5-1 4-4 5-5 4-2 4 2 5 4 4 7 5 4 4 2 4 3 5 2 4-9 5-20 4-10 4 0 5 10 4 9 5 8 4 5 4-2 5-7 4-1 5 7 4 9 4 2 5-3 4-5 5-8 4-5 4-3 5 4 4 12 5 9 4 4 4 0 4 0M157 642l2 6 2 5 2 7 2 10 2 16 2 15 2 13 2 16 2 14 2 7 2-3 2-4 2 2 2 10 4 17 5 18 4 11 5-3 4-4 4 10 5 9 4 7 5 11 4-4 4-14 5-9 4 7 5 8 4-1 4-9 5-12 4 0 5 13 4 14 4-2 5-15 4-5 5 16 4 24 4 11 5-9 4-17 5-10 4 7 4 14 5 5 4-6 5-11 4-6 4 0 5 2 4 2 5 6 4 13 4 13 5 1 4-14 5-20 4-7 4 0 5 3 4-1 5 0 4 1 4 2 5 9 4 19 5 13 4 1 4-2 5 5 4 6 5-1 4-10 4-9 5 5 4 11 5 9 4-1 4 1 5 3 4-3 5-7 4 0 4 6 5 6 4 1 5-7 4-9 4-8 5 6 4 7 5 0 4 0 4 3 5 3 4-1 5-7 4-10 4-3 5 2 4 4 5 3 4-1 4-1 5 2 4 5 5-2 4-7 4-2 5 1 4 5 5 9 4 5 4 2 5 4 4 9 5 3 4-10 4-11 5-1 4 14 5 11 4-3 4-10 5-4 4-2 5-3 4 3 4 6 4 1M157 635l2 1 2 4 2 4 2 6 2 7 2 12 2 20 2 25 2 19 2 14 2 14 2 11 2-2 2-12 4-7 5 10 4 31 5 19 4 9 4-2 5-13 4-12 5-3 4 3 4 10 5 6 4-7 5-9 4 1 4 10 5 11 4 9 5 14 4 15 4 6 5 3 4 3 5-5 4-10 4-2 5 1 4-12 5-20 4-11 4 3 5 20 4 22 5 7 4-10 4-9 5 2 4 9 5 1 4-8 4-15 5-4 4 8 5 15 4 7 4-1 5-10 4-7 5 6 4 12 4 11 5 5 4 0 5-3 4-2 4 5 5 9 4 2 5-3 4-1 4 0 5-9 4-9 5 4 4 18 4 15 5-4 4-11 5-10 4-8 4-4 5 1 4 7 5 8 4 7 4-3 5-12 4-10 5 2 4 7 4-6 5-11 4-3 5 4 4 11 4 8 5 1 4-1 5 8 4 17 4 13 5-7 4-14 5-2 4 9 4 5 5-9 4-18 5-10 4 3 4 12 5 4 4-6 5-3 4 2 4-1 5-5 4 2 5 9 4 10 4 8 5 9 4 0 5-12 4-11 4-1 4 4M157 642l2 6 2 5 2 7 2 6 2 9 2 15 2 24 2 25 2 17 2 4 2-3 2-1 2 1 2 2 4 6 5 15 4 18 5-8 4-12 4 2 5 24 4 29 5 12 4-12 4-22 5-20 4-1 5 9 4 16 4 8 5 1 4 1 5 1 4 6 4 6 5 4 4-5 5-10 4-9 4 3 5 14 4 13 5 5 4-8 4-19 5-17 4-4 5 4 4 9 4 7 5 2 4-3 5 1 4 7 4 1 5-7 4 0 5 15 4 16 4-1 5-14 4-3 5 17 4 9 4-12 5-15 4 3 5 12 4 1 4-7 5 0 4 7 5 10 4 11 4 5 5-4 4-10 5-11 4-2 4 7 5 8 4 5 5 5 4 11 4 6 5-4 4-16 5-12 4 8 4 19 5 15 4-8 5-22 4-15 4 6 5 19 4 13 5-6 4-7 4-4 5-4 4-6 5-3 4 4 4 4 5-10 4-10 5-4 4 4 4 13 5 14 4 3 5-5 4-3 4 4 5 8 4 5 5 1 4-1 4 1 5-1 4-7 5-5 4 2 4 3 5-5 4-7 5 0 4 1 4 2 4 6M157 627l2 13 2 7 2 8 2 10 2 9 2 9 2 21 2 37 2 29 2 2 2-8 2-12 2-9 2 1 4 11 5 27 4 27 5 3 4-14 4-19 5-7 4 4 5 17 4 17 4 3 5-1 4 6 5 8 4-4 4-8 5-5 4 8 5 2 4 1 4 5 5 0 4-8 5-8 4-1 4 0 5-2 4 5 5 14 4 11 4 2 5 3 4 0 5-3 4-5 4 2 5 7 4 2 5-9 4-6 4 8 5 13 4 6 5-1 4 3 4 6 5-1 4-11 5-16 4-6 4 9 5 20 4 15 5 4 4-6 4-6 5-4 4-4 5-6 4-2 4 11 5 8 4-5 5-13 4-4 4 6 5 12 4 10 5 11 4 4 4-9 5-7 4-1 5 1 4-7 4-11 5-3 4 3 5 1 4 1 4 9 5 16 4 11 5-5 4-10 4-8 5-2 4 7 5 13 4 13 4-10 5-21 4-10 5 9 4 12 4 6 5 2 4 6 5 2 4-7 4-7 5-2 4 1 5-1 4 0 4 0 5-6 4-14 5-5 4 7 4 14 5 4 4-12 5-8 4 0 4 4 4 14M157 630l2 10 2 7 2 8 2 12 2 18 2 17 2 10 2 15 2 29 2 21 2-1 2-2 2-8 2-5 4 1 5 10 4 19 5 6 4 10 4 12 5 5 4-9 5-17 4-9 4 2 5 7 4 4 5 4 4-3 4-12 5-7 4-1 5 8 4 19 4 12 5-6 4-15 5-5 4 5 4 14 5 22 4 15 5-6 4-23 4-14 5 7 4 15 5 6 4 0 4 0 5 2 4 0 5 3 4 10 4 19 5 11 4-13 5-20 4-7 4 5 5 2 4-5 5-2 4 6 4 4 5 0 4-10 5-8 4 2 4 14 5 15 4 6 5-1 4-6 4-2 5-1 4-4 5 5 4 6 4 4 5-3 4-4 5 0 4-2 4-3 5-3 4-3 5-4 4 0 4 10 5 15 4 4 5-6 4 0 4 7 5 1 4-7 5-4 4 5 4 4 5-1 4-7 5-8 4 0 4 9 5 6 4-3 5-11 4-2 4 5 5 11 4 7 5-1 4-7 4-6 5-1 4-1 5 1 4 11 4 13 5 5 4-6 5-8 4-2 4 7 5 11 4 0 5-13 4-14 4 4 4 11M157 622l2 9 2 8 2 9 2 10 2 12 2 12 2 11 2 15 2 20 2 19 2 6 2-5 2-5 2-1 4 3 5 23 4 31 5 17 4 9 4-3 5-14 4-16 5-5 4 8 4 24 5 23 4 5 5-20 4-21 4-6 5 0 4 0 5 0 4 3 4 2 5-3 4-1 5 1 4 3 4 2 5-1 4 0 5 6 4 14 4 8 5-12 4-8 5 1 4 4 4-2 5-4 4 2 5 6 4 5 4 4 5 5 4 12 5 11 4-2 4-11 5-3 4 13 5 10 4-7 4-11 5 3 4 11 5 11 4 2 4-15 5-20 4-5 5 12 4 17 4 2 5-8 4-13 5-5 4 8 4 18 5 11 4 4 5-4 4-9 4-19 5-8 4 1 5 7 4 12 4 8 5-7 4-11 5-5 4 6 4 18 5 15 4 5 5-6 4-8 4-3 5 7 4 13 5 7 4-7 4-9 5 1 4 12 5 10 4-5 4-13 5-10 4-6 5-1 4 3 4 5 5-3 4-14 5-11 4 0 4 1 5 5 4 16 5 9 4-12 4-10 5 0 4 7 5 14 4 16 4 12 4 6M157 632l2 8 2 3 2 3 2 7 2 8 2 11 2 19 2 32 2 32 2 10 2-4 2-10 2-2 2 0 4 5 5 20 4 28 5 16 4 4 4-11 5-17 4-2 5 17 4 20 4 11 5-6 4-14 5-16 4-7 4-2 5-2 4 0 5 2 4 4 4 12 5 15 4 6 5-6 4-8 4 2 5 9 4 2 5-6 4-7 4 1 5 14 4 15 5 7 4-2 4-7 5-10 4-10 5-4 4 4 4 11 5 11 4 6 5-2 4-1 4 11 5 13 4 1 5-14 4-11 4-8 5-5 4-5 5-1 4 8 4 16 5 6 4-6 5-12 4 0 4 15 5 14 4 10 5 1 4-12 4-14 5-4 4 3 5 3 4-2 4 4 5 6 4 4 5 5 4 2 4-2 5 1 4 3 5-1 4-5 4-1 5 3 4-5 5-12 4-3 4 5 5 13 4 10 5 7 4-1 4-7 5-6 4 1 5 11 4 12 4 3 5-4 4 0 5 1 4-7 4-12 5-8 4-2 5-4 4-4 4-1 5 0 4-2 5-7 4-1 4 5 5 9 4 10 5 2 4 1 4 8 4 10M157 628l2 16 2 9 2 6 2 7 2 14 2 20 2 25 2 24 2 9 2-3 2-3 2 4 2 7 2 5 4 4 5 9 4 24 5 6 4-6 4-1 5 5 4 1 5-11 4-6 4 7 5 9 4 5 5 3 4 6 4 7 5 5 4-2 5-10 4-17 4-8 5 5 4 8 5 1 4-6 4 2 5 11 4 6 5-5 4-8 4 2 5 9 4 11 5 5 4-1 4 2 5 11 4 13 5-1 4-17 4-18 5-2 4 15 5 15 4 0 4-13 5-12 4-1 5 8 4 13 4 12 5 7 4-2 5-5 4 2 4 7 5 1 4-3 5-1 4 1 4-4 5-6 4-3 5 4 4 11 4 15 5 10 4-1 5-11 4-7 4-2 5 2 4-4 5-1 4 4 4 0 5-14 4-13 5 0 4 8 4 13 5 11 4 10 5 5 4-5 4-4 5-3 4-3 5 0 4-1 4-4 5-2 4 2 5 5 4 0 4-7 5-10 4-3 5 5 4 10 4-1 5-7 4 4 5 14 4 9 4 0 5-3 4-4 5-2 4 3 4 8 5 5 4-4 5-11 4-15 4-6 4 3M157 621l2 9 2 11 2 13 2 15 2 16 2 13 2 14 2 15 2 9 2 6 2 4 2 3 2 1 2 0 4 3 5 12 4 26 5 15 4 2 4-4 5-4 4 2 5 2 4 5 4 7 5 8 4 4 5-3 4 3 4 13 5 2 4-14 5-21 4-12 4 1 5 13 4 18 5 8 4 3 4 4 5-2 4-6 5-5 4 8 4 10 5-4 4-17 5-14 4 2 4 16 5 14 4 2 5-3 4 2 4 5 5-2 4-6 5-3 4-3 4-1 5 3 4 10 5 10 4 2 4-5 5-8 4-9 5-9 4-3 4 7 5 19 4 10 5-4 4-3 4 3 5 2 4-4 5 0 4 9 4 7 5 0 4-3 5-4 4-8 4-3 5 4 4 9 5 5 4 0 4-2 5-13 4-12 5-4 4 1 4 2 5 12 4 22 5 14 4 0 4-10 5-8 4-4 5 9 4 17 4 10 5-1 4-7 5-7 4-2 4-2 5-3 4-4 5 0 4 0 4-6 5-3 4 3 5 1 4-3 4 4 5 5 4-8 5-14 4-4 4 7 5 11 4 6 5 1 4-3 4-10 4-11M157 642l2 6 2 5 2 0 2 1 2 6 2 12 2 13 2 17 2 25 2 21 2 9 2 6 2 5 2 2 4-1 5 4 4 22 5 13 4-4 4-20 5-5 4 19 5 30 4 11 4-12 5-14 4-13 5-11 4-6 4 3 5 19 4 19 5 4 4-8 4-16 5-8 4 3 5 12 4 16 4 4 5 3 4 9 5 15 4 15 4-4 5-17 4-13 5 1 4 9 4 13 5 8 4-2 5-4 4 2 4 1 5-8 4-5 5 9 4 7 4-8 5-7 4 0 5 0 4-6 4-8 5 1 4 3 5 3 4 0 4-1 5-2 4-2 5 0 4 5 4 11 5 5 4-4 5-13 4-9 4-1 5 6 4 6 5 1 4-1 4 2 5 4 4 6 5 9 4 5 4 2 5 1 4-1 5-7 4-15 4-7 5 8 4 20 5 8 4-7 4-11 5-8 4-8 5-4 4 0 4 5 5 15 4 16 5 8 4-2 4-6 5-3 4 0 5 1 4 0 4-3 5 4 4 9 5 7 4-2 4-6 5-6 4-8 5-5 4 2 4 9 5 8 4 6 5-3 4-9 4-3 4 12M157 638l2 5 2 2 2 7 2 16 2 18 2 19 2 20 2 28 2 19 2-3 2-8 2-3 2 7 2 7 4 8 5 10 4-3 5-5 4-3 4 0 5-3 4-4 5 4 4 17 4 19 5 4 4 1 5 4 4 1 4-1 5 6 4 6 5-5 4-9 4-6 5-1 4-1 5-1 4 4 4 13 5 9 4 1 5 0 4-4 4-4 5-3 4 0 5 4 4 4 4-2 5-9 4-1 5 10 4 10 4-9 5-3 4 14 5 13 4 3 4-1 5 4 4 2 5-6 4-7 4 1 5 12 4 14 5-1 4-19 4-21 5-1 4 17 5 8 4-2 4 1 5 4 4 2 5 1 4 8 4 7 5-3 4-5 5 0 4-1 4-3 5-4 4-1 5 1 4 5 4 8 5 1 4-2 5 1 4 8 4 12 5 4 4-6 5-1 4 7 4 7 5-6 4-16 5-12 4-6 4 3 5 7 4 9 5 6 4-4 4-6 5-6 4-3 5 2 4 3 4 3 5 4 4 6 5 1 4-6 4-4 5 4 4 1 5-4 4 0 4 3 5-1 4-3 5 2 4-5 4-15 4-9M157 621l2 9 2 4 2 5 2 14 2 14 2 8 2 17 2 36 2 27 2 5 2 2 2 8 2 2 2-2 4-7 5 1 4 17 5 11 4 10 4 9 5 6 4 2 5 2 4 5 4-1 5-9 4-8 5-2 4 10 4 12 5 8 4 4 5-1 4-4 4-5 5-1 4-3 5-14 4-12 4-2 5 5 4 6 5 6 4 14 4 12 5 1 4-8 5-5 4 9 4 9 5 4 4-3 5-6 4-5 4-3 5-7 4-8 5-3 4 2 4 13 5 27 4 28 5 3 4-9 4-17 5-9 4-3 5-1 4-1 4-2 5-5 4-6 5-3 4 5 4 10 5 9 4 2 5-2 4 0 4-1 5-1 4-4 5-5 4-2 4 3 5 8 4 12 5 8 4 4 4 9 5 10 4-2 5-16 4-20 4-6 5 12 4 18 5 11 4 5 4 1 5-10 4-20 5-16 4 5 4 16 5 3 4-8 5-5 4 7 4 8 5-2 4-14 5-11 4 1 4 9 5 14 4 10 5 7 4-4 4-17 5-10 4 9 5 17 4 5 4-6 5-4 4-1 5 4 4 10 4 9 4 2M157 628l2 16 2 9 2 7 2 10 2 16 2 19 2 20 2 15 2 16 2 11 2 4 2 2 2-4 2-10 4-8 5 12 4 35 5 21 4 2 4-14 5-18 4-2 5 13 4 13 4 0 5-7 4 2 5 7 4 8 4 4 5-2 4 0 5 6 4 6 4 0 5-4 4-6 5-10 4-1 4 20 5 32 4 7 5-8 4-24 4-23 5-15 4-1 5 17 4 23 4 3 5-12 4-10 5-5 4-3 4 2 5 15 4 17 5 0 4-11 4-4 5 2 4 4 5-1 4-3 4-2 5 1 4 5 5-1 4-2 4 4 5 6 4-8 5-12 4 0 4 12 5 22 4 8 5-3 4-3 4-1 5-5 4 3 5 10 4 10 4-2 5-6 4 4 5 8 4 3 4-6 5-12 4-13 5 3 4 15 4 10 5-9 4-16 5-7 4 5 4 8 5 2 4-2 5 0 4 3 4 4 5 1 4 1 5 2 4 4 4 3 5-3 4-8 5 1 4 6 4 1 5-7 4-5 5 4 4 5 4-2 5-8 4-2 5 4 4 0 4-5 5-1 4 7 5 11 4 2 4 3 4 5M157 641l2 7 2-6 2-3 2 10 2 8 2 12 2 40 2 40 2 23 2-7 2-15 2-6 2 0 2 6 4 12 5 16 4 16 5-4 4-5 4 0 5 1 4 5 5 8 4 7 4-2 5-8 4-1 5-2 4-7 4-5 5 1 4 1 5 7 4 13 4 14 5 7 4 0 5-1 4 4 4 5 5 5 4-2 5-1 4 6 4 12 5 11 4 5 5-3 4-11 4-11 5-11 4-6 5-1 4 6 4 0 5-9 4-7 5-1 4 1 4 3 5 15 4 22 5 1 4-8 4-4 5 0 4-5 5-3 4 10 4 11 5-2 4-7 5-3 4 3 4 5 5 4 4 5 5 2 4 5 4-2 5-12 4-9 5-5 4 1 4 3 5 2 4 3 5 6 4 7 4 0 5-3 4 4 5 12 4 14 4 10 5 4 4-3 5-8 4-1 4 2 5 2 4-1 5-4 4-5 4-9 5-10 4-3 5 6 4 12 4 10 5 5 4 3 5-4 4-10 4-10 5-7 4 2 5 3 4-1 4 0 5-2 4-7 5-7 4 3 4 21 5 26 4 19 5 1 4-9 4-10 4 2M157 626l2 2 2 6 2 6 2 14 2 17 2 23 2 22 2 18 2 11 2 6 2 0 2-2 2-1 2 1 4 0 5 4 4 17 5 18 4 19 4 3 5-11 4 0 5 11 4 4 4-1 5 3 4 6 5 1 4-1 4 1 5 2 4 0 5-7 4-16 4-8 5 9 4 22 5 6 4-8 4-5 5 4 4-4 5-11 4-3 4 6 5 11 4 6 5-7 4-1 4 9 5 14 4 7 5-2 4-3 4-3 5 0 4 4 5-3 4-8 4-8 5 1 4 10 5 8 4 7 4 6 5 5 4 1 5 2 4 8 4 7 5 4 4-2 5-7 4-5 4-6 5-4 4-8 5-7 4 0 4 10 5 10 4-9 5-18 4-2 4 1 5 1 4 11 5 20 4 13 4 5 5-1 4-7 5-11 4-12 4-1 5 7 4 12 5 16 4 10 4-11 5-16 4-9 5 3 4-1 4-4 5 3 4 16 5 13 4-6 4-12 5-7 4-1 5-3 4 1 4 10 5 5 4-9 5-12 4-4 4 1 5 7 4 9 5 3 4 1 4 1 5 3 4 4 5 4 4 6 4 0 4-9M157 641l2 7 2 5 2 7 2 10 2 16 2 19 2 20 2 28 2 16 2 1 2 1 2 2 2-1 2-2 4 5 5 10 4 15 5-1 4-11 4-7 5 0 4 6 5 13 4 18 4 18 5 11 4 5 5 1 4-7 4-11 5-3 4 5 5 7 4-2 4-7 5-8 4-8 5-3 4 0 4 4 5 11 4 11 5 9 4-1 4-4 5 0 4 2 5 3 4 1 4-3 5-5 4-5 5 0 4 5 4 5 5 4 4-1 5-4 4 1 4 9 5 10 4-1 5-10 4-9 4-10 5-5 4-2 5 7 4 19 4 18 5 4 4-12 5-12 4-10 4 1 5 15 4 14 5 6 4-6 4-4 5 3 4 6 5 5 4-2 4-7 5-10 4-15 5-10 4-1 4 3 5 14 4 15 5 5 4 2 4 6 5 10 4 5 5-4 4-10 4-15 5-15 4-3 5 5 4 1 4-4 5 0 4 13 5 19 4 12 4 0 5-13 4-10 5 1 4 10 4 4 5-9 4-10 5-2 4 2 4 3 5 12 4 18 5 16 4 3 4-8 5-23 4-23 5-7 4 6 4 12 4 8M157 633l2 5 2 2 2 1 2 8 2 10 2 20 2 17 2 16 2 18 2 17 2 7 2-1 2-5 2-5 4 0 5 12 4 21 5 11 4 4 4 1 5 5 4 11 5 0 4-16 4-4 5 7 4 8 5 3 4 1 4-5 5-6 4-2 5 4 4 7 4 7 5 4 4-1 5 1 4 6 4 5 5 3 4 5 5 7 4-2 4-13 5-9 4 6 5 16 4 7 4 0 5-3 4-2 5 0 4 3 4 5 5 3 4 2 5 13 4 18 4 1 5-16 4-23 5-13 4 7 4 13 5 6 4 6 5 8 4-1 4-12 5-9 4 2 5 10 4 15 4 8 5-5 4-12 5-12 4-13 4-7 5 0 4 12 5 18 4 11 4-3 5-11 4-8 5 7 4 9 4 5 5 6 4 8 5 3 4-7 4-11 5-4 4 1 5-1 4-11 4-10 5 0 4 15 5 13 4-2 4-8 5-9 4 0 5 6 4 11 4 3 5-3 4-2 5-2 4-7 4-2 5 10 4 15 5 3 4-10 4-5 5 2 4 3 5 0 4 2 4 9 5 3 4-7 5-7 4 5 4 21 4 19M157 633l2 5 2 7 2 8 2 7 2 4 2 13 2 29 2 30 2 18 2 4 2 0 2 1 2-1 2-4 4-2 5 10 4 18 5 7 4 11 4 16 5 14 4 0 5-6 4-3 4-2 5 0 4-6 5-11 4-3 4-1 5-2 4-1 5 4 4 6 4 3 5 5 4 12 5 14 4 15 4 0 5-12 4-8 5 2 4 10 4 11 5 6 4-2 5-6 4 1 4 9 5 12 4 3 5-12 4-11 4-2 5 0 4-8 5-16 4-2 4 7 5 13 4 6 5 5 4 0 4-7 5-11 4-2 5 7 4 10 4 7 5 9 4 4 5-7 4-5 4 3 5 6 4-3 5-11 4-10 4 0 5 6 4 4 5 3 4 8 4 1 5-6 4-4 5 12 4 17 4-2 5-20 4-19 5-4 4 2 4 2 5 4 4 11 5 17 4 7 4-4 5-7 4-6 5-1 4 0 4-2 5-6 4-1 5 12 4 15 4 4 5-8 4-6 5 4 4 8 4 3 5-3 4-3 5-4 4-12 4-12 5-2 4 5 5 10 4 4 4 0 5 4 4 10 5 7 4 2 4 2 4 2M157 637l2 8 2 7 2 6 2 10 2 12 2 7 2 5 2 17 2 25 2 19 2 1 2-7 2-3 2 0 4 0 5 8 4 18 5 7 4 0 4-1 5-4 4 0 5 12 4 36 4 30 5-1 4-17 5-11 4 0 4 5 5-3 4-5 5-6 4-5 4 1 5 1 4 0 5 1 4 4 4 2 5 7 4 13 5 14 4 6 4-5 5-8 4-7 5-15 4-6 4 8 5 24 4 22 5-2 4-15 4-5 5 6 4 9 5 4 4-3 4-9 5-12 4-5 5 9 4 10 4 0 5-14 4-9 5 9 4 11 4-4 5-5 4 11 5 5 4-7 4-7 5 1 4 2 5-3 4 4 4 14 5 14 4 5 5-11 4-16 4-5 5 7 4 10 5 2 4 1 4 4 5 0 4-6 5-5 4 5 4 5 5-8 4-8 5 8 4 15 4 8 5-1 4-11 5-14 4-4 4 9 5 5 4-7 5-4 4 3 4 8 5 4 4 2 5 1 4 0 4 1 5 1 4 4 5 9 4 4 4-7 5-7 4 3 5 7 4-2 4-8 5-11 4 0 5 12 4 13 4 2 4-9M157 639l2-2 2 0 2 8 2 13 2 22 2 25 2 20 2 28 2 9 2 2 2-1 2 0 2 1 2-1 4 0 5 11 4 24 5 12 4 2 4 3 5 3 4-9 5-17 4-5 4 9 5 10 4 1 5 2 4 1 4-2 5 0 4 8 5 5 4-12 4-15 5-6 4 2 5 3 4 3 4 4 5 2 4 4 5 11 4 17 4 5 5-6 4-6 5 5 4 7 4 2 5 0 4 1 5 1 4 5 4 6 5-1 4-3 5 0 4 1 4-2 5-8 4-7 5-7 4-8 4 1 5 1 4 11 5 14 4 3 4-5 5-3 4 6 5 13 4 6 4-5 5-9 4 3 5 6 4-6 4-5 5 7 4 12 5 0 4-8 4 1 5 5 4-7 5-9 4-4 4 3 5 5 4 12 5 12 4 9 4 5 5 3 4 0 5-8 4-12 4-4 5 9 4 16 5 10 4-7 4-14 5-9 4-7 5 5 4 12 4 11 5-3 4-8 5 3 4 14 4 4 5-11 4-7 5-3 4-4 4-2 5 4 4 7 5 5 4 0 4-2 5-3 4-4 5-3 4-2 4 4 4 9"/>
<path class="r" d="M157 633l1 6 1 4 1 4 1 3 1 4 1 4 1 5 1 6 1 8 1 9 1 10 1 10 1 10 1 10 1 11 1 11 1 10 1 10 1 8 1-1 1-6 1-6 1-4 1-1 1-1 1-1 1 0 1 0 1 2 1 2 1 2 1 3 1 3 1 3 1 5 1 5 1 5 1 6 1 5 1 4 1 6 1 5 1 3 1 2 1 0 1-1 1-2 1-1 1-1 1-2 1-1 1-1 1 0 1-1 1-1 1-1 1 0 1-1 1 0 1 0 1 1 1 0 1 1 1 1 1 1 1 1 1 1 1 1 1 1 1 1 1 1 1 1 1 1 1 0 1 0 1 0 1 0 1 0 1 0 1 0 3 0 3 0 3 1 3 0 3 1 3 2 3 1 3 1 3 2 3 1 3 0 3 1 3 1 3 1 3 1 3 1 3 1 3 1 3 0 3 1 3 1 3 1 3 1 3 0 3 1 3 1 3 1 3 0 3 1 3 1 3 1 3 0 3 1 3 1 3 0 3 1 3 0 3 1 3 1 3 0 3 1 3 0 3 1 3 0 3 1 3 0 3 1 3 0 3 1 3 0 3 1 3 0 3 1 3 0 3 1 3 0 3 1 3 0 3 1 3 0 3 1 3 0 3 1 3 0 3 0 3 1 3 0 3 1 3 0 3 0 3 1 3 0 3 0 3 1 3 0 3 0 3 1 3 0 3 0 3 1 3 0 3 1 3 0 3 0 3 1 3 0 3 1 3 0 3 1 3 0 3 0 3 1 3 0 3 1 3 0 3 1 3 0 3 1 3 0 3 0 3 1 3 0 3 1 3 0 3 1 3 0 3 0 3 1 3 0 3 1 3 0 3 0 3 1 3 0 3 1 3 0 3 0 3 1 3 0 3 0 3 1 3 0 3 0 3 1 3 0 3 0 3 1 3 0 3 0 3 1 3 0 3 0 3 1 3 0 3 0 3 0 3 1 3 0 3 0 3 1 3 0 3 0 3 1 3 0 3 0 3 0 3 1 3 0 3 0 3 0 3 1 3 0 3 0 3 0"/>
<path class="f" d="M78.5 280.5H349.5V500.5H78.5Z"/>
<path class="f" d="M132.5 500.5v-3M132.5 280.5v3M186.5 500.5v-3M186.5 280.5v3M240.5 500.5v-3M240.5 280.5v3M294.5 500.5v-3M294.5 280.5v3M78.5 312.5h3M349.5 312.5h-3M78.5 343.5h3M349.5 343.5h-3M78.5 374.5h3M349.5 374.5h-3M78.5 405.5h3M349.5 405.5h-3M78.5 437.5h3M349.5 437.5h-3M78.5 468.5h3M349.5 468.5h-3"/>
<text class="t" text-anchor="end" transform="translate(75.3 285.7) scale(0.845 1)">30</text>
<text class="t" text-anchor="end" transform="translate(75.3 317.7) scale(0.845 1)">40</text>
<text class="t" text-anchor="end" transform="translate(75.3 348.7) scale(0.845 1)">50</text>
<text class="t" text-anchor="end" transform="translate(75.3 379.7) scale(0.845 1)">60</text>
<text class="t" text-anchor="end" transform="translate(75.3 410.7) scale(0.845 1)">70</text>
<text class="t" text-anchor="end" transform="translate(75.3 442.7) scale(0.845 1)">80</text>
<text class="t" text-anchor="end" transform="translate(75.3 473.7) scale(0.845 1)">90</text>
<text class="t" text-anchor="end" transform="translate(75.3 505.7) scale(0.845 1)">100</text>
<text class="t" text-anchor="middle" transform="translate(77.5 514.9) scale(0.845 1)">0</text>
<text class="t" text-anchor="middle" transform="translate(131.5 514.9) scale(0.845 1)">1</text>
<text class="t" text-anchor="middle" transform="translate(185.5 514.9) scale(0.845 1)">2</text>
<text class="t" text-anchor="middle" transform="translate(239.5 514.9) scale(0.845 1)">3</text>
<text class="t" text-anchor="middle" transform="translate(293.5 514.9) scale(0.845 1)">4</text>
<text class="t" text-anchor="middle" transform="translate(348.5 514.9) scale(0.845 1)">5</text>
<text class="l" text-anchor="middle" x="212.9" y="528.7" textLength="63.6" lengthAdjust="spacingAndGlyphs">Range(km)</text>
<text class="l" text-anchor="middle" transform="translate(49.3 389.8) rotate(-90)" textLength="137.7" lengthAdjust="spacingAndGlyphs">Transmission loss(dB)</text>
<text class="a" transform="translate(135.5 330.6) scale(0.970 1)">zs=-100m</text>
<text class="s" x="12.5" y="532.8">(c)</text>
</g>
<g id="pd">
<path class="g" d="M483.5 279.5V498.5M538.5 279.5V498.5M592.5 279.5V498.5M646.5 279.5V498.5M430.5 310.5H700.5M430.5 342.5H700.5M430.5 373.5H700.5M430.5 404.5H700.5M430.5 435.5H700.5M430.5 466.5H700.5"/>
<path class="k" d="M861 657l2 2 2 0 2 0 2 0 2 3 2 9 2 29 2 28 2 20 2 11 2 4 2-2 2-5 2-3 4 6 5 13 4 20 5 9 4-9 4-4 5 0 4 2 5 1 4 8 4 10 5 5 4 2 5-2 4 0 4 0 5 4 4 11 5 12 4 2 4-4 5-2 4 0 5-2 4-3 4 3 5 8 4 5 5-1 4-6 4-5 5-4 4-2 5 3 4 3 4 0 5-1 4 5 5 2 4-4 4-3 5 8 4 13 5 12 4 0 4-10 5-5 4 1 5 1 4 0 4 2 5 2 4 0 5-2 4-1 4-7 5-4 4 4 5 10 4 10 4 7 5 2 4-4 5-7 4-3 4-6 5-1 4 4 5 6 4 1 4-5 5-5 4 8 5 9 4 5 4 1 5 3 4 6 5-3 4-10 4-10 5-8 4 0 5 6 4 11 4 4 5-7 4-16 5-8 4-3 4 1 5 10 4 20 5 10 4-3 4-7 5-8 4 3 5 11 4 9 4 2 5 3 4 2 5-5 4-8 4-11 5-5 4 3 5 12 4 11 4 3 5-2 4-2 5-4 4-7 4 1 2 10M861 648l2 3 2 2 2 4 2 4 2 9 2 6 2 18 2 30 2 26 2 13 2-1 2-5 2-2 2 0 4 4 5 10 4 18 5 13 4 2 4-3 5-5 4-2 5 9 4 16 4 10 5-2 4-3 5 5 4 8 4 2 5-2 4-3 5-6 4-9 4-14 5-7 4 1 5 7 4 15 4 4 5-10 4-7 5-2 4 1 4 1 5 3 4 17 5 14 4-2 4-9 5-5 4 0 5 5 4 6 4 1 5 5 4 9 5 8 4 0 4-5 5 2 4 9 5 5 4-4 4-7 5 2 4 10 5 6 4 0 4-10 5-11 4-5 5 10 4 11 4 5 5-1 4-4 5-6 4-12 4-9 5-1 4 4 5 10 4 11 4-2 5-14 4-4 5 9 4 13 4 1 5 0 4 2 5 0 4-5 4-9 5-4 4 3 5 11 4 2 4-10 5-3 4 8 5 10 4 0 4-2 5 2 4 4 5 0 4-7 4-4 5 9 4 5 5-4 4-10 4 0 5 12 4 6 5-3 4-10 4 0 5 8 4 2 5-2 4 5 4 12 5 11 4 1 5-9 4-14 4-18 2-4M861 650l2 3 2 4 2 1 2 4 2 14 2 22 2 23 2 13 2 13 2 9 2 2 2-3 2-4 2-2 4 4 5 13 4 19 5 8 4 2 4 0 5-5 4-7 5-3 4 4 4 9 5 2 4-2 5 3 4 11 4 8 5 1 4 1 5 3 4 2 4-1 5 4 4 10 5 12 4 6 4 1 5-4 4-4 5-1 4-1 4-5 5-4 4-7 5-7 4-5 4 0 5 8 4 11 5 7 4-2 4-2 5 8 4 6 5 2 4-1 4 1 5 6 4 0 5-10 4-16 4-7 5 4 4 17 5 15 4 8 4 0 5-10 4-16 5-8 4 2 4 4 5 4 4 16 5 17 4 11 4-7 5-14 4-11 5-2 4 3 4 5 5 8 4 12 5 10 4 1 4-7 5-9 4-7 5-11 4-11 4-2 5 10 4 15 5 6 4 0 4-1 5 3 4 2 5-1 4-3 4-1 5 4 4 4 5-2 4-5 4-5 5 5 4 12 5 12 4-1 4-14 5-11 4 3 5 8 4 4 4-4 5-2 4 1 5-1 4-3 4-3 5 5 4 5 5 2 4-3 4-2 2 0M861 657l2 0 2 0 2-1 2 1 2 2 2 4 2 18 2 29 2 24 2 19 2 5 2-1 2-3 2-2 4 4 5 14 4 20 5 13 4-2 4 2 5 7 4 4 5-1 4-8 4-14 5-2 4 2 5 2 4 2 4 2 5 3 4 5 5 2 4-2 4-3 5 0 4 6 5 7 4 1 4 0 5 8 4 10 5 5 4-1 4 0 5-1 4-2 5 0 4 3 4 1 5-1 4-9 5-4 4 3 4 7 5 6 4 4 5 5 4 8 4 5 5-3 4-4 5-2 4 2 4 0 5-6 4-8 5-1 4 9 4 12 5 2 4-2 5-2 4 3 4 5 5-1 4-6 5-9 4 4 4 10 5 5 4-3 5-7 4-2 4 8 5 9 4 3 5-6 4-5 4 2 5 0 4-9 5-2 4 13 4 8 5-1 4 0 5 1 4 4 4 2 5 1 4 1 5-3 4-5 4-2 5 3 4 6 5-1 4-7 4-8 5-7 4-3 5 5 4 13 4 4 5-9 4-12 5 4 4 18 4 4 5-13 4-12 5 2 4 17 4 11 5 4 4 0 5-1 4-3 4-4 2-6M861 654l2 3 2 1 2-1 2 1 2 1 2 4 2 21 2 28 2 14 2 21 2 6 2 1 2 2 2-1 4 1 5 8 4 13 5 14 4 9 4 6 5 0 4-8 5-10 4-2 4 5 5 11 4 12 5 7 4 0 4-5 5-9 4-6 5 1 4 7 4 8 5 2 4-6 5-4 4 4 4 8 5 4 4-1 5 4 4 5 4 1 5-4 4-2 5-4 4-1 4 5 5 10 4 4 5 2 4 0 4-1 5-10 4-5 5 7 4 18 4 16 5 6 4-1 5-13 4-22 4-15 5 1 4 10 5 20 4 11 4 2 5-2 4 0 5 4 4 9 4 2 5-5 4-6 5-3 4 3 4 4 5 2 4-4 5-5 4-10 4-9 5 1 4 9 5 10 4-1 4-5 5 6 4 5 5 2 4 0 4-2 5 0 4-1 5-10 4-7 4-1 5 2 4 7 5 13 4 14 4 4 5-11 4-10 5-2 4 6 4 6 5 5 4 1 5-6 4-13 4-11 5 0 4 10 5 13 4 5 4 1 5 3 4 7 5 4 4-2 4-4 5-3 4-3 5-2 4 0 4 2 2 0M861 648l2 4 2 3 2 1 2 3 2 7 2 8 2 24 2 33 2 24 2 10 2 2 2-2 2-4 2-2 4 4 5 9 4 11 5 4 4 1 4 11 5 9 4 4 5 0 4 0 4 1 5-2 4-1 5-1 4 6 4 9 5 9 4 4 5-3 4-8 4-3 5 0 4 0 5 1 4 10 4 11 5 0 4-11 5-6 4 2 4 4 5 6 4 9 5 12 4 2 4-6 5-13 4-10 5 0 4 4 4 1 5-3 4 2 5 4 4 1 4 5 5 1 4-3 5-7 4 2 4 14 5 11 4 8 5 2 4-6 4-8 5-9 4-9 5-3 4 5 4 9 5 1 4 2 5 13 4 11 4-4 5-10 4 0 5 5 4 0 4-4 5-4 4 3 5 5 4 4 4-6 5-18 4-2 5 13 4 11 4-1 5-8 4-1 5 0 4-3 4 4 5 11 4 6 5-6 4-9 4 3 5 8 4 5 5 1 4 1 4 4 5-1 4-7 5-11 4-7 4-1 5 6 4 12 5 5 4-4 4-11 5-1 4 10 5 9 4 3 4-2 5-4 4-9 5-2 4 6 4 7 2 3M861 648l2 3 2 4 2 1 2 1 2 2 2 4 2 34 2 38 2 19 2 9 2 0 2-5 2-3 2 1 4 5 5 8 4 15 5 15 4 7 4 5 5 5 4-1 5-4 4-1 4 2 5 3 4 2 5 2 4 2 4-2 5-2 4-5 5-8 4-2 4 5 5 8 4 4 5 7 4 11 4 10 5 0 4-9 5-2 4 8 4 10 5 3 4-5 5-6 4-5 4-1 5 1 4 0 5-1 4 2 4 3 5 2 4 1 5 5 4 2 4 2 5 1 4-2 5-6 4-11 4 0 5 7 4-1 5-9 4-4 4 2 5 5 4 6 5 10 4 9 4 2 5-5 4-8 5 0 4 9 4 8 5 5 4 2 5 0 4 0 4-3 5-3 4-3 5-3 4 2 4 6 5 7 4 0 5-8 4-10 4-4 5 4 4 6 5 6 4 7 4 5 5 1 4-7 5-7 4 1 4 11 5 18 4 0 5-6 4-19 4-12 5 2 4 3 5-6 4-3 4 5 5 12 4 3 5-1 4-4 4 3 5 5 4 2 5-3 4-6 4-4 5-3 4-2 5 3 4 12 4 5 2-1M861 656l2 2 2 2 2 0 2 1 2 2 2 7 2 26 2 29 2 17 2 8 2 3 2 0 2-1 2 0 4 5 5 11 4 18 5 8 4-2 4-2 5-5 4-2 5 5 4 9 4 1 5-3 4 3 5 6 4-1 4-5 5 3 4 14 5 6 4-3 4-9 5-1 4 0 5-1 4 1 4 9 5 14 4 8 5 2 4-1 4-4 5-8 4-7 5 0 4 7 4 7 5 4 4 0 5-2 4 6 4 7 5 1 4-4 5-1 4 0 4-4 5-6 4 0 5 5 4 11 4 9 5 6 4-3 5-5 4-2 4-4 5-13 4-9 5-2 4 6 4 14 5 14 4 7 5 1 4-2 4-2 5-5 4-9 5-7 4-3 4 1 5 3 4 2 5-1 4 2 4 15 5 12 4 3 5-3 4-4 4-6 5-8 4-4 5-2 4-2 4 0 5 1 4 1 5 10 4 15 4 7 5-2 4-4 5 1 4-1 4-9 5-9 4-3 5 7 4 13 4 3 5-1 4-9 5-4 4 1 4-1 5-4 4-2 5 2 4 5 4-1 5-4 4 0 5 5 4 9 4 15 2 15M861 648l2 3 2 3 2 2 2 2 2 1 2 4 2 15 2 28 2 32 2 17 2 7 2 0 2-3 2-2 4 2 5 12 4 21 5 15 4-2 4-4 5-8 4-9 5-1 4 8 4 9 5 2 4-2 5 0 4 3 4 4 5 5 4 4 5 1 4 0 4-4 5-3 4 8 5 15 4 7 4-7 5-13 4-5 5 8 4 13 4 11 5-1 4-9 5-12 4 1 4 14 5 10 4 4 5 1 4 3 4 4 5-4 4-4 5 0 4 2 4 0 5-2 4 2 5 5 4 3 4-3 5-2 4 4 5 5 4-2 4-6 5 5 4 15 5 8 4 1 4-8 5-6 4 1 5 5 4 8 4 0 5-16 4-24 5-8 4 6 4 21 5 10 4-3 5-13 4-9 4 8 5 11 4-2 5-16 4-6 4 4 5 13 4 11 5 5 4 1 4-1 5 0 4 2 5-3 4-10 4-12 5-3 4 0 5-1 4-1 4 4 5 13 4 7 5-4 4-8 4-1 5 10 4 10 5 4 4-2 4-7 5-3 4 8 5 6 4 4 4 2 5 4 4 3 5 1 4 3 4 1 2-6M861 655l2 2 2 1 2 0 2 0 2 4 2 17 2 34 2 32 2 22 2 7 2-2 2-5 2-6 2-4 4 0 5 7 4 11 5 7 4 1 4 3 5 5 4 3 5-6 4-6 4 2 5 6 4 4 5 1 4 3 4 5 5 1 4-4 5-4 4 0 4 3 5 8 4 10 5 3 4 4 4 5 5 0 4-5 5-1 4 5 4 8 5 6 4 1 5-4 4-3 4 4 5 4 4-5 5-15 4-6 4 2 5 6 4 9 5 12 4 8 4 4 5 1 4 5 5 8 4-1 4-13 5-14 4-2 5 6 4 8 4 7 5 3 4-4 5-4 4-4 4-8 5-10 4-3 5 4 4 7 4 7 5 6 4 3 5 1 4-2 4 0 5 4 4 8 5 9 4 3 4-4 5-5 4-2 5-2 4-5 4-2 5-1 4-8 5-10 4-1 4 1 5 10 4 5 5-5 4-1 4 9 5 16 4 9 5 0 4-5 4-5 5-4 4-3 5 0 4 1 4-1 5 3 4 8 5 5 4-1 4-5 5-6 4-5 5-6 4-1 4-1 5-2 4 4 5 9 4 15 4 4 2-9M861 658l2 1 2 0 2 1 2 3 2 15 2 19 2 9 2 6 2 16 2 22 2 9 2-4 2-4 2-2 4 3 5 11 4 11 5 10 4 4 4 7 5 8 4 2 5-4 4-10 4-4 5 3 4 7 5 14 4 11 4 5 5-6 4-9 5-8 4-5 4 0 5 10 4 18 5 7 4-3 4-3 5-4 4 0 5 6 4 5 4 2 5 3 4 5 5-1 4-8 4-13 5-2 4 10 5 19 4 18 4 1 5 0 4-20 5-17 4-1 4 11 5 10 4 2 5-2 4 1 4 2 5 1 4 0 5 2 4-1 4-9 5-6 4 4 5 7 4 0 4-5 5-5 4-4 5-6 4 0 4 0 5 10 4 17 5 10 4 3 4-3 5-7 4-4 5-3 4-6 4-4 5 3 4 14 5 17 4 10 4 2 5-8 4-8 5-4 4 0 4 1 5-2 4-4 5-3 4-6 4-5 5 0 4 4 5-1 4-6 4-2 5 4 4 15 5 11 4-11 4-12 5 0 4 13 5 13 4 3 4 2 5 2 4-1 5-2 4-5 4-6 5-3 4 1 5 12 4 12 4 6 2-3M861 657l2 0 2 0 2 0 2 0 2 4 2 11 2 15 2 18 2 24 2 20 2 6 2-2 2-1 2 1 4 1 5 7 4 12 5 7 4 6 4-1 5-5 4 0 5 5 4 9 4 11 5 9 4 3 5-5 4-11 4-2 5 4 4 5 5 4 4 1 4 1 5 6 4 8 5 3 4-4 4-11 5 1 4 11 5 3 4-4 4 2 5 6 4 0 5-10 4-3 4 7 5 10 4 5 5 1 4 0 4 0 5 3 4 5 5 3 4 3 4 0 5-1 4-2 5-2 4-1 4 2 5 3 4 3 5 1 4 1 4 2 5 4 4 10 5 9 4 1 4 1 5-11 4-16 5-8 4-2 4-1 5 1 4 9 5 4 4-7 4-8 5-2 4 7 5 12 4 6 4-2 5-11 4-5 5 10 4 9 4 1 5-4 4-2 5 1 4-2 4-4 5-1 4 6 5-1 4-6 4-2 5 3 4 5 5 3 4-2 4-1 5 2 4 8 5 7 4-3 4-15 5-12 4-2 5 9 4 16 4 8 5 5 4 8 5 4 4-8 4-9 5 0 4 2 5-1 4-5 4 5 2 6M861 650l2 5 2 1 2 1 2 1 2 3 2 6 2 27 2 46 2 28 2-1 2-6 2-2 2 0 2-1 4 0 5 8 4 21 5 21 4 4 4-1 5-2 4 3 5 4 4 4 4 2 5-1 4 1 5-3 4-6 4-9 5-5 4 3 5 7 4 10 4 8 5 8 4 5 5 4 4 1 4-5 5-7 4-8 5-5 4-3 4-6 5 0 4 8 5 7 4-2 4-6 5-1 4-2 5 0 4 2 4 8 5 10 4 8 5 7 4 11 4 10 5 4 4 0 5-9 4-1 4 11 5 5 4 1 5-12 4-10 4-1 5 4 4 5 5 5 4 0 4-3 5-1 4-1 5-3 4 1 4 7 5 5 4-3 5-8 4-10 4-3 5 2 4 4 5-3 4-4 4 2 5 11 4 9 5 8 4 5 4-3 5-8 4-5 5 5 4 12 4 11 5 1 4-7 5-7 4-1 4 6 5 8 4 2 5-3 4-4 4-4 5-5 4-3 5-2 4-1 4 1 5 3 4 0 5 0 4 1 4-3 5-13 4-5 5 5 4 11 4 5 5 0 4 1 5 4 4 4 4 0 2-9M861 648l2 3 2 2 2 2 2 2 2 2 2 8 2 32 2 30 2 16 2 11 2 3 2 0 2-5 2-6 4 3 5 10 4 16 5 13 4-5 4-4 5 1 4 3 5 3 4 0 4 0 5 4 4 6 5 6 4 6 4 4 5 3 4 6 5 4 4 1 4-4 5-7 4-3 5 2 4 2 4 1 5 0 4-3 5-4 4 1 4 7 5 9 4 2 5 1 4 5 4 1 5-2 4 3 5 3 4-2 4-10 5 0 4 14 5 9 4 1 4-2 5 0 4-2 5-6 4 4 4 7 5 0 4-7 5-2 4 9 4 9 5 5 4-2 5-8 4-16 4-6 5 0 4 1 5-1 4 1 4 10 5 17 4 8 5 6 4 4 4 1 5 1 4 4 5 7 4 2 4 1 5 0 4-8 5-13 4-7 4-8 5-1 4 12 5 9 4-1 4-8 5-1 4 6 5 4 4-1 4-2 5 2 4 3 5-4 4-10 4-7 5 11 4 12 5 3 4-7 4-11 5-2 4 2 5-3 4-3 4-1 5 2 4 3 5 2 4 1 4-2 5-2 4 1 5 2 4 8 4 11 2 5M861 654l2 5 2 1 2-1 2 1 2 1 2 2 2 19 2 41 2 35 2 14 2-2 2-9 2-10 2-3 4 3 5 10 4 12 5 7 4 0 4-2 5-1 4 9 5 13 4 7 4 6 5 0 4-7 5-8 4 1 4 10 5 8 4 1 5 0 4-2 4 6 5 3 4 0 5-5 4-3 4 3 5 9 4 8 5 5 4-5 4-9 5-3 4 12 5 7 4 1 4 1 5 4 4 6 5-3 4-7 4-1 5 2 4 3 5 2 4 7 4 6 5-2 4-8 5-7 4 3 4 8 5 3 4-4 5-7 4-7 4-2 5 0 4 6 5 9 4 2 4 2 5 5 4 6 5-1 4-3 4 2 5 1 4-4 5-12 4-1 4 5 5 6 4 7 5 5 4-1 4-11 5-12 4 0 5 6 4 1 4-7 5-1 4 6 5 7 4-1 4-4 5-3 4-3 5 0 4 3 4 8 5 13 4 9 5 0 4-8 4-1 5 4 4-2 5-15 4-13 4-1 5 1 4 5 5 25 4 15 4 3 5-7 4-9 5-14 4-8 4-3 5 5 4 15 5 9 4-8 4-6 2 2M861 657l2 2 2 1 2 0 2 2 2 9 2 8 2 9 2 19 2 29 2 20 2 5 2-3 2-3 2-2 4 4 5 13 4 19 5 15 4-2 4-11 5-12 4-2 5 8 4 19 4 11 5 2 4-1 5 0 4 0 4 3 5 7 4 7 5 2 4-3 4-1 5-1 4-3 5 0 4 4 4 2 5-1 4-1 5 1 4 3 4 0 5-1 4-2 5-2 4-5 4-1 5 8 4 11 5 1 4-7 4-6 5 1 4 5 5 5 4-3 4-1 5 7 4 11 5 5 4-3 4-5 5-3 4 0 5 1 4 3 4 5 5 2 4-7 5-11 4-5 4 1 5 4 4 5 5 10 4 10 4 8 5 9 4 8 5-3 4-12 4-9 5 1 4 9 5 1 4-5 4-5 5-6 4-6 5-4 4 6 4 12 5 1 4-12 5-8 4 6 4 16 5 5 4-6 5-10 4 0 4 7 5 5 4 3 5-1 4 0 4 2 5 2 4-3 5-8 4 3 4 10 5 7 4 3 5-3 4-6 4-8 5 7 4 14 5 3 4-13 4-17 5 3 4 15 5 8 4 1 4-6 2-10M861 651l2 1 2 1 2 2 2 2 2 15 2 25 2 24 2 26 2 19 2 2 2-6 2-5 2 0 2-1 4-2 5 7 4 12 5 7 4 0 4-2 5 8 4 10 5 4 4-1 4-5 5-3 4 1 5 3 4 2 4 0 5 0 4 0 5-1 4 4 4 12 5 14 4 8 5 1 4-4 4-2 5 2 4 3 5-2 4-5 4 1 5 6 4 3 5 6 4 8 4 1 5-9 4-10 5-4 4 2 4 2 5 1 4 10 5 6 4 7 4 1 5-2 4 1 5 0 4 0 4-2 5 3 4 4 5 3 4 3 4 8 5 7 4-3 5-8 4-12 4-12 5-5 4-3 5-1 4 0 4 6 5 12 4 9 5-2 4-8 4 0 5 12 4 11 5 7 4 2 4 0 5-1 4-5 5-7 4-9 4-7 5-1 4 5 5 10 4 5 4-2 5-6 4 0 5 7 4 5 4 1 5 1 4-6 5-17 4-6 4 7 5 9 4-12 5-10 4 1 4 0 5 5 4 13 5 10 4 1 4-3 5 2 4 8 5 5 4 1 4-3 5-6 4-8 5-2 4 5 4 10 2 1M861 655l2 4 2 1 2-1 2 0 2 2 2 7 2 19 2 23 2 22 2 20 2 7 2-2 2-6 2-3 4 3 5 10 4 17 5 16 4 3 4 1 5 1 4-1 5 5 4 5 4 0 5-5 4-4 5 1 4 0 4 3 5 6 4 6 5 2 4 5 4 4 5-2 4-9 5-5 4 0 4 0 5-2 4 3 5 12 4 12 4 3 5-3 4-6 5-5 4-1 4 10 5 12 4 5 5-3 4 1 4 1 5-1 4-3 5-1 4 7 4 9 5 2 4-6 5-5 4 1 4 0 5-9 4-5 5 5 4 8 4 6 5 5 4 2 5-4 4-12 4-8 5-7 4-1 5 0 4 4 4 3 5 1 4 7 5 11 4 6 4 3 5 9 4 7 5-3 4-11 4-16 5-4 4 3 5 11 4 11 4 5 5-2 4-9 5-11 4 1 4 9 5 8 4 1 5-9 4-8 4 5 5 10 4-3 5-12 4-4 4 5 5 3 4-1 5 1 4 9 4 6 5-8 4-11 5-3 4 7 4 16 5 8 4-3 5-15 4-7 4 0 5 3 4 5 5 8 4 9 4 5 2 3M861 655l2 3 2 2 2 0 2 1 2 1 2 1 2 15 2 20 2 27 2 26 2 9 2 0 2-4 2-1 4 8 5 15 4 22 5 8 4-15 4-11 5-2 4 0 5 3 4 8 4 16 5 12 4 5 5-7 4-10 4-7 5 4 4 8 5 7 4 6 4 4 5 4 4 0 5-4 4-4 4-3 5 3 4 1 5 0 4 7 4 10 5 14 4 4 5-7 4-11 4-3 5 3 4 1 5-1 4 4 4 8 5 5 4-4 5-7 4-7 4-6 5-5 4-3 5-2 4 1 4 4 5 7 4 11 5 6 4 2 4-1 5-6 4-3 5-4 4 1 4 9 5 10 4 5 5 6 4 8 4 0 5-5 4-4 5-2 4 0 4 4 5 15 4 8 5 0 4 0 4-6 5-3 4 2 5 2 4 0 4-3 5-4 4-2 5-3 4-3 4-3 5-4 4-1 5-1 4-2 4 1 5 5 4 3 5-6 4-12 4-3 5 5 4 8 5 11 4 4 4-4 5-13 4-5 5 2 4 0 4-2 5 5 4 9 5 0 4-6 4 2 5 10 4 4 5-4 4-3 4-3 2-6M861 651l2 4 2 2 2 1 2 3 2 9 2 10 2 6 2 18 2 28 2 23 2 7 2 0 2 0 2-1 4 2 5 5 4 8 5 4 4 0 4 13 5 15 4 8 5 3 4 3 4 2 5-2 4 0 5 1 4-2 4-2 5-1 4 2 5 1 4-3 4-6 5-4 4-7 5-3 4 1 4 2 5 9 4 12 5 4 4-6 4-6 5 2 4 7 5 3 4 2 4-2 5-2 4-1 5 2 4 7 4 10 5 4 4-1 5-6 4 1 4 9 5 6 4 4 5 4 4 4 4-2 5-11 4-10 5 7 4 11 4 8 5 4 4 0 5-7 4-7 4 2 5 5 4-3 5-10 4-8 4 0 5 10 4 18 5 15 4 3 4 0 5-1 4-10 5-19 4-12 4 14 5 15 4 2 5-9 4-14 4-7 5-4 4 0 5 5 4 9 4 12 5 9 4 7 5 2 4-6 4-6 5-1 4 0 5-2 4-5 4-2 5 3 4 9 5 11 4 1 4-10 5-11 4 0 5 9 4 5 4 4 5 5 4 2 5-3 4 0 4 4 5 1 4-6 5-2 4-1 4-9 2-15M861 656l2 0 2 1 2 1 2 3 2 11 2 12 2 7 2 15 2 29 2 27 2 6 2-4 2-7 2-4 4 4 5 14 4 19 5 16 4 6 4-4 5-9 4-4 5 11 4 9 4-1 5-3 4 0 5 1 4-1 4-3 5-2 4-2 5 1 4 10 4 12 5 9 4 6 5 4 4 3 4 2 5-7 4-13 5-11 4 5 4 12 5 5 4 0 5-1 4-2 4-12 5-12 4-1 5 14 4 17 4 1 5-10 4-6 5 4 4 1 4-4 5-1 4 11 5 16 4 8 4-5 5-8 4-2 5 6 4 1 4-6 5-6 4 0 5 7 4 10 4 7 5 1 4-2 5 2 4 3 4 3 5 5 4 2 5-3 4-5 4-8 5-15 4-5 5 4 4 9 4 10 5 5 4 2 5-1 4 0 4-1 5-4 4-2 5 6 4 3 4-4 5-12 4-7 5 4 4 16 4 13 5 6 4-9 5-9 4 1 4 0 5 0 4 3 5 7 4 4 4-8 5-5 4 4 5 5 4 3 4-1 5 1 4 5 5 7 4-1 4-7 5-7 4-2 5 3 4 5 4 6 2 9M861 657l2 2 2 0 2 1 2 3 2 12 2 10 2 18 2 26 2 21 2 10 2 1 2-4 2-3 2-2 4 2 5 10 4 12 5 8 4 9 4 12 5 4 4-3 5-3 4 3 4 3 5 0 4-4 5 0 4 3 4-1 5 1 4 6 5 5 4 0 4-11 5-10 4-1 5 1 4 9 4 22 5 6 4-5 5-10 4 1 4 6 5-2 4-3 5 0 4 6 4 3 5 2 4 5 5 6 4 2 4-6 5-14 4-5 5 4 4 15 4 15 5 11 4 10 5 1 4 1 4-2 5-10 4-8 5-5 4-5 4 2 5 2 4 1 5-4 4-8 4-2 5 8 4 9 5 3 4 4 4 5 5 5 4-4 5-11 4-11 4-4 5 3 4 15 5 22 4 15 4 1 5-7 4-11 5-5 4-4 4-6 5 8 4 18 5 8 4-6 4-11 5-5 4 3 5 6 4 6 4-2 5-12 4-12 5-4 4 0 4 1 5 3 4 11 5 12 4 11 4 6 5-2 4-6 5-3 4-3 4-4 5-2 4 2 5 4 4 4 4-1 5-9 4-9 5 0 4 8 4 4 2-2M861 650l2 5 2 2 2 0 2 0 2 2 2 4 2 16 2 39 2 36 2 14 2-5 2-9 2-4 2 0 4 6 5 10 4 13 5 5 4-4 4-2 5 7 4 17 5 6 4 0 4 1 5-1 4-1 5 3 4 3 4 0 5-5 4-2 5 2 4-1 4 4 5 14 4 12 5-2 4-14 4-12 5 0 4 7 5 15 4 11 4 2 5-11 4-21 5-2 4 1 4 8 5 10 4-1 5-6 4-3 4 4 5 11 4 13 5 6 4-4 4-9 5-6 4-2 5 0 4 6 4 15 5 6 4-4 5-13 4-6 4-1 5 0 4 2 5-1 4-1 4 9 5 21 4 13 5 2 4-3 4 1 5-3 4-7 5-5 4 4 4 11 5 9 4-6 5-17 4-18 4-3 5 6 4 13 5 11 4 5 4-1 5-7 4-11 5-4 4 6 4 13 5 3 4-1 5-2 4 3 4 1 5-8 4-9 5 3 4 4 4-6 5-7 4 1 5 9 4 3 4-2 5 12 4 14 5 3 4-11 4-14 5 7 4 14 5 5 4-2 4-3 5-3 4-2 5-6 4 0 4 6 2 2M861 656l2 1 2 2 2 1 2 3 2 15 2 15 2 17 2 18 2 9 2 10 2 6 2 0 2 4 2 3 4 6 5 7 4 18 5 16 4 1 4-7 5-10 4-2 5 4 4 3 4 1 5 4 4 8 5 0 4-6 4-4 5 5 4 7 5 0 4-4 4-1 5 5 4 2 5 3 4 3 4 6 5 4 4 1 5 1 4 1 4 3 5-1 4-7 5-4 4-1 4 3 5 16 4 15 5 6 4-10 4-7 5 6 4 8 5 0 4-6 4-9 5-11 4-3 5 5 4 13 4 8 5 8 4 3 5-6 4-11 4-9 5 0 4 6 5 3 4-1 4 5 5 13 4 15 5 11 4 1 4-3 5-4 4-11 5-16 4-16 4-6 5 0 4 6 5 15 4 3 4-15 5-7 4 1 5 0 4 4 4 7 5 12 4 10 5 3 4 1 4 3 5 2 4-6 5-18 4-7 4 5 5 16 4 5 5-2 4-5 4-10 5-5 4 2 5 7 4 0 4-6 5 3 4 17 5 15 4 9 4 4 5-1 4-5 5-6 4-5 4 0 5 6 4 8 5 2 4-3 4-3 2-4M861 648l2 3 2 2 2 3 2 2 2 1 2 4 2 15 2 33 2 39 2 19 2 3 2-5 2-4 2 0 4 5 5 7 4 17 5 13 4 2 4 4 5 8 4 5 5-5 4-8 4-13 5-8 4 4 5 10 4 2 4-6 5 2 4 16 5 9 4 4 4 2 5 0 4-4 5-9 4-3 4 10 5 3 4-3 5-11 4-5 4 0 5-1 4 3 5 4 4 2 4 5 5 8 4 7 5-1 4-1 4 7 5 8 4 6 5 3 4 0 4-4 5-4 4-3 5-5 4-7 4 3 5 12 4 2 5-3 4 3 4 9 5 6 4-5 5-6 4 2 4 4 5 0 4-4 5-3 4 2 4-3 5-2 4 10 5 13 4 11 4 3 5-3 4-9 5-9 4-6 4 3 5 3 4-9 5-17 4-3 4 2 5 15 4 13 5 2 4 0 4-3 5-10 4-1 5 9 4 8 4 3 5 3 4 3 5-2 4-4 4-3 5-8 4-8 5-1 4 8 4 4 5-5 4 0 5 12 4 8 4-2 5-12 4-6 5 2 4 8 4 10 5 6 4 6 5 3 4-2 4-6 2-9M861 648l2 3 2 3 2 3 2 3 2 12 2 17 2 22 2 25 2 20 2 10 2 1 2-5 2-5 2-6 4 0 5 12 4 18 5 19 4 1 4-8 5-4 4 4 5 8 4 5 4 3 5 4 4 6 5 0 4-6 4-11 5-3 4 6 5 13 4 6 4-3 5-8 4-1 5 4 4 0 4-1 5 3 4 6 5 1 4-5 4-7 5-6 4 1 5 2 4 8 4 13 5 12 4 6 5 3 4-2 4-6 5-6 4-1 5-1 4-7 4-9 5 1 4 6 5 13 4 7 4-7 5-8 4 0 5 5 4 19 4 18 5 8 4-9 5-11 4-5 4-3 5-6 4-2 5 3 4 7 4 12 5 10 4 0 5-6 4-5 4 1 5 0 4-7 5-6 4-1 4 4 5-1 4-6 5-3 4 2 4 4 5 1 4 0 5 8 4 14 4 12 5 7 4-1 5-8 4-9 4-2 5 5 4 6 5 2 4-1 4 0 5-4 4-3 5-5 4-5 4-5 5-2 4 0 5 0 4 5 4 12 5 7 4 2 5-2 4-2 4 2 5 4 4 4 5-3 4-4 4 2 2 4M861 653l2-2 2 2 2 2 2 6 2 12 2-2 2 7 2 23 2 29 2 17 2 6 2-1 2 1 2 0 4 0 5 10 4 24 5 24 4 1 4-8 5-3 4 3 5-1 4-11 4-5 5 5 4 11 5 6 4-3 4 1 5 11 4 12 5 2 4-5 4-9 5-10 4-1 5 2 4 6 4 2 5 1 4 3 5 5 4 7 4 3 5 3 4 2 5 3 4 4 4 5 5 3 4-2 5-5 4-6 4-4 5 2 4 4 5-1 4-9 4-5 5 2 4 6 5 3 4-1 4-6 5-6 4-1 5 8 4 21 4 10 5-1 4-5 5-2 4 6 4 7 5-1 4-6 5-1 4 4 4 4 5 1 4-2 5-4 4-3 4 4 5 3 4-1 5-9 4-10 4-6 5 3 4 16 5 14 4 2 4-2 5-1 4 1 5-2 4-8 4-11 5-5 4 9 5 15 4-4 4-20 5-4 4 0 5 11 4 25 4 9 5-10 4-19 5-4 4 9 4 9 5 1 4 1 5-1 4-6 4-3 5 4 4 9 5 5 4 5 4 0 5-5 4-1 5 7 4 8 4-1 2-2M861 648l2 8 2 3 2 0 2 2 2 17 2 20 2 23 2 30 2 9 2-5 2-2 2-1 2-2 2-2 4 3 5 10 4 12 5 14 4 5 4-1 5-3 4-1 5 0 4 4 4 10 5 9 4 2 5 1 4 3 4 5 5 4 4 4 5 2 4-2 4-3 5-1 4 7 5 6 4-2 4-8 5-6 4 8 5 10 4 7 4-1 5-7 4-4 5 3 4 9 4 5 5-3 4-10 5-13 4-2 4 4 5 9 4 7 5-2 4-2 4 5 5 8 4 10 5 3 4-7 4-4 5 3 4 11 5 4 4-4 4-6 5-1 4 3 5 3 4-1 4-4 5-1 4 7 5 8 4 4 4-7 5-11 4-7 5 5 4 11 4 10 5 2 4-8 5-16 4-9 4 4 5 12 4 9 5 3 4-3 4-3 5-1 4 8 5 9 4 5 4-1 5-7 4-3 5-3 4-2 4 3 5 1 4-5 5-12 4-8 4-2 5 2 4 2 5 7 4 10 4 7 5 5 4 1 5 0 4-5 4-5 5 4 4 8 5 2 4-7 4-7 5 6 4 7 5 3 4-6 4-4 2 0M861 652l2 4 2 2 2 1 2 1 2 0 2 3 2 16 2 34 2 25 2 15 2 4 2 1 2 2 2 3 4 5 5 10 4 12 5 0 4 0 4 7 5 8 4 10 5 11 4 3 4-8 5-10 4-8 5-1 4 3 4 1 5-3 4-4 5 2 4 8 4 8 5 0 4 1 5 9 4 5 4 0 5-2 4-2 5 1 4 5 4 10 5 15 4 2 5 1 4-10 4-8 5-2 4 0 5 2 4 0 4-4 5-1 4 3 5 6 4 3 4 0 5-1 4 1 5 2 4 0 4-1 5 1 4 1 5 1 4-5 4-2 5 3 4-6 5-14 4-1 4 1 5 0 4 1 5 0 4 4 4 12 5 14 4 1 5-10 4-1 4 12 5 11 4 6 5-2 4-6 4-7 5-7 4 1 5 7 4 4 4-3 5-2 4 0 5-2 4 0 4 12 5 8 4-2 5-10 4-12 4-5 5-4 4 1 5 11 4 16 4 8 5-5 4-16 5-8 4 5 4 14 5 4 4-3 5-4 4-2 4 3 5 13 4 15 5 3 4-13 4-8 5-6 4-8 5-7 4 1 4 5 2 2M861 657l2-3 2 0 2 4 2 5 2 15 2 14 2 17 2 20 2 18 2 8 2 3 2 2 2 1 2 1 4 1 5 5 4 16 5 20 4 9 4 8 5 3 4 2 5-13 4-11 4-5 5-2 4 0 5 6 4 6 4 5 5 0 4 2 5 3 4-2 4 0 5 7 4 8 5 4 4-6 4-6 5 4 4 8 5 5 4-2 4-7 5-13 4-3 5 6 4 15 4 12 5 6 4 1 5 0 4 2 4-3 5-9 4-10 5 0 4 6 4 4 5 1 4 1 5 3 4 1 4-6 5-7 4-2 5 2 4 4 4 3 5 6 4 10 5 7 4 1 4-3 5-2 4 1 5-1 4 2 4 5 5 5 4-1 5-4 4 1 4 2 5-2 4-5 5-2 4-1 4-7 5-8 4-2 5 9 4 17 4 2 5-9 4-9 5 8 4 18 4 11 5 3 4 1 5 0 4-2 4-8 5-12 4-17 5-6 4 0 4 4 5 8 4 9 5 8 4 4 4 4 5-3 4-10 5-11 4 0 4 7 5 10 4 6 5 4 4 1 4-1 5-1 4 2 5 2 4 2 4 3 2 2M861 651l2 5 2 3 2 1 2 3 2 11 2 2 2 14 2 34 2 22 2 9 2 5 2 3 2-2 2-5 4-2 5 13 4 23 5 19 4-1 4-5 5-9 4-9 5-4 4 1 4 9 5 15 4 4 5-6 4-8 4-5 5-1 4 3 5 6 4 9 4 14 5 10 4 3 5-5 4-9 4-9 5-2 4 1 5 4 4 8 4 11 5 8 4 2 5-3 4-3 4 3 5 5 4 3 5 2 4 1 4-1 5-4 4-1 5 2 4 5 4 5 5 3 4 1 5-2 4-2 4-1 5-3 4-6 5 1 4 11 4 7 5-5 4-14 5-4 4 11 4 14 5 8 4-2 5-7 4-5 4 1 5 7 4 6 5-5 4-13 4-8 5 0 4 1 5 2 4 11 4 15 5 12 4 2 5-4 4-1 4-1 5-9 4-18 5-14 4-3 4 4 5 6 4 3 5 2 4 6 4 11 5-2 4-14 5-6 4-2 4 1 5 6 4 18 5 9 4-4 4-18 5-9 4 6 5 15 4 7 4-5 5-5 4 3 5 7 4 2 4 3 5 9 4 14 5 2 4 0 4-5 2-18M861 648l2 3 2 2 2 2 2 3 2 9 2 14 2 22 2 25 2 23 2 7 2-4 2-2 2-2 2-2 4 3 5 11 4 11 5 7 4 5 4 12 5 0 4-3 5 8 4 12 4 6 5 0 4-2 5-2 4-2 4 1 5 5 4 5 5 0 4 0 4 1 5 5 4 6 5 0 4-3 4 1 5 5 4 1 5-4 4-4 4 3 5 8 4 8 5 3 4-6 4-4 5 1 4 6 5 3 4-9 4-18 5-4 4 11 5 15 4 1 4-5 5-3 4 1 5-1 4-4 4-8 5-5 4 1 5 11 4 23 4 9 5-9 4-25 5-7 4 1 4 1 5 5 4 2 5 4 4 8 4 15 5 11 4 5 5-5 4-17 4-17 5 0 4 16 5 20 4 8 4-2 5-11 4-17 5-7 4 4 4 13 5 10 4 9 5 10 4-1 4-11 5-9 4 0 5 4 4 2 4 2 5 1 4 3 5 1 4-2 4-2 5 0 4 5 5 5 4 0 4-5 5-5 4-1 5 3 4 1 4-2 5-1 4-5 5-5 4-2 4 9 5 14 4 8 5-3 4-7 4-1 2 3M861 653l2 3 2 0 2-1 2 2 2 2 2 4 2 32 2 37 2 22 2 10 2 1 2-5 2-4 2-2 4 4 5 11 4 12 5 8 4 5 4 4 5 1 4-2 5-1 4 4 4 7 5 4 4 0 5-1 4-1 4 2 5 3 4 2 5 1 4-2 4-5 5-6 4 0 5 8 4 8 4-6 5-5 4 4 5 14 4 7 4-5 5-8 4 1 5 9 4 10 4 5 5 1 4 0 5 2 4-2 4-4 5-3 4 7 5 8 4 4 4-3 5-1 4 5 5 6 4 5 4 5 5-3 4-12 5-11 4 5 4 10 5 4 4-1 5-5 4-5 4-10 5-9 4-1 5 6 4 10 4 9 5 5 4 9 5 7 4-6 4-11 5-9 4 6 5 6 4 0 4-8 5-1 4 4 5-1 4-2 4-2 5 3 4 3 5-6 4-7 4-6 5-2 4 1 5 6 4 10 4 9 5 4 4 1 5-1 4-5 4-3 5 6 4 9 5 5 4-2 4-5 5-5 4 6 5 6 4 1 4-5 5-8 4 1 5 9 4 1 4-7 5-7 4-1 5 4 4-3 4-7 2-1M861 656l2 2 2-1 2-1 2 1 2 5 2 15 2 27 2 30 2 21 2 10 2 0 2-6 2-6 2-1 4 8 5 11 4 9 5 4 4 1 4 7 5 7 4 2 5 4 4 6 4 11 5 9 4 3 5 0 4 0 4 1 5 0 4-4 5-11 4-15 4 0 5 6 4 0 5-8 4-3 4 6 5 19 4 17 5 9 4 1 4-9 5-10 4-4 5 10 4 11 4-1 5-9 4-8 5-1 4 4 4 5 5 5 4 2 5-1 4-2 4 3 5 3 4 1 5-5 4-7 4-1 5 3 4 1 5-2 4-2 4-1 5 1 4 6 5 9 4 6 4 2 5 1 4-9 5-10 4 3 4 19 5 9 4-4 5-4 4-2 4-1 5-4 4-6 5-1 4 2 4 0 5-5 4-7 5-1 4 1 4 5 5 9 4 10 5 1 4-4 4-1 5 7 4 8 5 4 4 1 4-2 5-4 4-1 5-1 4-4 4-7 5-3 4 10 5 13 4 5 4 0 5 2 4 2 5-3 4-7 4-8 5-3 4-1 5 1 4 11 4 12 5 6 4-10 5-21 4-9 4 3 2 11M861 650l2 5 2 2 2 1 2 2 2 9 2 12 2 12 2 20 2 21 2 13 2 6 2-1 2-2 2-2 4 3 5 11 4 13 5 5 4 0 4-2 5 5 4 7 5 3 4 4 4 9 5 3 4-1 5-4 4 7 4 9 5 3 4-6 5-10 4 6 4 17 5 11 4 2 5-1 4 4 4 5 5-3 4-7 5-5 4-2 4 1 5-3 4-11 5-6 4 3 4 5 5-3 4-6 5 1 4 2 4 9 5 15 4 10 5 6 4 0 4-6 5-3 4 4 5 9 4 4 4-3 5-3 4 0 5 2 4-1 4-2 5-2 4-1 5 3 4 2 4 0 5-12 4-13 5-3 4 5 4 12 5 7 4 6 5 5 4 2 4 1 5 1 4 0 5-4 4-7 4 0 5-2 4-7 5-2 4 9 4 13 5-2 4-13 5-6 4 5 4 9 5 7 4-2 5-6 4 1 4 7 5 2 4-4 5 0 4 8 4 1 5-4 4-4 5 5 4 6 4 2 5-2 4-5 5-10 4-11 4-2 5 1 4 3 5 2 4 0 4 4 5 7 4 4 5-2 4-4 4-3 2 2M861 653l2 1 2 1 2 1 2 3 2 10 2 3 2 6 2 20 2 27 2 22 2 6 2-1 2 1 2 2 4 5 5 11 4 18 5 15 4 2 4-2 5-4 4-7 5-6 4-1 4 8 5 11 4 2 5-9 4-3 4 6 5 14 4 9 5 2 4-2 4-3 5-4 4 3 5 10 4 9 4 1 5-4 4-2 5 4 4 3 4 2 5 2 4-2 5-1 4 2 4 4 5-1 4-4 5-1 4 1 4 2 5 1 4 0 5-6 4-2 4 4 5 6 4-3 5-6 4-3 4-1 5 4 4 6 5 8 4 4 4 3 5 8 4 8 5-1 4-8 4-6 5-3 4 0 5 6 4 10 4 4 5-9 4-14 5-8 4 4 4 10 5 10 4 6 5 3 4 2 4 0 5-1 4-2 5-5 4-4 4-3 5-3 4-6 5-6 4-5 4-2 5 2 4 11 5 14 4 5 4 1 5 0 4 3 5 3 4-3 4-3 5-1 4 0 5 2 4 6 4 8 5-2 4-9 5-10 4-6 4-6 5-3 4 6 5 13 4 13 4 9 5 6 4 0 5-6 4-9 4-2 2 4M861 658l2 0 2 0 2 1 2 3 2 14 2 18 2 21 2 23 2 16 2 7 2-1 2-3 2-2 2-2 4 3 5 13 4 24 5 20 4-1 4-6 5-7 4-2 5 6 4 4 4 0 5-3 4 1 5 0 4 2 4 9 5 10 4 1 5-2 4 2 4 0 5-3 4-1 5 5 4 5 4 0 5-3 4-7 5-11 4-5 4 0 5 10 4 18 5 3 4-6 4-8 5-3 4-1 5 0 4 5 4 8 5 9 4 7 5 2 4-4 4-9 5 0 4 12 5 7 4 2 4-1 5 3 4 10 5 6 4-2 4-6 5-6 4 0 5 1 4-2 4-4 5-10 4-8 5-6 4-1 4 6 5 17 4 14 5 2 4-3 4-2 5 1 4 1 5-2 4-4 4 0 5 3 4 4 5 2 4 1 4 0 5 2 4 6 5 6 4-3 4-7 5-7 4-5 5-1 4 0 4 0 5-4 4-6 5-5 4 0 4 8 5 15 4 8 5-8 4-12 4-1 5 8 4 13 5 9 4 3 4-6 5-13 4-10 5 2 4 10 4 12 5 4 4 0 5 3 4 2 4 0 2 2M861 649l2 6 2 3 2 2 2 1 2 10 2 16 2 29 2 24 2 9 2-1 2 5 2-1 2 2 2 4 4 4 5 6 4 12 5 6 4 3 4 5 5 6 4 4 5 2 4 1 4-1 5 4 4 8 5 4 4 0 4 5 5 9 4 0 5-12 4-15 4-6 5 0 4 1 5 3 4 3 4 1 5 3 4 8 5 10 4 4 4-2 5-6 4-1 5 7 4 5 4 0 5-7 4 2 5 6 4 2 4 3 5 8 4 9 5-3 4-9 4-7 5 2 4 8 5 10 4 6 4-3 5-4 4 2 5 1 4-3 4-3 5 0 4 3 5 2 4 3 4 0 5-1 4 4 5 9 4 6 4 0 5-5 4-11 5-11 4-6 4-1 5 2 4 2 5 2 4-2 4 4 5 14 4 11 5 1 4-7 4-2 5 0 4-3 5-9 4-9 4 1 5 6 4 9 5-1 4-15 4-8 5 0 4 4 5 12 4 12 4 10 5 13 4 2 5-12 4-13 4 5 5 17 4 12 5-1 4 1 4 2 5 0 4 0 5-7 4-6 4-5 5-2 4-5 5-15 4-2 4 15 2 12M861 657l2 0 2 0 2 1 2 4 2 10 2 10 2 29 2 40 2 20 2 5 2-5 2-10 2-7 2-2 4 6 5 14 4 21 5 19 4 8 4 3 5 1 4-6 5-13 4-13 4-1 5 9 4 10 5 7 4 4 4 3 5 3 4-2 5-5 4-9 4-5 5 7 4 16 5 8 4-6 4-7 5 0 4 4 5 1 4 5 4 14 5 12 4 1 5-2 4-9 4-7 5-2 4 2 5 3 4-1 4-2 5 1 4 1 5-5 4-10 4-6 5 3 4 8 5 8 4 2 4-2 5-1 4 3 5 10 4 5 4-2 5-15 4-9 5 1 4 5 4 1 5 2 4 7 5 1 4-9 4-5 5 3 4 11 5 9 4 1 4-3 5-4 4 0 5 10 4 14 4 10 5-3 4-11 5-7 4 5 4 10 5 7 4-4 5-12 4-17 4-5 5 1 4 0 5 1 4 3 4 5 5 7 4 7 5 0 4-1 4 5 5 6 4-2 5-5 4 1 4 5 5 2 4-1 5-2 4-1 4-7 5-10 4-7 5-1 4 7 4 10 5 6 4-1 5-3 4 0 4 9 2 8M861 648l2 3 2 2 2 2 2 5 2 17 2 21 2 23 2 22 2 21 2 8 2-4 2-7 2-5 2-2 4 3 5 11 4 18 5 16 4 3 4 1 5-1 4-3 5 2 4 6 4 4 5 2 4 1 5-4 4-11 4-6 5 4 4 12 5 9 4 10 4 14 5 4 4-8 5-11 4-2 4 5 5 5 4-4 5-5 4-3 4 7 5 5 4 2 5-2 4-2 4 1 5 3 4 0 5-4 4 1 4 1 5-4 4-2 5 3 4 6 4-1 5-2 4 10 5 11 4 2 4-5 5 0 4 4 5 0 4-5 4 4 5 9 4 9 5-1 4-10 4-10 5-6 4 5 5 8 4-3 4-11 5-8 4-2 5 5 4 7 4 5 5-1 4-5 5 2 4 9 4 9 5 5 4 3 5 0 4-3 4-3 5-1 4-1 5 1 4 1 4 0 5-4 4-1 5 7 4 8 4 9 5 2 4-10 5-17 4-8 4 7 5 7 4 3 5 3 4 5 4 3 5 2 4 0 5-3 4-5 4-4 5 6 4 4 5 5 4 2 4-2 5-6 4-13 5-9 4-3 4 7 2 10M861 655l2 3 2 1 2-1 2 0 2 1 2 4 2 15 2 25 2 32 2 27 2 6 2-4 2-7 2-6 4 2 5 10 4 11 5 6 4 4 4 17 5 10 4-2 5-9 4-3 4 11 5 5 4-3 5-6 4 6 4 4 5 0 4-4 5 5 4 8 4 0 5-18 4-8 5 1 4 1 4 11 5 9 4 11 5 3 4 1 4-1 5-6 4-4 5 5 4 10 4 6 5-1 4-7 5-8 4 1 4 14 5 8 4 0 5-5 4-3 4 6 5 13 4 9 5-2 4-5 4-1 5 4 4 1 5-2 4-1 4 1 5 5 4 8 5 9 4 1 4 1 5-7 4 0 5 2 4-6 4-6 5 1 4 4 5 2 4 5 4 12 5 1 4-14 5-16 4-4 4 9 5 6 4-4 5-5 4-5 4-4 5-10 4-7 5 0 4 10 4 21 5 12 4 4 5-6 4-7 4-2 5 2 4 3 5 1 4-2 4-15 5-14 4-1 5 8 4 8 4 2 5-1 4 3 5 8 4 5 4 3 5 1 4 3 5 4 4 1 4-3 5-3 4 0 5 3 4 0 4-7 2-9M861 648l2 3 2 5 2 3 2 2 2 8 2 9 2 25 2 44 2 24 2 5 2-9 2-11 2-2 2 4 4 7 5 9 4 14 5 5 4 5 4 5 5-10 4-16 5 0 4 3 4 13 5 15 4 8 5 5 4-3 4-10 5-13 4-4 5 7 4 20 4 13 5 0 4-6 5 2 4 6 4-2 5-17 4-11 5 3 4 14 4 15 5 4 4 1 5 3 4 3 4 1 5-2 4-2 5 2 4 5 4 6 5-2 4-8 5-7 4 10 4 15 5 6 4-7 5-4 4 0 4-4 5-9 4-3 5 7 4 7 4 6 5 10 4 5 5-8 4-15 4-11 5 2 4 13 5 10 4 9 4 6 5 3 4 1 5-3 4-10 4-12 5-6 4 2 5-2 4-6 4 2 5 13 4 8 5 1 4 2 4 1 5-3 4-14 5-9 4 5 4 17 5 6 4-3 5-3 4 1 4 5 5 3 4-1 5-4 4-1 4 2 5 5 4 8 5 6 4 2 4-8 5-7 4 2 5 2 4-4 4-4 5 3 4 9 5 10 4 7 4-2 5-7 4-4 5 1 4-3 4-6 2-8M861 652l2 4 2 1 2 0 2 1 2 9 2 15 2 19 2 27 2 29 2 15 2-1 2-5 2-6 2 0 4 7 5 11 4 22 5 15 4-9 4-9 5 2 4 7 5 2 4-3 4-4 5-1 4 0 5 0 4 0 4 1 5 3 4 6 5 8 4 5 4 5 5 5 4 6 5 1 4-11 4-14 5 3 4 17 5 10 4-5 4-11 5-4 4 9 5 7 4 4 4 0 5-2 4-2 5-1 4 0 4-6 5-6 4-1 5 7 4 9 4 2 5-4 4-2 5 6 4 5 4-11 5-11 4-3 5 8 4 17 4 6 5-4 4 0 5 5 4-2 4-2 5 9 4 11 5 4 4-6 4-4 5 4 4 3 5-4 4-4 4 1 5 1 4-5 5-7 4-7 4-8 5-1 4 1 5 11 4 13 4 4 5-3 4-3 5-4 4-4 4-1 5 2 4 8 5 10 4-2 4-4 5 2 4 1 5-3 4 2 4 8 5 4 4-2 5-2 4 4 4 7 5 5 4-2 5-3 4-6 4-10 5-4 4 11 5 9 4-1 4-5 5-3 4 3 5 3 4-1 4-1 2-3M861 655l2 3 2 1 2 1 2 3 2 15 2 19 2 19 2 23 2 12 2 0 2 3 2 2 2 1 2-1 4 0 5 8 4 16 5 15 4 5 4-3 5-3 4 3 5 9 4 15 4 11 5-6 4-15 5-14 4 5 4 16 5 11 4 3 5-5 4-3 4-1 5 2 4 3 5-6 4-13 4-1 5 14 4 16 5 2 4-5 4 0 5 3 4-2 5-5 4-1 4 4 5 1 4-1 5 0 4 1 4 2 5 4 4 0 5-4 4-3 4 2 5 8 4 11 5 10 4 4 4-5 5-2 4 1 5-2 4 0 4 4 5 5 4-1 5-9 4-12 4-9 5-5 4 0 5 7 4 16 4 15 5 11 4 6 5-2 4-7 4-4 5-1 4-4 5-8 4-11 4-7 5 1 4 5 5 10 4 13 4 7 5 2 4-2 5-2 4-3 4-11 5-11 4-3 5 7 4 15 4 8 5 7 4 7 5 2 4-3 4-2 5 3 4 0 5-6 4-9 4-11 5 1 4 12 5 8 4 0 4-5 5 0 4 3 5 3 4 1 4-5 5-6 4-3 5 11 4 11 4-1 2-13M861 648l2 4 2 4 2 3 2 4 2 13 2 20 2 25 2 23 2 16 2 9 2-1 2-7 2-9 2-4 4 3 5 11 4 26 5 23 4 2 4-8 5-12 4-5 5-1 4 7 4 13 5 5 4-5 5-11 4 1 4 16 5 13 4 4 5-4 4-6 4-4 5 1 4 5 5 1 4-8 4-8 5-1 4 6 5 11 4 5 4-1 5 0 4 3 5 5 4 2 4 4 5 8 4 5 5-3 4-6 4-8 5-5 4 1 5 5 4 8 4 5 5 2 4-3 5-6 4 4 4 5 5 2 4-4 5 0 4 9 4 11 5 8 4-3 5-9 4-12 4-15 5-7 4-1 5 3 4 7 4 7 5 4 4 5 5 8 4 4 4 0 5-11 4-11 5-2 4 6 4 15 5 7 4-3 5-12 4-3 4 7 5 2 4-3 5 1 4 10 4 5 5 2 4 1 5-2 4 0 4-1 5-6 4-11 5 0 4 15 4 10 5 1 4-9 5-16 4-7 4-1 5 2 4 4 5 15 4 18 4 11 5-8 4-19 5-10 4 10 4 16 5 9 4-1 5-2 4-2 4-2 2-2M861 653l2 2 2 0 2 0 2 2 2 10 2 18 2 24 2 32 2 28 2 3 2-9 2-7 2-2 2 1 4 4 5 12 4 17 5 9 4-3 4 4 5 4 4-4 5-7 4-1 4 3 5 6 4 10 5 8 4 1 4-5 5-5 4 2 5 6 4-4 4-6 5 0 4 4 5 5 4 8 4 12 5 11 4 0 5-7 4-2 4 2 5-4 4-12 5-3 4 8 4 10 5 1 4 2 5 4 4 2 4 1 5 0 4 2 5 0 4-2 4-1 5-5 4-4 5 5 4 8 4 3 5-4 4-2 5 10 4 7 4 0 5-5 4-5 5-1 4 2 4 2 5 0 4-4 5 0 4 5 4 3 5-4 4-5 5 1 4 0 4-8 5-9 4 1 5 0 4 2 4 5 5 6 4 3 5 1 4 2 4 1 5 1 4 7 5 8 4-6 4-16 5 1 4 20 5 10 4-5 4-13 5-5 4 3 5 6 4 8 4 3 5 0 4-5 5-6 4 0 4-2 5-5 4-1 5 0 4 2 4 8 5 8 4-3 5-11 4-6 4-2 5 1 4 1 5 12 4 22 4 9 2-6M861 656l2 2 2 0 2 0 2 0 2 3 2 2 2 15 2 27 2 39 2 20 2-3 2-7 2 0 2 4 4 9 5 8 4 8 5-1 4-2 4-2 5-1 4 2 5 9 4 7 4 0 5 0 4 11 5 13 4 6 4-3 5-6 4-2 5-2 4-2 4 3 5 9 4 3 5-5 4-7 4 2 5 13 4 7 5 2 4-3 4-7 5-6 4-1 5 4 4 3 4-3 5 0 4 10 5 17 4 10 4-5 5-15 4-14 5-3 4 1 4 3 5 9 4 12 5 4 4 3 4 3 5 4 4 0 5-1 4 3 4 5 5 3 4-3 5-6 4-2 4-5 5-1 4 9 5 4 4-4 4-10 5 0 4 10 5 0 4-4 4 1 5 0 4-6 5-10 4-3 4 1 5 3 4 8 5 14 4 4 4-2 5-4 4 0 5-3 4-4 4 0 5 2 4-1 5 3 4 7 4 6 5 3 4-3 5-7 4-7 4-2 5 5 4 6 5 7 4 9 4 9 5 1 4-7 5-5 4-1 4 3 5 6 4 9 5 0 4-9 4-13 5-9 4 4 5 11 4 6 4-1 2-5M861 655l2 3 2 2 2 0 2 3 2 15 2 20 2 23 2 30 2 19 2 4 2-2 2-5 2-4 2-5 4 0 5 9 4 19 5 19 4 6 4 2 5-4 4 0 5 4 4 1 4-6 5-11 4-4 5-1 4-2 4 1 5 7 4 14 5 7 4 2 4 1 5 4 4 5 5 4 4-2 4-6 5-3 4 1 5 0 4-5 4-4 5 6 4 9 5 7 4 2 4-8 5-11 4-4 5 3 4 7 4 2 5-3 4 1 5 5 4 7 4-3 5-6 4-4 5 0 4 3 4 7 5 7 4-5 5-10 4-1 4 0 5 3 4 1 5 4 4 10 4 16 5 6 4 3 5-2 4-4 4-1 5 2 4-3 5-7 4 1 4 6 5-5 4-7 5 3 4 12 4 8 5 1 4-2 5-5 4-10 4-4 5 0 4 3 5 1 4 3 4 12 5 12 4 8 5-5 4-11 4-7 5 5 4 6 5 5 4 0 4-6 5-9 4-3 5 10 4 11 4 6 5 1 4-3 5-7 4-8 4-6 5 5 4 11 5 8 4 0 4-10 5-16 4-5 5 7 4 10 4 4 2 3M861 657l2-1 2-2 2 1 2 3 2 12 2 17 2 14 2 18 2 30 2 14 2-3 2-6 2-4 2-1 4 5 5 12 4 20 5 17 4 3 4-1 5 0 4 1 5-1 4-3 4-3 5-1 4 0 5 1 4 4 4 5 5 1 4-3 5 2 4 11 4 8 5 3 4-2 5-4 4-6 4 0 5 10 4 7 5-4 4-14 4 0 5 22 4 19 5 0 4-12 4-8 5 1 4 6 5 2 4-1 4-4 5-7 4-1 5 7 4 8 4 0 5-12 4-11 5-3 4 0 4 2 5 15 4 18 5 6 4-4 4-8 5 3 4 13 5 10 4-4 4-7 5 1 4 11 5 8 4-1 4-3 5-3 4 0 5 2 4 2 4 2 5-3 4-10 5-18 4-14 4-1 5 9 4 21 5 9 4 2 4 4 5 6 4 4 5-5 4-9 4-7 5-3 4 4 5-2 4-12 4-8 5 1 4 8 5 11 4 8 4 7 5 0 4-5 5-4 4 1 4 4 5-1 4-3 5-5 4 5 4 7 5 3 4-3 5-2 4 0 4-2 5 3 4 9 5 7 4-6 4-8 2 5M861 656l2 1 2 1 2 0 2 2 2 6 2 12 2 20 2 18 2 13 2 18 2 6 2 2 2-1 2-2 4 3 5 13 4 18 5 6 4-6 4-5 5-2 4 0 5 2 4 2 4 4 5 10 4 13 5 1 4-5 4-1 5 9 4 5 5-1 4-3 4 3 5 5 4 1 5-1 4 6 4 11 5 5 4-2 5-7 4-4 4-1 5 2 4-5 5-5 4 4 4 12 5 7 4 3 5-1 4-3 4-2 5-6 4-8 5-2 4 5 4 8 5 8 4 3 5 2 4 5 4 10 5 2 4-12 5-20 4 1 4 19 5 8 4 0 5-5 4-3 4 3 5 3 4-2 5-7 4 0 4-2 5-6 4-3 5 5 4 6 4 2 5 4 4 9 5 7 4 1 4-4 5 1 4 5 5 5 4-1 4-7 5-4 4 0 5 3 4 3 4 2 5 2 4 1 5-1 4-4 4-3 5 3 4 10 5 8 4-9 4-13 5-3 4 9 5 3 4-14 4-14 5-2 4 3 5 3 4 2 4 3 5 3 4-2 5 0 4 6 4 13 5 9 4 5 5 2 4-4 4-5 2-2M861 657l2 0 2 0 2-1 2 2 2 11 2 18 2 19 2 17 2 18 2 19 2 5 2-3 2-6 2-4 4 3 5 10 4 13 5 18 4 12 4 6 5-8 4-11 5 2 4 8 4 3 5-7 4-3 5 1 4 3 4 1 5-1 4 6 5 12 4 3 4-11 5-9 4 1 5 8 4 4 4-4 5-5 4 0 5 10 4 7 4-1 5-1 4 8 5 8 4-1 4-9 5-10 4-4 5 1 4 0 4 7 5 12 4 13 5 6 4 0 4-8 5-13 4-4 5 3 4 3 4 1 5 0 4 2 5 4 4 7 4 11 5 7 4-3 5-14 4-7 4 5 5 9 4 1 5-1 4 10 4 11 5 5 4-4 5-6 4-5 4-12 5-3 4 8 5 15 4 12 4 6 5-2 4-7 5-4 4-3 4-5 5 0 4 3 5 0 4-2 4 2 5 2 4-3 5-11 4 0 4 10 5 11 4 13 5 7 4 0 4-4 5-10 4-9 5-10 4-5 4 4 5 12 4 5 5 1 4 1 4 10 5 8 4-9 5-17 4-6 4 15 5 16 4 4 5-4 4-3 4-4 2-7M861 658l2 0 2-2 2 0 2 2 2 12 2 19 2 21 2 18 2 12 2 13 2 5 2 1 2 1 2 1 4 4 5 6 4 18 5 19 4-4 4-13 5-1 4 5 5 3 4 4 4 8 5 7 4-1 5-5 4-5 4 4 5 5 4 1 5 3 4 6 4 4 5-5 4-8 5 8 4 12 4 7 5-7 4-7 5-5 4 3 4 6 5 5 4 3 5-4 4-13 4-4 5 10 4 10 5-2 4-10 4-3 5 8 4 13 5 8 4 1 4-7 5-10 4 2 5 14 4 9 4-4 5-15 4-11 5-1 4 6 4 3 5-4 4-3 5 2 4 7 4 7 5 2 4-7 5-5 4 1 4 3 5-1 4 2 5 6 4 8 4 8 5 5 4 3 5-4 4-4 4 5 5 7 4 3 5-9 4-8 4-3 5-5 4-4 5 1 4 11 4 7 5-7 4-5 5-5 4-5 4 0 5 5 4 11 5 7 4 3 4 2 5 1 4 3 5 3 4 1 4 1 5 1 4 4 5 6 4 7 4 4 5-5 4-6 5 0 4-2 4 1 5 2 4-3 5-10 4-14 4-4 2 3"/>
<path class="r" d="M861 655l1 1 1 0 1 1 1 0 1 1 1 0 1 1 1 3 1 6 1 10 1 10 1 11 1 12 1 14 1 12 1 11 1 12 1 10 1 6 1-1 1-4 1-6 1-4 1-2 1-1 1-1 1-1 1-1 1 0 1 0 1 2 1 2 1 2 1 3 1 3 1 3 1 4 1 3 1 5 1 4 1 5 1 5 1 6 1 7 1 5 1 3 1-1 1-1 1-2 1-2 1-2 1-2 1-1 1-1 1-1 1-1 1-1 1 0 1-1 1 0 1 1 1 0 1 1 1 1 1 1 1 1 1 1 1 1 1 1 1 0 1 1 1 1 1 1 1 1 1 0 1 0 1 0 1 0 1 1 1 0 3 0 3 0 3 1 3 1 3 1 3 1 3 1 3 1 3 1 3 1 3 1 3 1 3 1 3 1 3 1 3 1 3 1 3 0 3 1 3 1 3 1 3 1 3 0 3 1 3 1 3 1 3 0 3 1 3 1 3 1 3 0 3 1 3 1 3 0 3 1 3 1 3 0 3 1 3 0 3 1 3 0 3 1 3 0 3 1 3 0 3 1 3 0 3 1 3 0 3 1 3 0 3 1 3 1 3 0 3 1 3 0 3 1 3 0 3 1 3 0 3 1 3 0 3 0 3 1 3 0 3 1 3 0 3 0 3 1 3 0 3 0 3 1 3 0 3 0 3 1 3 0 3 0 3 1 3 0 3 1 3 0 3 0 3 1 3 0 3 1 3 0 3 0 3 1 3 0 3 1 3 0 3 1 3 0 3 0 3 1 3 0 3 1 3 0 3 1 3 0 3 1 3 0 3 0 3 1 3 0 3 1 3 0 3 1 3 0 3 0 3 1 3 0 3 1 3 0 3 0 3 1 3 0 3 0 3 1 3 0 3 0 3 1 3 0 3 0 3 1 3 0 3 0 3 1 3 0 3 0 3 1 3 0 3 0 3 1 3 0 3 0 3 0 3 1 3 0 3 0 3 1 3 0 3 0 3 0 3 1 3 0 3 0 3 0 3 1 3 0 3 0 3 0 3 1"/>
<path class="f" d="M430.5 279.5H700.5V498.5H430.5Z"/>
<path class="f" d="M483.5 498.5v-3M483.5 279.5v3M538.5 498.5v-3M538.5 279.5v3M592.5 498.5v-3M592.5 279.5v3M646.5 498.5v-3M646.5 279.5v3M430.5 310.5h3M700.5 310.5h-3M430.5 342.5h3M700.5 342.5h-3M430.5 373.5h3M700.5 373.5h-3M430.5 404.5h3M700.5 404.5h-3M430.5 435.5h3M700.5 435.5h-3M430.5 466.5h3M700.5 466.5h-3"/>
<text class="t" text-anchor="end" transform="translate(426.3 284.1) scale(0.845 1)">30</text>
<text class="t" text-anchor="end" transform="translate(426.3 315.1) scale(0.845 1)">40</text>
<text class="t" text-anchor="end" transform="translate(426.3 347.1) scale(0.845 1)">50</text>
<text class="t" text-anchor="end" transform="translate(426.3 378.1) scale(0.845 1)">60</text>
<text class="t" text-anchor="end" transform="translate(426.3 409.1) scale(0.845 1)">70</text>
<text class="t" text-anchor="end" transform="translate(426.3 440.1) scale(0.845 1)">80</text>
<text class="t" text-anchor="end" transform="translate(426.3 471.1) scale(0.845 1)">90</text>
<text class="t" text-anchor="end" transform="translate(426.3 503.1) scale(0.845 1)">100</text>
<text class="t" text-anchor="middle" transform="translate(429.5 512.9) scale(0.845 1)">0</text>
<text class="t" text-anchor="middle" transform="translate(482.5 512.9) scale(0.845 1)">1</text>
<text class="t" text-anchor="middle" transform="translate(537.5 512.9) scale(0.845 1)">2</text>
<text class="t" text-anchor="middle" transform="translate(591.5 512.9) scale(0.845 1)">3</text>
<text class="t" text-anchor="middle" transform="translate(645.5 512.9) scale(0.845 1)">4</text>
<text class="t" text-anchor="middle" transform="translate(699.5 512.9) scale(0.845 1)">5</text>
<text class="l" text-anchor="middle" x="564.4" y="526.7" textLength="63.6" lengthAdjust="spacingAndGlyphs">Range(km)</text>
<text class="l" text-anchor="middle" transform="translate(401.3 388.3) rotate(-90)" textLength="137.7" lengthAdjust="spacingAndGlyphs">Transmission loss(dB)</text>
<text class="a" transform="translate(486.6 330.0) scale(0.970 1)">zs=-200m</text>
<text class="s" x="361.8" y="532.7">(d)</text>
</g>
<path d="M367 534.2l1 1.4 1-1.4 1 1.4 1-1.4 1 1.4 1-1.4 1 1.4 0.7-1" fill="none" stroke="#1c8c2c" stroke-width="1"/>
</svg>
</body></html>
